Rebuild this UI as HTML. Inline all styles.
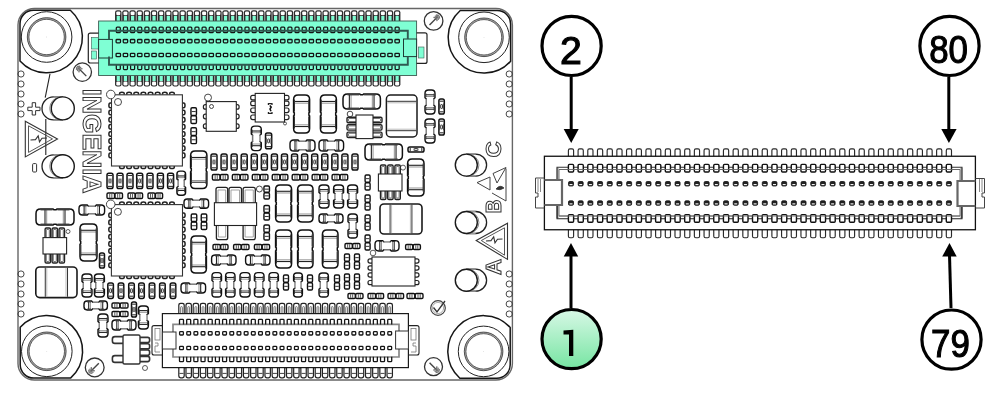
<!DOCTYPE html><html><head><meta charset="utf-8"><style>html,body{margin:0;padding:0;background:#fff;width:1000px;height:400px;overflow:hidden}svg{display:block}</style></head><body>
<svg width="1000" height="400" viewBox="0 0 1000 400" style="will-change:transform">
<defs><linearGradient id="gg" x1="0" y1="0" x2="0" y2="1"><stop offset="0" stop-color="#d8f8e6"/><stop offset="1" stop-color="#76e5a2"/></linearGradient></defs>
<rect width="1000" height="400" fill="#fff"/>
<rect x="18" y="8.5" width="494.4" height="371.5" rx="16.5" fill="none" stroke="#666" stroke-width="1.4" />
<path d="M70.34,10.2 A35.8,35.8 0 1 1 20,60.96 L20,23.7 A13.5,13.5 0 0 1 33.5,10.2 Z" fill="none" stroke="#161616" stroke-width="1.5" />
<circle cx="46.6" cy="37" r="25.3" fill="none" stroke="#222" stroke-width="1" />
<circle cx="46.6" cy="37" r="18.5" fill="none" stroke="#aaa" stroke-width="1.8" />
<circle cx="46.6" cy="37" r="19.3" fill="none" stroke="#333" stroke-width="0.8" />
<circle cx="46.6" cy="37" r="17.7" fill="none" stroke="#444" stroke-width="0.8" />
<circle cx="46.6" cy="37" r="0.4" fill="#bbb" stroke="none" stroke-width="1" />
<path d="M460.26,10.5 A35.8,35.8 0 1 0 510.6,61.26 L510.6,24 A13.5,13.5 0 0 0 497.1,10.5 Z" fill="none" stroke="#161616" stroke-width="1.5" />
<circle cx="484" cy="37.3" r="25.3" fill="none" stroke="#222" stroke-width="1" />
<circle cx="484" cy="37.3" r="18.5" fill="none" stroke="#aaa" stroke-width="1.8" />
<circle cx="484" cy="37.3" r="19.3" fill="none" stroke="#333" stroke-width="0.8" />
<circle cx="484" cy="37.3" r="17.7" fill="none" stroke="#444" stroke-width="0.8" />
<circle cx="484" cy="37.3" r="0.4" fill="#bbb" stroke="none" stroke-width="1" />
<path d="M70.54,378.1 A35.8,35.8 0 1 0 20.2,327.34 L20.2,364.6 A13.5,13.5 0 0 0 33.7,378.1 Z" fill="none" stroke="#161616" stroke-width="1.5" />
<circle cx="46.8" cy="351.3" r="25.3" fill="none" stroke="#222" stroke-width="1" />
<circle cx="46.8" cy="351.3" r="18.5" fill="none" stroke="#aaa" stroke-width="1.8" />
<circle cx="46.8" cy="351.3" r="19.3" fill="none" stroke="#333" stroke-width="0.8" />
<circle cx="46.8" cy="351.3" r="17.7" fill="none" stroke="#444" stroke-width="0.8" />
<circle cx="46.8" cy="351.3" r="0.4" fill="#bbb" stroke="none" stroke-width="1" />
<path d="M459.86,378.2 A35.8,35.8 0 1 1 510.2,327.44 L510.2,364.7 A13.5,13.5 0 0 1 496.7,378.2 Z" fill="none" stroke="#161616" stroke-width="1.5" />
<circle cx="483.6" cy="351.4" r="25.3" fill="none" stroke="#222" stroke-width="1" />
<circle cx="483.6" cy="351.4" r="18.5" fill="none" stroke="#aaa" stroke-width="1.8" />
<circle cx="483.6" cy="351.4" r="19.3" fill="none" stroke="#333" stroke-width="0.8" />
<circle cx="483.6" cy="351.4" r="17.7" fill="none" stroke="#444" stroke-width="0.8" />
<circle cx="483.6" cy="351.4" r="0.4" fill="#bbb" stroke="none" stroke-width="1" />
<circle cx="21" cy="74" r="3.1" fill="none" stroke="#333" stroke-width="0.9" />
<circle cx="21" cy="84" r="3.1" fill="none" stroke="#333" stroke-width="0.9" />
<circle cx="21" cy="94" r="3.1" fill="none" stroke="#333" stroke-width="0.9" />
<circle cx="21" cy="104" r="3.1" fill="none" stroke="#333" stroke-width="0.9" />
<circle cx="21" cy="114" r="3.1" fill="none" stroke="#333" stroke-width="0.9" />
<circle cx="21" cy="274" r="3.1" fill="none" stroke="#333" stroke-width="0.9" />
<circle cx="21" cy="284" r="3.1" fill="none" stroke="#333" stroke-width="0.9" />
<circle cx="21" cy="294" r="3.1" fill="none" stroke="#333" stroke-width="0.9" />
<circle cx="21" cy="304" r="3.1" fill="none" stroke="#333" stroke-width="0.9" />
<circle cx="21" cy="314" r="3.1" fill="none" stroke="#333" stroke-width="0.9" />
<circle cx="509.2" cy="74" r="3.1" fill="none" stroke="#333" stroke-width="0.9" />
<circle cx="509.2" cy="84" r="3.1" fill="none" stroke="#333" stroke-width="0.9" />
<circle cx="509.2" cy="94" r="3.1" fill="none" stroke="#333" stroke-width="0.9" />
<circle cx="509.2" cy="104" r="3.1" fill="none" stroke="#333" stroke-width="0.9" />
<circle cx="509.2" cy="114" r="3.1" fill="none" stroke="#333" stroke-width="0.9" />
<circle cx="509.2" cy="274" r="3.1" fill="none" stroke="#333" stroke-width="0.9" />
<circle cx="509.2" cy="284" r="3.1" fill="none" stroke="#333" stroke-width="0.9" />
<circle cx="509.2" cy="294" r="3.1" fill="none" stroke="#333" stroke-width="0.9" />
<circle cx="509.2" cy="304" r="3.1" fill="none" stroke="#333" stroke-width="0.9" />
<circle cx="509.2" cy="314" r="3.1" fill="none" stroke="#333" stroke-width="0.9" />
<rect x="115.05" y="10.3" width="6.5" height="12.7" rx="2.2" fill="#2b2b2b" stroke="none" stroke-width="1" />
<rect x="116.3" y="11.4" width="4" height="3.9" rx="1.2" fill="#fff" stroke="none" stroke-width="1" />
<rect x="116.7" y="16" width="3.2" height="6" rx="0" fill="#7fffd4" stroke="none" stroke-width="1" />
<rect x="115.05" y="73" width="6.5" height="13.5" rx="2.2" fill="#2b2b2b" stroke="none" stroke-width="1" />
<rect x="116.7" y="74" width="3.2" height="7" rx="0" fill="#7fffd4" stroke="none" stroke-width="1" />
<rect x="116.3" y="81.6" width="4" height="3.8" rx="1.2" fill="#fff" stroke="none" stroke-width="1" />
<rect x="122.2" y="10.3" width="6.5" height="12.7" rx="2.2" fill="#2b2b2b" stroke="none" stroke-width="1" />
<rect x="123.45" y="11.4" width="4" height="3.9" rx="1.2" fill="#fff" stroke="none" stroke-width="1" />
<rect x="123.85" y="16" width="3.2" height="6" rx="0" fill="#7fffd4" stroke="none" stroke-width="1" />
<rect x="122.2" y="73" width="6.5" height="13.5" rx="2.2" fill="#2b2b2b" stroke="none" stroke-width="1" />
<rect x="123.85" y="74" width="3.2" height="7" rx="0" fill="#7fffd4" stroke="none" stroke-width="1" />
<rect x="123.45" y="81.6" width="4" height="3.8" rx="1.2" fill="#fff" stroke="none" stroke-width="1" />
<rect x="129.35" y="10.3" width="6.5" height="12.7" rx="2.2" fill="#2b2b2b" stroke="none" stroke-width="1" />
<rect x="130.6" y="11.4" width="4" height="3.9" rx="1.2" fill="#fff" stroke="none" stroke-width="1" />
<rect x="131" y="16" width="3.2" height="6" rx="0" fill="#7fffd4" stroke="none" stroke-width="1" />
<rect x="129.35" y="73" width="6.5" height="13.5" rx="2.2" fill="#2b2b2b" stroke="none" stroke-width="1" />
<rect x="131" y="74" width="3.2" height="7" rx="0" fill="#7fffd4" stroke="none" stroke-width="1" />
<rect x="130.6" y="81.6" width="4" height="3.8" rx="1.2" fill="#fff" stroke="none" stroke-width="1" />
<rect x="136.5" y="10.3" width="6.5" height="12.7" rx="2.2" fill="#2b2b2b" stroke="none" stroke-width="1" />
<rect x="137.75" y="11.4" width="4" height="3.9" rx="1.2" fill="#fff" stroke="none" stroke-width="1" />
<rect x="138.15" y="16" width="3.2" height="6" rx="0" fill="#7fffd4" stroke="none" stroke-width="1" />
<rect x="136.5" y="73" width="6.5" height="13.5" rx="2.2" fill="#2b2b2b" stroke="none" stroke-width="1" />
<rect x="138.15" y="74" width="3.2" height="7" rx="0" fill="#7fffd4" stroke="none" stroke-width="1" />
<rect x="137.75" y="81.6" width="4" height="3.8" rx="1.2" fill="#fff" stroke="none" stroke-width="1" />
<rect x="143.65" y="10.3" width="6.5" height="12.7" rx="2.2" fill="#2b2b2b" stroke="none" stroke-width="1" />
<rect x="144.9" y="11.4" width="4" height="3.9" rx="1.2" fill="#fff" stroke="none" stroke-width="1" />
<rect x="145.3" y="16" width="3.2" height="6" rx="0" fill="#7fffd4" stroke="none" stroke-width="1" />
<rect x="143.65" y="73" width="6.5" height="13.5" rx="2.2" fill="#2b2b2b" stroke="none" stroke-width="1" />
<rect x="145.3" y="74" width="3.2" height="7" rx="0" fill="#7fffd4" stroke="none" stroke-width="1" />
<rect x="144.9" y="81.6" width="4" height="3.8" rx="1.2" fill="#fff" stroke="none" stroke-width="1" />
<rect x="150.8" y="10.3" width="6.5" height="12.7" rx="2.2" fill="#2b2b2b" stroke="none" stroke-width="1" />
<rect x="152.05" y="11.4" width="4" height="3.9" rx="1.2" fill="#fff" stroke="none" stroke-width="1" />
<rect x="152.45" y="16" width="3.2" height="6" rx="0" fill="#7fffd4" stroke="none" stroke-width="1" />
<rect x="150.8" y="73" width="6.5" height="13.5" rx="2.2" fill="#2b2b2b" stroke="none" stroke-width="1" />
<rect x="152.45" y="74" width="3.2" height="7" rx="0" fill="#7fffd4" stroke="none" stroke-width="1" />
<rect x="152.05" y="81.6" width="4" height="3.8" rx="1.2" fill="#fff" stroke="none" stroke-width="1" />
<rect x="157.95" y="10.3" width="6.5" height="12.7" rx="2.2" fill="#2b2b2b" stroke="none" stroke-width="1" />
<rect x="159.2" y="11.4" width="4" height="3.9" rx="1.2" fill="#fff" stroke="none" stroke-width="1" />
<rect x="159.6" y="16" width="3.2" height="6" rx="0" fill="#7fffd4" stroke="none" stroke-width="1" />
<rect x="157.95" y="73" width="6.5" height="13.5" rx="2.2" fill="#2b2b2b" stroke="none" stroke-width="1" />
<rect x="159.6" y="74" width="3.2" height="7" rx="0" fill="#7fffd4" stroke="none" stroke-width="1" />
<rect x="159.2" y="81.6" width="4" height="3.8" rx="1.2" fill="#fff" stroke="none" stroke-width="1" />
<rect x="165.1" y="10.3" width="6.5" height="12.7" rx="2.2" fill="#2b2b2b" stroke="none" stroke-width="1" />
<rect x="166.35" y="11.4" width="4" height="3.9" rx="1.2" fill="#fff" stroke="none" stroke-width="1" />
<rect x="166.75" y="16" width="3.2" height="6" rx="0" fill="#7fffd4" stroke="none" stroke-width="1" />
<rect x="165.1" y="73" width="6.5" height="13.5" rx="2.2" fill="#2b2b2b" stroke="none" stroke-width="1" />
<rect x="166.75" y="74" width="3.2" height="7" rx="0" fill="#7fffd4" stroke="none" stroke-width="1" />
<rect x="166.35" y="81.6" width="4" height="3.8" rx="1.2" fill="#fff" stroke="none" stroke-width="1" />
<rect x="172.25" y="10.3" width="6.5" height="12.7" rx="2.2" fill="#2b2b2b" stroke="none" stroke-width="1" />
<rect x="173.5" y="11.4" width="4" height="3.9" rx="1.2" fill="#fff" stroke="none" stroke-width="1" />
<rect x="173.9" y="16" width="3.2" height="6" rx="0" fill="#7fffd4" stroke="none" stroke-width="1" />
<rect x="172.25" y="73" width="6.5" height="13.5" rx="2.2" fill="#2b2b2b" stroke="none" stroke-width="1" />
<rect x="173.9" y="74" width="3.2" height="7" rx="0" fill="#7fffd4" stroke="none" stroke-width="1" />
<rect x="173.5" y="81.6" width="4" height="3.8" rx="1.2" fill="#fff" stroke="none" stroke-width="1" />
<rect x="179.4" y="10.3" width="6.5" height="12.7" rx="2.2" fill="#2b2b2b" stroke="none" stroke-width="1" />
<rect x="180.65" y="11.4" width="4" height="3.9" rx="1.2" fill="#fff" stroke="none" stroke-width="1" />
<rect x="181.05" y="16" width="3.2" height="6" rx="0" fill="#7fffd4" stroke="none" stroke-width="1" />
<rect x="179.4" y="73" width="6.5" height="13.5" rx="2.2" fill="#2b2b2b" stroke="none" stroke-width="1" />
<rect x="181.05" y="74" width="3.2" height="7" rx="0" fill="#7fffd4" stroke="none" stroke-width="1" />
<rect x="180.65" y="81.6" width="4" height="3.8" rx="1.2" fill="#fff" stroke="none" stroke-width="1" />
<rect x="186.55" y="10.3" width="6.5" height="12.7" rx="2.2" fill="#2b2b2b" stroke="none" stroke-width="1" />
<rect x="187.8" y="11.4" width="4" height="3.9" rx="1.2" fill="#fff" stroke="none" stroke-width="1" />
<rect x="188.2" y="16" width="3.2" height="6" rx="0" fill="#7fffd4" stroke="none" stroke-width="1" />
<rect x="186.55" y="73" width="6.5" height="13.5" rx="2.2" fill="#2b2b2b" stroke="none" stroke-width="1" />
<rect x="188.2" y="74" width="3.2" height="7" rx="0" fill="#7fffd4" stroke="none" stroke-width="1" />
<rect x="187.8" y="81.6" width="4" height="3.8" rx="1.2" fill="#fff" stroke="none" stroke-width="1" />
<rect x="193.7" y="10.3" width="6.5" height="12.7" rx="2.2" fill="#2b2b2b" stroke="none" stroke-width="1" />
<rect x="194.95" y="11.4" width="4" height="3.9" rx="1.2" fill="#fff" stroke="none" stroke-width="1" />
<rect x="195.35" y="16" width="3.2" height="6" rx="0" fill="#7fffd4" stroke="none" stroke-width="1" />
<rect x="193.7" y="73" width="6.5" height="13.5" rx="2.2" fill="#2b2b2b" stroke="none" stroke-width="1" />
<rect x="195.35" y="74" width="3.2" height="7" rx="0" fill="#7fffd4" stroke="none" stroke-width="1" />
<rect x="194.95" y="81.6" width="4" height="3.8" rx="1.2" fill="#fff" stroke="none" stroke-width="1" />
<rect x="200.85" y="10.3" width="6.5" height="12.7" rx="2.2" fill="#2b2b2b" stroke="none" stroke-width="1" />
<rect x="202.1" y="11.4" width="4" height="3.9" rx="1.2" fill="#fff" stroke="none" stroke-width="1" />
<rect x="202.5" y="16" width="3.2" height="6" rx="0" fill="#7fffd4" stroke="none" stroke-width="1" />
<rect x="200.85" y="73" width="6.5" height="13.5" rx="2.2" fill="#2b2b2b" stroke="none" stroke-width="1" />
<rect x="202.5" y="74" width="3.2" height="7" rx="0" fill="#7fffd4" stroke="none" stroke-width="1" />
<rect x="202.1" y="81.6" width="4" height="3.8" rx="1.2" fill="#fff" stroke="none" stroke-width="1" />
<rect x="208" y="10.3" width="6.5" height="12.7" rx="2.2" fill="#2b2b2b" stroke="none" stroke-width="1" />
<rect x="209.25" y="11.4" width="4" height="3.9" rx="1.2" fill="#fff" stroke="none" stroke-width="1" />
<rect x="209.65" y="16" width="3.2" height="6" rx="0" fill="#7fffd4" stroke="none" stroke-width="1" />
<rect x="208" y="73" width="6.5" height="13.5" rx="2.2" fill="#2b2b2b" stroke="none" stroke-width="1" />
<rect x="209.65" y="74" width="3.2" height="7" rx="0" fill="#7fffd4" stroke="none" stroke-width="1" />
<rect x="209.25" y="81.6" width="4" height="3.8" rx="1.2" fill="#fff" stroke="none" stroke-width="1" />
<rect x="215.15" y="10.3" width="6.5" height="12.7" rx="2.2" fill="#2b2b2b" stroke="none" stroke-width="1" />
<rect x="216.4" y="11.4" width="4" height="3.9" rx="1.2" fill="#fff" stroke="none" stroke-width="1" />
<rect x="216.8" y="16" width="3.2" height="6" rx="0" fill="#7fffd4" stroke="none" stroke-width="1" />
<rect x="215.15" y="73" width="6.5" height="13.5" rx="2.2" fill="#2b2b2b" stroke="none" stroke-width="1" />
<rect x="216.8" y="74" width="3.2" height="7" rx="0" fill="#7fffd4" stroke="none" stroke-width="1" />
<rect x="216.4" y="81.6" width="4" height="3.8" rx="1.2" fill="#fff" stroke="none" stroke-width="1" />
<rect x="222.3" y="10.3" width="6.5" height="12.7" rx="2.2" fill="#2b2b2b" stroke="none" stroke-width="1" />
<rect x="223.55" y="11.4" width="4" height="3.9" rx="1.2" fill="#fff" stroke="none" stroke-width="1" />
<rect x="223.95" y="16" width="3.2" height="6" rx="0" fill="#7fffd4" stroke="none" stroke-width="1" />
<rect x="222.3" y="73" width="6.5" height="13.5" rx="2.2" fill="#2b2b2b" stroke="none" stroke-width="1" />
<rect x="223.95" y="74" width="3.2" height="7" rx="0" fill="#7fffd4" stroke="none" stroke-width="1" />
<rect x="223.55" y="81.6" width="4" height="3.8" rx="1.2" fill="#fff" stroke="none" stroke-width="1" />
<rect x="229.45" y="10.3" width="6.5" height="12.7" rx="2.2" fill="#2b2b2b" stroke="none" stroke-width="1" />
<rect x="230.7" y="11.4" width="4" height="3.9" rx="1.2" fill="#fff" stroke="none" stroke-width="1" />
<rect x="231.1" y="16" width="3.2" height="6" rx="0" fill="#7fffd4" stroke="none" stroke-width="1" />
<rect x="229.45" y="73" width="6.5" height="13.5" rx="2.2" fill="#2b2b2b" stroke="none" stroke-width="1" />
<rect x="231.1" y="74" width="3.2" height="7" rx="0" fill="#7fffd4" stroke="none" stroke-width="1" />
<rect x="230.7" y="81.6" width="4" height="3.8" rx="1.2" fill="#fff" stroke="none" stroke-width="1" />
<rect x="236.6" y="10.3" width="6.5" height="12.7" rx="2.2" fill="#2b2b2b" stroke="none" stroke-width="1" />
<rect x="237.85" y="11.4" width="4" height="3.9" rx="1.2" fill="#fff" stroke="none" stroke-width="1" />
<rect x="238.25" y="16" width="3.2" height="6" rx="0" fill="#7fffd4" stroke="none" stroke-width="1" />
<rect x="236.6" y="73" width="6.5" height="13.5" rx="2.2" fill="#2b2b2b" stroke="none" stroke-width="1" />
<rect x="238.25" y="74" width="3.2" height="7" rx="0" fill="#7fffd4" stroke="none" stroke-width="1" />
<rect x="237.85" y="81.6" width="4" height="3.8" rx="1.2" fill="#fff" stroke="none" stroke-width="1" />
<rect x="243.75" y="10.3" width="6.5" height="12.7" rx="2.2" fill="#2b2b2b" stroke="none" stroke-width="1" />
<rect x="245" y="11.4" width="4" height="3.9" rx="1.2" fill="#fff" stroke="none" stroke-width="1" />
<rect x="245.4" y="16" width="3.2" height="6" rx="0" fill="#7fffd4" stroke="none" stroke-width="1" />
<rect x="243.75" y="73" width="6.5" height="13.5" rx="2.2" fill="#2b2b2b" stroke="none" stroke-width="1" />
<rect x="245.4" y="74" width="3.2" height="7" rx="0" fill="#7fffd4" stroke="none" stroke-width="1" />
<rect x="245" y="81.6" width="4" height="3.8" rx="1.2" fill="#fff" stroke="none" stroke-width="1" />
<rect x="250.9" y="10.3" width="6.5" height="12.7" rx="2.2" fill="#2b2b2b" stroke="none" stroke-width="1" />
<rect x="252.15" y="11.4" width="4" height="3.9" rx="1.2" fill="#fff" stroke="none" stroke-width="1" />
<rect x="252.55" y="16" width="3.2" height="6" rx="0" fill="#7fffd4" stroke="none" stroke-width="1" />
<rect x="250.9" y="73" width="6.5" height="13.5" rx="2.2" fill="#2b2b2b" stroke="none" stroke-width="1" />
<rect x="252.55" y="74" width="3.2" height="7" rx="0" fill="#7fffd4" stroke="none" stroke-width="1" />
<rect x="252.15" y="81.6" width="4" height="3.8" rx="1.2" fill="#fff" stroke="none" stroke-width="1" />
<rect x="258.05" y="10.3" width="6.5" height="12.7" rx="2.2" fill="#2b2b2b" stroke="none" stroke-width="1" />
<rect x="259.3" y="11.4" width="4" height="3.9" rx="1.2" fill="#fff" stroke="none" stroke-width="1" />
<rect x="259.7" y="16" width="3.2" height="6" rx="0" fill="#7fffd4" stroke="none" stroke-width="1" />
<rect x="258.05" y="73" width="6.5" height="13.5" rx="2.2" fill="#2b2b2b" stroke="none" stroke-width="1" />
<rect x="259.7" y="74" width="3.2" height="7" rx="0" fill="#7fffd4" stroke="none" stroke-width="1" />
<rect x="259.3" y="81.6" width="4" height="3.8" rx="1.2" fill="#fff" stroke="none" stroke-width="1" />
<rect x="265.2" y="10.3" width="6.5" height="12.7" rx="2.2" fill="#2b2b2b" stroke="none" stroke-width="1" />
<rect x="266.45" y="11.4" width="4" height="3.9" rx="1.2" fill="#fff" stroke="none" stroke-width="1" />
<rect x="266.85" y="16" width="3.2" height="6" rx="0" fill="#7fffd4" stroke="none" stroke-width="1" />
<rect x="265.2" y="73" width="6.5" height="13.5" rx="2.2" fill="#2b2b2b" stroke="none" stroke-width="1" />
<rect x="266.85" y="74" width="3.2" height="7" rx="0" fill="#7fffd4" stroke="none" stroke-width="1" />
<rect x="266.45" y="81.6" width="4" height="3.8" rx="1.2" fill="#fff" stroke="none" stroke-width="1" />
<rect x="272.35" y="10.3" width="6.5" height="12.7" rx="2.2" fill="#2b2b2b" stroke="none" stroke-width="1" />
<rect x="273.6" y="11.4" width="4" height="3.9" rx="1.2" fill="#fff" stroke="none" stroke-width="1" />
<rect x="274" y="16" width="3.2" height="6" rx="0" fill="#7fffd4" stroke="none" stroke-width="1" />
<rect x="272.35" y="73" width="6.5" height="13.5" rx="2.2" fill="#2b2b2b" stroke="none" stroke-width="1" />
<rect x="274" y="74" width="3.2" height="7" rx="0" fill="#7fffd4" stroke="none" stroke-width="1" />
<rect x="273.6" y="81.6" width="4" height="3.8" rx="1.2" fill="#fff" stroke="none" stroke-width="1" />
<rect x="279.5" y="10.3" width="6.5" height="12.7" rx="2.2" fill="#2b2b2b" stroke="none" stroke-width="1" />
<rect x="280.75" y="11.4" width="4" height="3.9" rx="1.2" fill="#fff" stroke="none" stroke-width="1" />
<rect x="281.15" y="16" width="3.2" height="6" rx="0" fill="#7fffd4" stroke="none" stroke-width="1" />
<rect x="279.5" y="73" width="6.5" height="13.5" rx="2.2" fill="#2b2b2b" stroke="none" stroke-width="1" />
<rect x="281.15" y="74" width="3.2" height="7" rx="0" fill="#7fffd4" stroke="none" stroke-width="1" />
<rect x="280.75" y="81.6" width="4" height="3.8" rx="1.2" fill="#fff" stroke="none" stroke-width="1" />
<rect x="286.65" y="10.3" width="6.5" height="12.7" rx="2.2" fill="#2b2b2b" stroke="none" stroke-width="1" />
<rect x="287.9" y="11.4" width="4" height="3.9" rx="1.2" fill="#fff" stroke="none" stroke-width="1" />
<rect x="288.3" y="16" width="3.2" height="6" rx="0" fill="#7fffd4" stroke="none" stroke-width="1" />
<rect x="286.65" y="73" width="6.5" height="13.5" rx="2.2" fill="#2b2b2b" stroke="none" stroke-width="1" />
<rect x="288.3" y="74" width="3.2" height="7" rx="0" fill="#7fffd4" stroke="none" stroke-width="1" />
<rect x="287.9" y="81.6" width="4" height="3.8" rx="1.2" fill="#fff" stroke="none" stroke-width="1" />
<rect x="293.8" y="10.3" width="6.5" height="12.7" rx="2.2" fill="#2b2b2b" stroke="none" stroke-width="1" />
<rect x="295.05" y="11.4" width="4" height="3.9" rx="1.2" fill="#fff" stroke="none" stroke-width="1" />
<rect x="295.45" y="16" width="3.2" height="6" rx="0" fill="#7fffd4" stroke="none" stroke-width="1" />
<rect x="293.8" y="73" width="6.5" height="13.5" rx="2.2" fill="#2b2b2b" stroke="none" stroke-width="1" />
<rect x="295.45" y="74" width="3.2" height="7" rx="0" fill="#7fffd4" stroke="none" stroke-width="1" />
<rect x="295.05" y="81.6" width="4" height="3.8" rx="1.2" fill="#fff" stroke="none" stroke-width="1" />
<rect x="300.95" y="10.3" width="6.5" height="12.7" rx="2.2" fill="#2b2b2b" stroke="none" stroke-width="1" />
<rect x="302.2" y="11.4" width="4" height="3.9" rx="1.2" fill="#fff" stroke="none" stroke-width="1" />
<rect x="302.6" y="16" width="3.2" height="6" rx="0" fill="#7fffd4" stroke="none" stroke-width="1" />
<rect x="300.95" y="73" width="6.5" height="13.5" rx="2.2" fill="#2b2b2b" stroke="none" stroke-width="1" />
<rect x="302.6" y="74" width="3.2" height="7" rx="0" fill="#7fffd4" stroke="none" stroke-width="1" />
<rect x="302.2" y="81.6" width="4" height="3.8" rx="1.2" fill="#fff" stroke="none" stroke-width="1" />
<rect x="308.1" y="10.3" width="6.5" height="12.7" rx="2.2" fill="#2b2b2b" stroke="none" stroke-width="1" />
<rect x="309.35" y="11.4" width="4" height="3.9" rx="1.2" fill="#fff" stroke="none" stroke-width="1" />
<rect x="309.75" y="16" width="3.2" height="6" rx="0" fill="#7fffd4" stroke="none" stroke-width="1" />
<rect x="308.1" y="73" width="6.5" height="13.5" rx="2.2" fill="#2b2b2b" stroke="none" stroke-width="1" />
<rect x="309.75" y="74" width="3.2" height="7" rx="0" fill="#7fffd4" stroke="none" stroke-width="1" />
<rect x="309.35" y="81.6" width="4" height="3.8" rx="1.2" fill="#fff" stroke="none" stroke-width="1" />
<rect x="315.25" y="10.3" width="6.5" height="12.7" rx="2.2" fill="#2b2b2b" stroke="none" stroke-width="1" />
<rect x="316.5" y="11.4" width="4" height="3.9" rx="1.2" fill="#fff" stroke="none" stroke-width="1" />
<rect x="316.9" y="16" width="3.2" height="6" rx="0" fill="#7fffd4" stroke="none" stroke-width="1" />
<rect x="315.25" y="73" width="6.5" height="13.5" rx="2.2" fill="#2b2b2b" stroke="none" stroke-width="1" />
<rect x="316.9" y="74" width="3.2" height="7" rx="0" fill="#7fffd4" stroke="none" stroke-width="1" />
<rect x="316.5" y="81.6" width="4" height="3.8" rx="1.2" fill="#fff" stroke="none" stroke-width="1" />
<rect x="322.4" y="10.3" width="6.5" height="12.7" rx="2.2" fill="#2b2b2b" stroke="none" stroke-width="1" />
<rect x="323.65" y="11.4" width="4" height="3.9" rx="1.2" fill="#fff" stroke="none" stroke-width="1" />
<rect x="324.05" y="16" width="3.2" height="6" rx="0" fill="#7fffd4" stroke="none" stroke-width="1" />
<rect x="322.4" y="73" width="6.5" height="13.5" rx="2.2" fill="#2b2b2b" stroke="none" stroke-width="1" />
<rect x="324.05" y="74" width="3.2" height="7" rx="0" fill="#7fffd4" stroke="none" stroke-width="1" />
<rect x="323.65" y="81.6" width="4" height="3.8" rx="1.2" fill="#fff" stroke="none" stroke-width="1" />
<rect x="329.55" y="10.3" width="6.5" height="12.7" rx="2.2" fill="#2b2b2b" stroke="none" stroke-width="1" />
<rect x="330.8" y="11.4" width="4" height="3.9" rx="1.2" fill="#fff" stroke="none" stroke-width="1" />
<rect x="331.2" y="16" width="3.2" height="6" rx="0" fill="#7fffd4" stroke="none" stroke-width="1" />
<rect x="329.55" y="73" width="6.5" height="13.5" rx="2.2" fill="#2b2b2b" stroke="none" stroke-width="1" />
<rect x="331.2" y="74" width="3.2" height="7" rx="0" fill="#7fffd4" stroke="none" stroke-width="1" />
<rect x="330.8" y="81.6" width="4" height="3.8" rx="1.2" fill="#fff" stroke="none" stroke-width="1" />
<rect x="336.7" y="10.3" width="6.5" height="12.7" rx="2.2" fill="#2b2b2b" stroke="none" stroke-width="1" />
<rect x="337.95" y="11.4" width="4" height="3.9" rx="1.2" fill="#fff" stroke="none" stroke-width="1" />
<rect x="338.35" y="16" width="3.2" height="6" rx="0" fill="#7fffd4" stroke="none" stroke-width="1" />
<rect x="336.7" y="73" width="6.5" height="13.5" rx="2.2" fill="#2b2b2b" stroke="none" stroke-width="1" />
<rect x="338.35" y="74" width="3.2" height="7" rx="0" fill="#7fffd4" stroke="none" stroke-width="1" />
<rect x="337.95" y="81.6" width="4" height="3.8" rx="1.2" fill="#fff" stroke="none" stroke-width="1" />
<rect x="343.85" y="10.3" width="6.5" height="12.7" rx="2.2" fill="#2b2b2b" stroke="none" stroke-width="1" />
<rect x="345.1" y="11.4" width="4" height="3.9" rx="1.2" fill="#fff" stroke="none" stroke-width="1" />
<rect x="345.5" y="16" width="3.2" height="6" rx="0" fill="#7fffd4" stroke="none" stroke-width="1" />
<rect x="343.85" y="73" width="6.5" height="13.5" rx="2.2" fill="#2b2b2b" stroke="none" stroke-width="1" />
<rect x="345.5" y="74" width="3.2" height="7" rx="0" fill="#7fffd4" stroke="none" stroke-width="1" />
<rect x="345.1" y="81.6" width="4" height="3.8" rx="1.2" fill="#fff" stroke="none" stroke-width="1" />
<rect x="351" y="10.3" width="6.5" height="12.7" rx="2.2" fill="#2b2b2b" stroke="none" stroke-width="1" />
<rect x="352.25" y="11.4" width="4" height="3.9" rx="1.2" fill="#fff" stroke="none" stroke-width="1" />
<rect x="352.65" y="16" width="3.2" height="6" rx="0" fill="#7fffd4" stroke="none" stroke-width="1" />
<rect x="351" y="73" width="6.5" height="13.5" rx="2.2" fill="#2b2b2b" stroke="none" stroke-width="1" />
<rect x="352.65" y="74" width="3.2" height="7" rx="0" fill="#7fffd4" stroke="none" stroke-width="1" />
<rect x="352.25" y="81.6" width="4" height="3.8" rx="1.2" fill="#fff" stroke="none" stroke-width="1" />
<rect x="358.15" y="10.3" width="6.5" height="12.7" rx="2.2" fill="#2b2b2b" stroke="none" stroke-width="1" />
<rect x="359.4" y="11.4" width="4" height="3.9" rx="1.2" fill="#fff" stroke="none" stroke-width="1" />
<rect x="359.8" y="16" width="3.2" height="6" rx="0" fill="#7fffd4" stroke="none" stroke-width="1" />
<rect x="358.15" y="73" width="6.5" height="13.5" rx="2.2" fill="#2b2b2b" stroke="none" stroke-width="1" />
<rect x="359.8" y="74" width="3.2" height="7" rx="0" fill="#7fffd4" stroke="none" stroke-width="1" />
<rect x="359.4" y="81.6" width="4" height="3.8" rx="1.2" fill="#fff" stroke="none" stroke-width="1" />
<rect x="365.3" y="10.3" width="6.5" height="12.7" rx="2.2" fill="#2b2b2b" stroke="none" stroke-width="1" />
<rect x="366.55" y="11.4" width="4" height="3.9" rx="1.2" fill="#fff" stroke="none" stroke-width="1" />
<rect x="366.95" y="16" width="3.2" height="6" rx="0" fill="#7fffd4" stroke="none" stroke-width="1" />
<rect x="365.3" y="73" width="6.5" height="13.5" rx="2.2" fill="#2b2b2b" stroke="none" stroke-width="1" />
<rect x="366.95" y="74" width="3.2" height="7" rx="0" fill="#7fffd4" stroke="none" stroke-width="1" />
<rect x="366.55" y="81.6" width="4" height="3.8" rx="1.2" fill="#fff" stroke="none" stroke-width="1" />
<rect x="372.45" y="10.3" width="6.5" height="12.7" rx="2.2" fill="#2b2b2b" stroke="none" stroke-width="1" />
<rect x="373.7" y="11.4" width="4" height="3.9" rx="1.2" fill="#fff" stroke="none" stroke-width="1" />
<rect x="374.1" y="16" width="3.2" height="6" rx="0" fill="#7fffd4" stroke="none" stroke-width="1" />
<rect x="372.45" y="73" width="6.5" height="13.5" rx="2.2" fill="#2b2b2b" stroke="none" stroke-width="1" />
<rect x="374.1" y="74" width="3.2" height="7" rx="0" fill="#7fffd4" stroke="none" stroke-width="1" />
<rect x="373.7" y="81.6" width="4" height="3.8" rx="1.2" fill="#fff" stroke="none" stroke-width="1" />
<rect x="379.6" y="10.3" width="6.5" height="12.7" rx="2.2" fill="#2b2b2b" stroke="none" stroke-width="1" />
<rect x="380.85" y="11.4" width="4" height="3.9" rx="1.2" fill="#fff" stroke="none" stroke-width="1" />
<rect x="381.25" y="16" width="3.2" height="6" rx="0" fill="#7fffd4" stroke="none" stroke-width="1" />
<rect x="379.6" y="73" width="6.5" height="13.5" rx="2.2" fill="#2b2b2b" stroke="none" stroke-width="1" />
<rect x="381.25" y="74" width="3.2" height="7" rx="0" fill="#7fffd4" stroke="none" stroke-width="1" />
<rect x="380.85" y="81.6" width="4" height="3.8" rx="1.2" fill="#fff" stroke="none" stroke-width="1" />
<rect x="386.75" y="10.3" width="6.5" height="12.7" rx="2.2" fill="#2b2b2b" stroke="none" stroke-width="1" />
<rect x="388" y="11.4" width="4" height="3.9" rx="1.2" fill="#fff" stroke="none" stroke-width="1" />
<rect x="388.4" y="16" width="3.2" height="6" rx="0" fill="#7fffd4" stroke="none" stroke-width="1" />
<rect x="386.75" y="73" width="6.5" height="13.5" rx="2.2" fill="#2b2b2b" stroke="none" stroke-width="1" />
<rect x="388.4" y="74" width="3.2" height="7" rx="0" fill="#7fffd4" stroke="none" stroke-width="1" />
<rect x="388" y="81.6" width="4" height="3.8" rx="1.2" fill="#fff" stroke="none" stroke-width="1" />
<rect x="393.9" y="10.3" width="6.5" height="12.7" rx="2.2" fill="#2b2b2b" stroke="none" stroke-width="1" />
<rect x="395.15" y="11.4" width="4" height="3.9" rx="1.2" fill="#fff" stroke="none" stroke-width="1" />
<rect x="395.55" y="16" width="3.2" height="6" rx="0" fill="#7fffd4" stroke="none" stroke-width="1" />
<rect x="393.9" y="73" width="6.5" height="13.5" rx="2.2" fill="#2b2b2b" stroke="none" stroke-width="1" />
<rect x="395.55" y="74" width="3.2" height="7" rx="0" fill="#7fffd4" stroke="none" stroke-width="1" />
<rect x="395.15" y="81.6" width="4" height="3.8" rx="1.2" fill="#fff" stroke="none" stroke-width="1" />
<rect x="98.6" y="21" width="318" height="54.5" rx="0" fill="#7fffd4" stroke="#3d5c52" stroke-width="0.9" />
<path d="M98.6,33.2 L90.3,33.2 Q88.3,33.2 88.3,35.2 L88.3,61 Q88.3,63 90.3,63 L98.6,63" fill="none" stroke="#222" stroke-width="1.2" />
<rect x="91.5" y="37.4" width="7.1" height="11.6" rx="0" fill="#7fffd4" stroke="#3d5c52" stroke-width="0.6" />
<rect x="91.5" y="51" width="5" height="8" rx="0" fill="#7fffd4" stroke="#3d5c52" stroke-width="0.6" />
<path d="M416.6,32.8 L425,32.8 Q427,32.8 427,34.8 L427,61.4 Q427,63.4 425,63.4 L416.6,63.4" fill="none" stroke="#222" stroke-width="1.2" />
<rect x="418.5" y="47" width="5.5" height="11" rx="0" fill="#7fffd4" stroke="#3d5c52" stroke-width="0.6" />
<rect x="98.6" y="39.4" width="13.8" height="18.6" rx="0" fill="#7fffd4" stroke="#1e3a33" stroke-width="1" />
<rect x="403.5" y="39" width="13.1" height="17.6" rx="0" fill="#7fffd4" stroke="#1e3a33" stroke-width="1" />
<rect x="116.3" y="27.2" width="4" height="5.4" rx="0.9" fill="#7fffd4" stroke="#151515" stroke-width="1.25" />
<path d="M116.3,64.2 L116.3,68.8 Q116.3,69.6 117.1,69.6 L119.5,69.6 Q120.3,69.6 120.3,68.8 L120.3,64.2" fill="none" stroke="#151515" stroke-width="1.25" />
<rect x="116.1" y="39.5" width="4.4" height="3.4" rx="0.8" fill="#7fffd4" stroke="#151515" stroke-width="1.3" />
<rect x="116.1" y="53.3" width="4.4" height="3.4" rx="0.8" fill="#7fffd4" stroke="#151515" stroke-width="1.3" />
<rect x="123.45" y="27.2" width="4" height="5.4" rx="0.9" fill="#7fffd4" stroke="#151515" stroke-width="1.25" />
<path d="M123.45,64.2 L123.45,68.8 Q123.45,69.6 124.25,69.6 L126.65,69.6 Q127.45,69.6 127.45,68.8 L127.45,64.2" fill="none" stroke="#151515" stroke-width="1.25" />
<rect x="123.25" y="39.5" width="4.4" height="3.4" rx="0.8" fill="#7fffd4" stroke="#151515" stroke-width="1.3" />
<rect x="123.25" y="53.3" width="4.4" height="3.4" rx="0.8" fill="#7fffd4" stroke="#151515" stroke-width="1.3" />
<rect x="130.6" y="27.2" width="4" height="5.4" rx="0.9" fill="#7fffd4" stroke="#151515" stroke-width="1.25" />
<path d="M130.6,64.2 L130.6,68.8 Q130.6,69.6 131.4,69.6 L133.8,69.6 Q134.6,69.6 134.6,68.8 L134.6,64.2" fill="none" stroke="#151515" stroke-width="1.25" />
<rect x="130.4" y="39.5" width="4.4" height="3.4" rx="0.8" fill="#7fffd4" stroke="#151515" stroke-width="1.3" />
<rect x="130.4" y="53.3" width="4.4" height="3.4" rx="0.8" fill="#7fffd4" stroke="#151515" stroke-width="1.3" />
<rect x="137.75" y="27.2" width="4" height="5.4" rx="0.9" fill="#7fffd4" stroke="#151515" stroke-width="1.25" />
<path d="M137.75,64.2 L137.75,68.8 Q137.75,69.6 138.55,69.6 L140.95,69.6 Q141.75,69.6 141.75,68.8 L141.75,64.2" fill="none" stroke="#151515" stroke-width="1.25" />
<rect x="137.55" y="39.5" width="4.4" height="3.4" rx="0.8" fill="#7fffd4" stroke="#151515" stroke-width="1.3" />
<rect x="137.55" y="53.3" width="4.4" height="3.4" rx="0.8" fill="#7fffd4" stroke="#151515" stroke-width="1.3" />
<rect x="144.9" y="27.2" width="4" height="5.4" rx="0.9" fill="#7fffd4" stroke="#151515" stroke-width="1.25" />
<path d="M144.9,64.2 L144.9,68.8 Q144.9,69.6 145.7,69.6 L148.1,69.6 Q148.9,69.6 148.9,68.8 L148.9,64.2" fill="none" stroke="#151515" stroke-width="1.25" />
<rect x="144.7" y="39.5" width="4.4" height="3.4" rx="0.8" fill="#7fffd4" stroke="#151515" stroke-width="1.3" />
<rect x="144.7" y="53.3" width="4.4" height="3.4" rx="0.8" fill="#7fffd4" stroke="#151515" stroke-width="1.3" />
<rect x="152.05" y="27.2" width="4" height="5.4" rx="0.9" fill="#7fffd4" stroke="#151515" stroke-width="1.25" />
<path d="M152.05,64.2 L152.05,68.8 Q152.05,69.6 152.85,69.6 L155.25,69.6 Q156.05,69.6 156.05,68.8 L156.05,64.2" fill="none" stroke="#151515" stroke-width="1.25" />
<rect x="151.85" y="39.5" width="4.4" height="3.4" rx="0.8" fill="#7fffd4" stroke="#151515" stroke-width="1.3" />
<rect x="151.85" y="53.3" width="4.4" height="3.4" rx="0.8" fill="#7fffd4" stroke="#151515" stroke-width="1.3" />
<rect x="159.2" y="27.2" width="4" height="5.4" rx="0.9" fill="#7fffd4" stroke="#151515" stroke-width="1.25" />
<path d="M159.2,64.2 L159.2,68.8 Q159.2,69.6 160,69.6 L162.4,69.6 Q163.2,69.6 163.2,68.8 L163.2,64.2" fill="none" stroke="#151515" stroke-width="1.25" />
<rect x="159" y="39.5" width="4.4" height="3.4" rx="0.8" fill="#7fffd4" stroke="#151515" stroke-width="1.3" />
<rect x="159" y="53.3" width="4.4" height="3.4" rx="0.8" fill="#7fffd4" stroke="#151515" stroke-width="1.3" />
<rect x="166.35" y="27.2" width="4" height="5.4" rx="0.9" fill="#7fffd4" stroke="#151515" stroke-width="1.25" />
<path d="M166.35,64.2 L166.35,68.8 Q166.35,69.6 167.15,69.6 L169.55,69.6 Q170.35,69.6 170.35,68.8 L170.35,64.2" fill="none" stroke="#151515" stroke-width="1.25" />
<rect x="166.15" y="39.5" width="4.4" height="3.4" rx="0.8" fill="#7fffd4" stroke="#151515" stroke-width="1.3" />
<rect x="166.15" y="53.3" width="4.4" height="3.4" rx="0.8" fill="#7fffd4" stroke="#151515" stroke-width="1.3" />
<rect x="173.5" y="27.2" width="4" height="5.4" rx="0.9" fill="#7fffd4" stroke="#151515" stroke-width="1.25" />
<path d="M173.5,64.2 L173.5,68.8 Q173.5,69.6 174.3,69.6 L176.7,69.6 Q177.5,69.6 177.5,68.8 L177.5,64.2" fill="none" stroke="#151515" stroke-width="1.25" />
<rect x="173.3" y="39.5" width="4.4" height="3.4" rx="0.8" fill="#7fffd4" stroke="#151515" stroke-width="1.3" />
<rect x="173.3" y="53.3" width="4.4" height="3.4" rx="0.8" fill="#7fffd4" stroke="#151515" stroke-width="1.3" />
<rect x="180.65" y="27.2" width="4" height="5.4" rx="0.9" fill="#7fffd4" stroke="#151515" stroke-width="1.25" />
<path d="M180.65,64.2 L180.65,68.8 Q180.65,69.6 181.45,69.6 L183.85,69.6 Q184.65,69.6 184.65,68.8 L184.65,64.2" fill="none" stroke="#151515" stroke-width="1.25" />
<rect x="180.45" y="39.5" width="4.4" height="3.4" rx="0.8" fill="#7fffd4" stroke="#151515" stroke-width="1.3" />
<rect x="180.45" y="53.3" width="4.4" height="3.4" rx="0.8" fill="#7fffd4" stroke="#151515" stroke-width="1.3" />
<rect x="187.8" y="27.2" width="4" height="5.4" rx="0.9" fill="#7fffd4" stroke="#151515" stroke-width="1.25" />
<path d="M187.8,64.2 L187.8,68.8 Q187.8,69.6 188.6,69.6 L191,69.6 Q191.8,69.6 191.8,68.8 L191.8,64.2" fill="none" stroke="#151515" stroke-width="1.25" />
<rect x="187.6" y="39.5" width="4.4" height="3.4" rx="0.8" fill="#7fffd4" stroke="#151515" stroke-width="1.3" />
<rect x="187.6" y="53.3" width="4.4" height="3.4" rx="0.8" fill="#7fffd4" stroke="#151515" stroke-width="1.3" />
<rect x="194.95" y="27.2" width="4" height="5.4" rx="0.9" fill="#7fffd4" stroke="#151515" stroke-width="1.25" />
<path d="M194.95,64.2 L194.95,68.8 Q194.95,69.6 195.75,69.6 L198.15,69.6 Q198.95,69.6 198.95,68.8 L198.95,64.2" fill="none" stroke="#151515" stroke-width="1.25" />
<rect x="194.75" y="39.5" width="4.4" height="3.4" rx="0.8" fill="#7fffd4" stroke="#151515" stroke-width="1.3" />
<rect x="194.75" y="53.3" width="4.4" height="3.4" rx="0.8" fill="#7fffd4" stroke="#151515" stroke-width="1.3" />
<rect x="202.1" y="27.2" width="4" height="5.4" rx="0.9" fill="#7fffd4" stroke="#151515" stroke-width="1.25" />
<path d="M202.1,64.2 L202.1,68.8 Q202.1,69.6 202.9,69.6 L205.3,69.6 Q206.1,69.6 206.1,68.8 L206.1,64.2" fill="none" stroke="#151515" stroke-width="1.25" />
<rect x="201.9" y="39.5" width="4.4" height="3.4" rx="0.8" fill="#7fffd4" stroke="#151515" stroke-width="1.3" />
<rect x="201.9" y="53.3" width="4.4" height="3.4" rx="0.8" fill="#7fffd4" stroke="#151515" stroke-width="1.3" />
<rect x="209.25" y="27.2" width="4" height="5.4" rx="0.9" fill="#7fffd4" stroke="#151515" stroke-width="1.25" />
<path d="M209.25,64.2 L209.25,68.8 Q209.25,69.6 210.05,69.6 L212.45,69.6 Q213.25,69.6 213.25,68.8 L213.25,64.2" fill="none" stroke="#151515" stroke-width="1.25" />
<rect x="209.05" y="39.5" width="4.4" height="3.4" rx="0.8" fill="#7fffd4" stroke="#151515" stroke-width="1.3" />
<rect x="209.05" y="53.3" width="4.4" height="3.4" rx="0.8" fill="#7fffd4" stroke="#151515" stroke-width="1.3" />
<rect x="216.4" y="27.2" width="4" height="5.4" rx="0.9" fill="#7fffd4" stroke="#151515" stroke-width="1.25" />
<path d="M216.4,64.2 L216.4,68.8 Q216.4,69.6 217.2,69.6 L219.6,69.6 Q220.4,69.6 220.4,68.8 L220.4,64.2" fill="none" stroke="#151515" stroke-width="1.25" />
<rect x="216.2" y="39.5" width="4.4" height="3.4" rx="0.8" fill="#7fffd4" stroke="#151515" stroke-width="1.3" />
<rect x="216.2" y="53.3" width="4.4" height="3.4" rx="0.8" fill="#7fffd4" stroke="#151515" stroke-width="1.3" />
<rect x="223.55" y="27.2" width="4" height="5.4" rx="0.9" fill="#7fffd4" stroke="#151515" stroke-width="1.25" />
<path d="M223.55,64.2 L223.55,68.8 Q223.55,69.6 224.35,69.6 L226.75,69.6 Q227.55,69.6 227.55,68.8 L227.55,64.2" fill="none" stroke="#151515" stroke-width="1.25" />
<rect x="223.35" y="39.5" width="4.4" height="3.4" rx="0.8" fill="#7fffd4" stroke="#151515" stroke-width="1.3" />
<rect x="223.35" y="53.3" width="4.4" height="3.4" rx="0.8" fill="#7fffd4" stroke="#151515" stroke-width="1.3" />
<rect x="230.7" y="27.2" width="4" height="5.4" rx="0.9" fill="#7fffd4" stroke="#151515" stroke-width="1.25" />
<path d="M230.7,64.2 L230.7,68.8 Q230.7,69.6 231.5,69.6 L233.9,69.6 Q234.7,69.6 234.7,68.8 L234.7,64.2" fill="none" stroke="#151515" stroke-width="1.25" />
<rect x="230.5" y="39.5" width="4.4" height="3.4" rx="0.8" fill="#7fffd4" stroke="#151515" stroke-width="1.3" />
<rect x="230.5" y="53.3" width="4.4" height="3.4" rx="0.8" fill="#7fffd4" stroke="#151515" stroke-width="1.3" />
<rect x="237.85" y="27.2" width="4" height="5.4" rx="0.9" fill="#7fffd4" stroke="#151515" stroke-width="1.25" />
<path d="M237.85,64.2 L237.85,68.8 Q237.85,69.6 238.65,69.6 L241.05,69.6 Q241.85,69.6 241.85,68.8 L241.85,64.2" fill="none" stroke="#151515" stroke-width="1.25" />
<rect x="237.65" y="39.5" width="4.4" height="3.4" rx="0.8" fill="#7fffd4" stroke="#151515" stroke-width="1.3" />
<rect x="237.65" y="53.3" width="4.4" height="3.4" rx="0.8" fill="#7fffd4" stroke="#151515" stroke-width="1.3" />
<rect x="245" y="27.2" width="4" height="5.4" rx="0.9" fill="#7fffd4" stroke="#151515" stroke-width="1.25" />
<path d="M245,64.2 L245,68.8 Q245,69.6 245.8,69.6 L248.2,69.6 Q249,69.6 249,68.8 L249,64.2" fill="none" stroke="#151515" stroke-width="1.25" />
<rect x="244.8" y="39.5" width="4.4" height="3.4" rx="0.8" fill="#7fffd4" stroke="#151515" stroke-width="1.3" />
<rect x="244.8" y="53.3" width="4.4" height="3.4" rx="0.8" fill="#7fffd4" stroke="#151515" stroke-width="1.3" />
<rect x="252.15" y="27.2" width="4" height="5.4" rx="0.9" fill="#7fffd4" stroke="#151515" stroke-width="1.25" />
<path d="M252.15,64.2 L252.15,68.8 Q252.15,69.6 252.95,69.6 L255.35,69.6 Q256.15,69.6 256.15,68.8 L256.15,64.2" fill="none" stroke="#151515" stroke-width="1.25" />
<rect x="251.95" y="39.5" width="4.4" height="3.4" rx="0.8" fill="#7fffd4" stroke="#151515" stroke-width="1.3" />
<rect x="251.95" y="53.3" width="4.4" height="3.4" rx="0.8" fill="#7fffd4" stroke="#151515" stroke-width="1.3" />
<rect x="259.3" y="27.2" width="4" height="5.4" rx="0.9" fill="#7fffd4" stroke="#151515" stroke-width="1.25" />
<path d="M259.3,64.2 L259.3,68.8 Q259.3,69.6 260.1,69.6 L262.5,69.6 Q263.3,69.6 263.3,68.8 L263.3,64.2" fill="none" stroke="#151515" stroke-width="1.25" />
<rect x="259.1" y="39.5" width="4.4" height="3.4" rx="0.8" fill="#7fffd4" stroke="#151515" stroke-width="1.3" />
<rect x="259.1" y="53.3" width="4.4" height="3.4" rx="0.8" fill="#7fffd4" stroke="#151515" stroke-width="1.3" />
<rect x="266.45" y="27.2" width="4" height="5.4" rx="0.9" fill="#7fffd4" stroke="#151515" stroke-width="1.25" />
<path d="M266.45,64.2 L266.45,68.8 Q266.45,69.6 267.25,69.6 L269.65,69.6 Q270.45,69.6 270.45,68.8 L270.45,64.2" fill="none" stroke="#151515" stroke-width="1.25" />
<rect x="266.25" y="39.5" width="4.4" height="3.4" rx="0.8" fill="#7fffd4" stroke="#151515" stroke-width="1.3" />
<rect x="266.25" y="53.3" width="4.4" height="3.4" rx="0.8" fill="#7fffd4" stroke="#151515" stroke-width="1.3" />
<rect x="273.6" y="27.2" width="4" height="5.4" rx="0.9" fill="#7fffd4" stroke="#151515" stroke-width="1.25" />
<path d="M273.6,64.2 L273.6,68.8 Q273.6,69.6 274.4,69.6 L276.8,69.6 Q277.6,69.6 277.6,68.8 L277.6,64.2" fill="none" stroke="#151515" stroke-width="1.25" />
<rect x="273.4" y="39.5" width="4.4" height="3.4" rx="0.8" fill="#7fffd4" stroke="#151515" stroke-width="1.3" />
<rect x="273.4" y="53.3" width="4.4" height="3.4" rx="0.8" fill="#7fffd4" stroke="#151515" stroke-width="1.3" />
<rect x="280.75" y="27.2" width="4" height="5.4" rx="0.9" fill="#7fffd4" stroke="#151515" stroke-width="1.25" />
<path d="M280.75,64.2 L280.75,68.8 Q280.75,69.6 281.55,69.6 L283.95,69.6 Q284.75,69.6 284.75,68.8 L284.75,64.2" fill="none" stroke="#151515" stroke-width="1.25" />
<rect x="280.55" y="39.5" width="4.4" height="3.4" rx="0.8" fill="#7fffd4" stroke="#151515" stroke-width="1.3" />
<rect x="280.55" y="53.3" width="4.4" height="3.4" rx="0.8" fill="#7fffd4" stroke="#151515" stroke-width="1.3" />
<rect x="287.9" y="27.2" width="4" height="5.4" rx="0.9" fill="#7fffd4" stroke="#151515" stroke-width="1.25" />
<path d="M287.9,64.2 L287.9,68.8 Q287.9,69.6 288.7,69.6 L291.1,69.6 Q291.9,69.6 291.9,68.8 L291.9,64.2" fill="none" stroke="#151515" stroke-width="1.25" />
<rect x="287.7" y="39.5" width="4.4" height="3.4" rx="0.8" fill="#7fffd4" stroke="#151515" stroke-width="1.3" />
<rect x="287.7" y="53.3" width="4.4" height="3.4" rx="0.8" fill="#7fffd4" stroke="#151515" stroke-width="1.3" />
<rect x="295.05" y="27.2" width="4" height="5.4" rx="0.9" fill="#7fffd4" stroke="#151515" stroke-width="1.25" />
<path d="M295.05,64.2 L295.05,68.8 Q295.05,69.6 295.85,69.6 L298.25,69.6 Q299.05,69.6 299.05,68.8 L299.05,64.2" fill="none" stroke="#151515" stroke-width="1.25" />
<rect x="294.85" y="39.5" width="4.4" height="3.4" rx="0.8" fill="#7fffd4" stroke="#151515" stroke-width="1.3" />
<rect x="294.85" y="53.3" width="4.4" height="3.4" rx="0.8" fill="#7fffd4" stroke="#151515" stroke-width="1.3" />
<rect x="302.2" y="27.2" width="4" height="5.4" rx="0.9" fill="#7fffd4" stroke="#151515" stroke-width="1.25" />
<path d="M302.2,64.2 L302.2,68.8 Q302.2,69.6 303,69.6 L305.4,69.6 Q306.2,69.6 306.2,68.8 L306.2,64.2" fill="none" stroke="#151515" stroke-width="1.25" />
<rect x="302" y="39.5" width="4.4" height="3.4" rx="0.8" fill="#7fffd4" stroke="#151515" stroke-width="1.3" />
<rect x="302" y="53.3" width="4.4" height="3.4" rx="0.8" fill="#7fffd4" stroke="#151515" stroke-width="1.3" />
<rect x="309.35" y="27.2" width="4" height="5.4" rx="0.9" fill="#7fffd4" stroke="#151515" stroke-width="1.25" />
<path d="M309.35,64.2 L309.35,68.8 Q309.35,69.6 310.15,69.6 L312.55,69.6 Q313.35,69.6 313.35,68.8 L313.35,64.2" fill="none" stroke="#151515" stroke-width="1.25" />
<rect x="309.15" y="39.5" width="4.4" height="3.4" rx="0.8" fill="#7fffd4" stroke="#151515" stroke-width="1.3" />
<rect x="309.15" y="53.3" width="4.4" height="3.4" rx="0.8" fill="#7fffd4" stroke="#151515" stroke-width="1.3" />
<rect x="316.5" y="27.2" width="4" height="5.4" rx="0.9" fill="#7fffd4" stroke="#151515" stroke-width="1.25" />
<path d="M316.5,64.2 L316.5,68.8 Q316.5,69.6 317.3,69.6 L319.7,69.6 Q320.5,69.6 320.5,68.8 L320.5,64.2" fill="none" stroke="#151515" stroke-width="1.25" />
<rect x="316.3" y="39.5" width="4.4" height="3.4" rx="0.8" fill="#7fffd4" stroke="#151515" stroke-width="1.3" />
<rect x="316.3" y="53.3" width="4.4" height="3.4" rx="0.8" fill="#7fffd4" stroke="#151515" stroke-width="1.3" />
<rect x="323.65" y="27.2" width="4" height="5.4" rx="0.9" fill="#7fffd4" stroke="#151515" stroke-width="1.25" />
<path d="M323.65,64.2 L323.65,68.8 Q323.65,69.6 324.45,69.6 L326.85,69.6 Q327.65,69.6 327.65,68.8 L327.65,64.2" fill="none" stroke="#151515" stroke-width="1.25" />
<rect x="323.45" y="39.5" width="4.4" height="3.4" rx="0.8" fill="#7fffd4" stroke="#151515" stroke-width="1.3" />
<rect x="323.45" y="53.3" width="4.4" height="3.4" rx="0.8" fill="#7fffd4" stroke="#151515" stroke-width="1.3" />
<rect x="330.8" y="27.2" width="4" height="5.4" rx="0.9" fill="#7fffd4" stroke="#151515" stroke-width="1.25" />
<path d="M330.8,64.2 L330.8,68.8 Q330.8,69.6 331.6,69.6 L334,69.6 Q334.8,69.6 334.8,68.8 L334.8,64.2" fill="none" stroke="#151515" stroke-width="1.25" />
<rect x="330.6" y="39.5" width="4.4" height="3.4" rx="0.8" fill="#7fffd4" stroke="#151515" stroke-width="1.3" />
<rect x="330.6" y="53.3" width="4.4" height="3.4" rx="0.8" fill="#7fffd4" stroke="#151515" stroke-width="1.3" />
<rect x="337.95" y="27.2" width="4" height="5.4" rx="0.9" fill="#7fffd4" stroke="#151515" stroke-width="1.25" />
<path d="M337.95,64.2 L337.95,68.8 Q337.95,69.6 338.75,69.6 L341.15,69.6 Q341.95,69.6 341.95,68.8 L341.95,64.2" fill="none" stroke="#151515" stroke-width="1.25" />
<rect x="337.75" y="39.5" width="4.4" height="3.4" rx="0.8" fill="#7fffd4" stroke="#151515" stroke-width="1.3" />
<rect x="337.75" y="53.3" width="4.4" height="3.4" rx="0.8" fill="#7fffd4" stroke="#151515" stroke-width="1.3" />
<rect x="345.1" y="27.2" width="4" height="5.4" rx="0.9" fill="#7fffd4" stroke="#151515" stroke-width="1.25" />
<path d="M345.1,64.2 L345.1,68.8 Q345.1,69.6 345.9,69.6 L348.3,69.6 Q349.1,69.6 349.1,68.8 L349.1,64.2" fill="none" stroke="#151515" stroke-width="1.25" />
<rect x="344.9" y="39.5" width="4.4" height="3.4" rx="0.8" fill="#7fffd4" stroke="#151515" stroke-width="1.3" />
<rect x="344.9" y="53.3" width="4.4" height="3.4" rx="0.8" fill="#7fffd4" stroke="#151515" stroke-width="1.3" />
<rect x="352.25" y="27.2" width="4" height="5.4" rx="0.9" fill="#7fffd4" stroke="#151515" stroke-width="1.25" />
<path d="M352.25,64.2 L352.25,68.8 Q352.25,69.6 353.05,69.6 L355.45,69.6 Q356.25,69.6 356.25,68.8 L356.25,64.2" fill="none" stroke="#151515" stroke-width="1.25" />
<rect x="352.05" y="39.5" width="4.4" height="3.4" rx="0.8" fill="#7fffd4" stroke="#151515" stroke-width="1.3" />
<rect x="352.05" y="53.3" width="4.4" height="3.4" rx="0.8" fill="#7fffd4" stroke="#151515" stroke-width="1.3" />
<rect x="359.4" y="27.2" width="4" height="5.4" rx="0.9" fill="#7fffd4" stroke="#151515" stroke-width="1.25" />
<path d="M359.4,64.2 L359.4,68.8 Q359.4,69.6 360.2,69.6 L362.6,69.6 Q363.4,69.6 363.4,68.8 L363.4,64.2" fill="none" stroke="#151515" stroke-width="1.25" />
<rect x="359.2" y="39.5" width="4.4" height="3.4" rx="0.8" fill="#7fffd4" stroke="#151515" stroke-width="1.3" />
<rect x="359.2" y="53.3" width="4.4" height="3.4" rx="0.8" fill="#7fffd4" stroke="#151515" stroke-width="1.3" />
<rect x="366.55" y="27.2" width="4" height="5.4" rx="0.9" fill="#7fffd4" stroke="#151515" stroke-width="1.25" />
<path d="M366.55,64.2 L366.55,68.8 Q366.55,69.6 367.35,69.6 L369.75,69.6 Q370.55,69.6 370.55,68.8 L370.55,64.2" fill="none" stroke="#151515" stroke-width="1.25" />
<rect x="366.35" y="39.5" width="4.4" height="3.4" rx="0.8" fill="#7fffd4" stroke="#151515" stroke-width="1.3" />
<rect x="366.35" y="53.3" width="4.4" height="3.4" rx="0.8" fill="#7fffd4" stroke="#151515" stroke-width="1.3" />
<rect x="373.7" y="27.2" width="4" height="5.4" rx="0.9" fill="#7fffd4" stroke="#151515" stroke-width="1.25" />
<path d="M373.7,64.2 L373.7,68.8 Q373.7,69.6 374.5,69.6 L376.9,69.6 Q377.7,69.6 377.7,68.8 L377.7,64.2" fill="none" stroke="#151515" stroke-width="1.25" />
<rect x="373.5" y="39.5" width="4.4" height="3.4" rx="0.8" fill="#7fffd4" stroke="#151515" stroke-width="1.3" />
<rect x="373.5" y="53.3" width="4.4" height="3.4" rx="0.8" fill="#7fffd4" stroke="#151515" stroke-width="1.3" />
<rect x="380.85" y="27.2" width="4" height="5.4" rx="0.9" fill="#7fffd4" stroke="#151515" stroke-width="1.25" />
<path d="M380.85,64.2 L380.85,68.8 Q380.85,69.6 381.65,69.6 L384.05,69.6 Q384.85,69.6 384.85,68.8 L384.85,64.2" fill="none" stroke="#151515" stroke-width="1.25" />
<rect x="380.65" y="39.5" width="4.4" height="3.4" rx="0.8" fill="#7fffd4" stroke="#151515" stroke-width="1.3" />
<rect x="380.65" y="53.3" width="4.4" height="3.4" rx="0.8" fill="#7fffd4" stroke="#151515" stroke-width="1.3" />
<rect x="388" y="27.2" width="4" height="5.4" rx="0.9" fill="#7fffd4" stroke="#151515" stroke-width="1.25" />
<path d="M388,64.2 L388,68.8 Q388,69.6 388.8,69.6 L391.2,69.6 Q392,69.6 392,68.8 L392,64.2" fill="none" stroke="#151515" stroke-width="1.25" />
<rect x="387.8" y="39.5" width="4.4" height="3.4" rx="0.8" fill="#7fffd4" stroke="#151515" stroke-width="1.3" />
<rect x="387.8" y="53.3" width="4.4" height="3.4" rx="0.8" fill="#7fffd4" stroke="#151515" stroke-width="1.3" />
<rect x="395.15" y="27.2" width="4" height="5.4" rx="0.9" fill="#7fffd4" stroke="#151515" stroke-width="1.25" />
<path d="M395.15,64.2 L395.15,68.8 Q395.15,69.6 395.95,69.6 L398.35,69.6 Q399.15,69.6 399.15,68.8 L399.15,64.2" fill="none" stroke="#151515" stroke-width="1.25" />
<rect x="394.95" y="39.5" width="4.4" height="3.4" rx="0.8" fill="#7fffd4" stroke="#151515" stroke-width="1.3" />
<rect x="394.95" y="53.3" width="4.4" height="3.4" rx="0.8" fill="#7fffd4" stroke="#151515" stroke-width="1.3" />
<path d="M109,39 L109,30.8 L407.8,30.8 L407.8,39" fill="none" stroke="#2f5a50" stroke-width="1.9" />
<path d="M109,56.6 L109,64.8 L407.8,64.8 L407.8,56.6" fill="none" stroke="#2f5a50" stroke-width="1.9" />
<rect x="178.2" y="302.8" width="6.6" height="12.2" rx="2.3" fill="#222" stroke="none" stroke-width="1" />
<rect x="179.4" y="304" width="4.2" height="11" rx="1.4" fill="#fff" stroke="none" stroke-width="1" />
<path d="M180.6,313.6 L180.6,307.5 Q180.6,306.6 181.5,306.6 Q182.4,306.6 182.4,307.5 L182.4,313.6" fill="none" stroke="#555" stroke-width="0.8" />
<rect x="178.2" y="366" width="6.6" height="12.4" rx="2.3" fill="#222" stroke="none" stroke-width="1" />
<rect x="179.4" y="366" width="4.2" height="11.2" rx="1.4" fill="#fff" stroke="none" stroke-width="1" />
<line x1="179.4" y1="373.4" x2="183.6" y2="373.4" stroke="#444" stroke-width="1" />
<rect x="185.38" y="302.8" width="6.6" height="12.2" rx="2.3" fill="#222" stroke="none" stroke-width="1" />
<rect x="186.58" y="304" width="4.2" height="11" rx="1.4" fill="#fff" stroke="none" stroke-width="1" />
<path d="M187.78,313.6 L187.78,307.5 Q187.78,306.6 188.68,306.6 Q189.58,306.6 189.58,307.5 L189.58,313.6" fill="none" stroke="#555" stroke-width="0.8" />
<rect x="185.38" y="366" width="6.6" height="12.4" rx="2.3" fill="#222" stroke="none" stroke-width="1" />
<rect x="186.58" y="366" width="4.2" height="11.2" rx="1.4" fill="#fff" stroke="none" stroke-width="1" />
<line x1="186.58" y1="373.4" x2="190.78" y2="373.4" stroke="#444" stroke-width="1" />
<rect x="192.56" y="302.8" width="6.6" height="12.2" rx="2.3" fill="#222" stroke="none" stroke-width="1" />
<rect x="193.76" y="304" width="4.2" height="11" rx="1.4" fill="#fff" stroke="none" stroke-width="1" />
<path d="M194.96,313.6 L194.96,307.5 Q194.96,306.6 195.86,306.6 Q196.76,306.6 196.76,307.5 L196.76,313.6" fill="none" stroke="#555" stroke-width="0.8" />
<rect x="192.56" y="366" width="6.6" height="12.4" rx="2.3" fill="#222" stroke="none" stroke-width="1" />
<rect x="193.76" y="366" width="4.2" height="11.2" rx="1.4" fill="#fff" stroke="none" stroke-width="1" />
<line x1="193.76" y1="373.4" x2="197.96" y2="373.4" stroke="#444" stroke-width="1" />
<rect x="199.74" y="302.8" width="6.6" height="12.2" rx="2.3" fill="#222" stroke="none" stroke-width="1" />
<rect x="200.94" y="304" width="4.2" height="11" rx="1.4" fill="#fff" stroke="none" stroke-width="1" />
<path d="M202.14,313.6 L202.14,307.5 Q202.14,306.6 203.04,306.6 Q203.94,306.6 203.94,307.5 L203.94,313.6" fill="none" stroke="#555" stroke-width="0.8" />
<rect x="199.74" y="366" width="6.6" height="12.4" rx="2.3" fill="#222" stroke="none" stroke-width="1" />
<rect x="200.94" y="366" width="4.2" height="11.2" rx="1.4" fill="#fff" stroke="none" stroke-width="1" />
<line x1="200.94" y1="373.4" x2="205.14" y2="373.4" stroke="#444" stroke-width="1" />
<rect x="206.92" y="302.8" width="6.6" height="12.2" rx="2.3" fill="#222" stroke="none" stroke-width="1" />
<rect x="208.12" y="304" width="4.2" height="11" rx="1.4" fill="#fff" stroke="none" stroke-width="1" />
<path d="M209.32,313.6 L209.32,307.5 Q209.32,306.6 210.22,306.6 Q211.12,306.6 211.12,307.5 L211.12,313.6" fill="none" stroke="#555" stroke-width="0.8" />
<rect x="206.92" y="366" width="6.6" height="12.4" rx="2.3" fill="#222" stroke="none" stroke-width="1" />
<rect x="208.12" y="366" width="4.2" height="11.2" rx="1.4" fill="#fff" stroke="none" stroke-width="1" />
<line x1="208.12" y1="373.4" x2="212.32" y2="373.4" stroke="#444" stroke-width="1" />
<rect x="214.1" y="302.8" width="6.6" height="12.2" rx="2.3" fill="#222" stroke="none" stroke-width="1" />
<rect x="215.3" y="304" width="4.2" height="11" rx="1.4" fill="#fff" stroke="none" stroke-width="1" />
<path d="M216.5,313.6 L216.5,307.5 Q216.5,306.6 217.4,306.6 Q218.3,306.6 218.3,307.5 L218.3,313.6" fill="none" stroke="#555" stroke-width="0.8" />
<rect x="214.1" y="366" width="6.6" height="12.4" rx="2.3" fill="#222" stroke="none" stroke-width="1" />
<rect x="215.3" y="366" width="4.2" height="11.2" rx="1.4" fill="#fff" stroke="none" stroke-width="1" />
<line x1="215.3" y1="373.4" x2="219.5" y2="373.4" stroke="#444" stroke-width="1" />
<rect x="221.28" y="302.8" width="6.6" height="12.2" rx="2.3" fill="#222" stroke="none" stroke-width="1" />
<rect x="222.48" y="304" width="4.2" height="11" rx="1.4" fill="#fff" stroke="none" stroke-width="1" />
<path d="M223.68,313.6 L223.68,307.5 Q223.68,306.6 224.58,306.6 Q225.48,306.6 225.48,307.5 L225.48,313.6" fill="none" stroke="#555" stroke-width="0.8" />
<rect x="221.28" y="366" width="6.6" height="12.4" rx="2.3" fill="#222" stroke="none" stroke-width="1" />
<rect x="222.48" y="366" width="4.2" height="11.2" rx="1.4" fill="#fff" stroke="none" stroke-width="1" />
<line x1="222.48" y1="373.4" x2="226.68" y2="373.4" stroke="#444" stroke-width="1" />
<rect x="228.46" y="302.8" width="6.6" height="12.2" rx="2.3" fill="#222" stroke="none" stroke-width="1" />
<rect x="229.66" y="304" width="4.2" height="11" rx="1.4" fill="#fff" stroke="none" stroke-width="1" />
<path d="M230.86,313.6 L230.86,307.5 Q230.86,306.6 231.76,306.6 Q232.66,306.6 232.66,307.5 L232.66,313.6" fill="none" stroke="#555" stroke-width="0.8" />
<rect x="228.46" y="366" width="6.6" height="12.4" rx="2.3" fill="#222" stroke="none" stroke-width="1" />
<rect x="229.66" y="366" width="4.2" height="11.2" rx="1.4" fill="#fff" stroke="none" stroke-width="1" />
<line x1="229.66" y1="373.4" x2="233.86" y2="373.4" stroke="#444" stroke-width="1" />
<rect x="235.64" y="302.8" width="6.6" height="12.2" rx="2.3" fill="#222" stroke="none" stroke-width="1" />
<rect x="236.84" y="304" width="4.2" height="11" rx="1.4" fill="#fff" stroke="none" stroke-width="1" />
<path d="M238.04,313.6 L238.04,307.5 Q238.04,306.6 238.94,306.6 Q239.84,306.6 239.84,307.5 L239.84,313.6" fill="none" stroke="#555" stroke-width="0.8" />
<rect x="235.64" y="366" width="6.6" height="12.4" rx="2.3" fill="#222" stroke="none" stroke-width="1" />
<rect x="236.84" y="366" width="4.2" height="11.2" rx="1.4" fill="#fff" stroke="none" stroke-width="1" />
<line x1="236.84" y1="373.4" x2="241.04" y2="373.4" stroke="#444" stroke-width="1" />
<rect x="242.82" y="302.8" width="6.6" height="12.2" rx="2.3" fill="#222" stroke="none" stroke-width="1" />
<rect x="244.02" y="304" width="4.2" height="11" rx="1.4" fill="#fff" stroke="none" stroke-width="1" />
<path d="M245.22,313.6 L245.22,307.5 Q245.22,306.6 246.12,306.6 Q247.02,306.6 247.02,307.5 L247.02,313.6" fill="none" stroke="#555" stroke-width="0.8" />
<rect x="242.82" y="366" width="6.6" height="12.4" rx="2.3" fill="#222" stroke="none" stroke-width="1" />
<rect x="244.02" y="366" width="4.2" height="11.2" rx="1.4" fill="#fff" stroke="none" stroke-width="1" />
<line x1="244.02" y1="373.4" x2="248.22" y2="373.4" stroke="#444" stroke-width="1" />
<rect x="250" y="302.8" width="6.6" height="12.2" rx="2.3" fill="#222" stroke="none" stroke-width="1" />
<rect x="251.2" y="304" width="4.2" height="11" rx="1.4" fill="#fff" stroke="none" stroke-width="1" />
<path d="M252.4,313.6 L252.4,307.5 Q252.4,306.6 253.3,306.6 Q254.2,306.6 254.2,307.5 L254.2,313.6" fill="none" stroke="#555" stroke-width="0.8" />
<rect x="250" y="366" width="6.6" height="12.4" rx="2.3" fill="#222" stroke="none" stroke-width="1" />
<rect x="251.2" y="366" width="4.2" height="11.2" rx="1.4" fill="#fff" stroke="none" stroke-width="1" />
<line x1="251.2" y1="373.4" x2="255.4" y2="373.4" stroke="#444" stroke-width="1" />
<rect x="257.18" y="302.8" width="6.6" height="12.2" rx="2.3" fill="#222" stroke="none" stroke-width="1" />
<rect x="258.38" y="304" width="4.2" height="11" rx="1.4" fill="#fff" stroke="none" stroke-width="1" />
<path d="M259.58,313.6 L259.58,307.5 Q259.58,306.6 260.48,306.6 Q261.38,306.6 261.38,307.5 L261.38,313.6" fill="none" stroke="#555" stroke-width="0.8" />
<rect x="257.18" y="366" width="6.6" height="12.4" rx="2.3" fill="#222" stroke="none" stroke-width="1" />
<rect x="258.38" y="366" width="4.2" height="11.2" rx="1.4" fill="#fff" stroke="none" stroke-width="1" />
<line x1="258.38" y1="373.4" x2="262.58" y2="373.4" stroke="#444" stroke-width="1" />
<rect x="264.36" y="302.8" width="6.6" height="12.2" rx="2.3" fill="#222" stroke="none" stroke-width="1" />
<rect x="265.56" y="304" width="4.2" height="11" rx="1.4" fill="#fff" stroke="none" stroke-width="1" />
<path d="M266.76,313.6 L266.76,307.5 Q266.76,306.6 267.66,306.6 Q268.56,306.6 268.56,307.5 L268.56,313.6" fill="none" stroke="#555" stroke-width="0.8" />
<rect x="264.36" y="366" width="6.6" height="12.4" rx="2.3" fill="#222" stroke="none" stroke-width="1" />
<rect x="265.56" y="366" width="4.2" height="11.2" rx="1.4" fill="#fff" stroke="none" stroke-width="1" />
<line x1="265.56" y1="373.4" x2="269.76" y2="373.4" stroke="#444" stroke-width="1" />
<rect x="271.54" y="302.8" width="6.6" height="12.2" rx="2.3" fill="#222" stroke="none" stroke-width="1" />
<rect x="272.74" y="304" width="4.2" height="11" rx="1.4" fill="#fff" stroke="none" stroke-width="1" />
<path d="M273.94,313.6 L273.94,307.5 Q273.94,306.6 274.84,306.6 Q275.74,306.6 275.74,307.5 L275.74,313.6" fill="none" stroke="#555" stroke-width="0.8" />
<rect x="271.54" y="366" width="6.6" height="12.4" rx="2.3" fill="#222" stroke="none" stroke-width="1" />
<rect x="272.74" y="366" width="4.2" height="11.2" rx="1.4" fill="#fff" stroke="none" stroke-width="1" />
<line x1="272.74" y1="373.4" x2="276.94" y2="373.4" stroke="#444" stroke-width="1" />
<rect x="278.72" y="302.8" width="6.6" height="12.2" rx="2.3" fill="#222" stroke="none" stroke-width="1" />
<rect x="279.92" y="304" width="4.2" height="11" rx="1.4" fill="#fff" stroke="none" stroke-width="1" />
<path d="M281.12,313.6 L281.12,307.5 Q281.12,306.6 282.02,306.6 Q282.92,306.6 282.92,307.5 L282.92,313.6" fill="none" stroke="#555" stroke-width="0.8" />
<rect x="278.72" y="366" width="6.6" height="12.4" rx="2.3" fill="#222" stroke="none" stroke-width="1" />
<rect x="279.92" y="366" width="4.2" height="11.2" rx="1.4" fill="#fff" stroke="none" stroke-width="1" />
<line x1="279.92" y1="373.4" x2="284.12" y2="373.4" stroke="#444" stroke-width="1" />
<rect x="285.9" y="302.8" width="6.6" height="12.2" rx="2.3" fill="#222" stroke="none" stroke-width="1" />
<rect x="287.1" y="304" width="4.2" height="11" rx="1.4" fill="#fff" stroke="none" stroke-width="1" />
<path d="M288.3,313.6 L288.3,307.5 Q288.3,306.6 289.2,306.6 Q290.1,306.6 290.1,307.5 L290.1,313.6" fill="none" stroke="#555" stroke-width="0.8" />
<rect x="285.9" y="366" width="6.6" height="12.4" rx="2.3" fill="#222" stroke="none" stroke-width="1" />
<rect x="287.1" y="366" width="4.2" height="11.2" rx="1.4" fill="#fff" stroke="none" stroke-width="1" />
<line x1="287.1" y1="373.4" x2="291.3" y2="373.4" stroke="#444" stroke-width="1" />
<rect x="293.08" y="302.8" width="6.6" height="12.2" rx="2.3" fill="#222" stroke="none" stroke-width="1" />
<rect x="294.28" y="304" width="4.2" height="11" rx="1.4" fill="#fff" stroke="none" stroke-width="1" />
<path d="M295.48,313.6 L295.48,307.5 Q295.48,306.6 296.38,306.6 Q297.28,306.6 297.28,307.5 L297.28,313.6" fill="none" stroke="#555" stroke-width="0.8" />
<rect x="293.08" y="366" width="6.6" height="12.4" rx="2.3" fill="#222" stroke="none" stroke-width="1" />
<rect x="294.28" y="366" width="4.2" height="11.2" rx="1.4" fill="#fff" stroke="none" stroke-width="1" />
<line x1="294.28" y1="373.4" x2="298.48" y2="373.4" stroke="#444" stroke-width="1" />
<rect x="300.26" y="302.8" width="6.6" height="12.2" rx="2.3" fill="#222" stroke="none" stroke-width="1" />
<rect x="301.46" y="304" width="4.2" height="11" rx="1.4" fill="#fff" stroke="none" stroke-width="1" />
<path d="M302.66,313.6 L302.66,307.5 Q302.66,306.6 303.56,306.6 Q304.46,306.6 304.46,307.5 L304.46,313.6" fill="none" stroke="#555" stroke-width="0.8" />
<rect x="300.26" y="366" width="6.6" height="12.4" rx="2.3" fill="#222" stroke="none" stroke-width="1" />
<rect x="301.46" y="366" width="4.2" height="11.2" rx="1.4" fill="#fff" stroke="none" stroke-width="1" />
<line x1="301.46" y1="373.4" x2="305.66" y2="373.4" stroke="#444" stroke-width="1" />
<rect x="307.44" y="302.8" width="6.6" height="12.2" rx="2.3" fill="#222" stroke="none" stroke-width="1" />
<rect x="308.64" y="304" width="4.2" height="11" rx="1.4" fill="#fff" stroke="none" stroke-width="1" />
<path d="M309.84,313.6 L309.84,307.5 Q309.84,306.6 310.74,306.6 Q311.64,306.6 311.64,307.5 L311.64,313.6" fill="none" stroke="#555" stroke-width="0.8" />
<rect x="307.44" y="366" width="6.6" height="12.4" rx="2.3" fill="#222" stroke="none" stroke-width="1" />
<rect x="308.64" y="366" width="4.2" height="11.2" rx="1.4" fill="#fff" stroke="none" stroke-width="1" />
<line x1="308.64" y1="373.4" x2="312.84" y2="373.4" stroke="#444" stroke-width="1" />
<rect x="314.62" y="302.8" width="6.6" height="12.2" rx="2.3" fill="#222" stroke="none" stroke-width="1" />
<rect x="315.82" y="304" width="4.2" height="11" rx="1.4" fill="#fff" stroke="none" stroke-width="1" />
<path d="M317.02,313.6 L317.02,307.5 Q317.02,306.6 317.92,306.6 Q318.82,306.6 318.82,307.5 L318.82,313.6" fill="none" stroke="#555" stroke-width="0.8" />
<rect x="314.62" y="366" width="6.6" height="12.4" rx="2.3" fill="#222" stroke="none" stroke-width="1" />
<rect x="315.82" y="366" width="4.2" height="11.2" rx="1.4" fill="#fff" stroke="none" stroke-width="1" />
<line x1="315.82" y1="373.4" x2="320.02" y2="373.4" stroke="#444" stroke-width="1" />
<rect x="321.8" y="302.8" width="6.6" height="12.2" rx="2.3" fill="#222" stroke="none" stroke-width="1" />
<rect x="323" y="304" width="4.2" height="11" rx="1.4" fill="#fff" stroke="none" stroke-width="1" />
<path d="M324.2,313.6 L324.2,307.5 Q324.2,306.6 325.1,306.6 Q326,306.6 326,307.5 L326,313.6" fill="none" stroke="#555" stroke-width="0.8" />
<rect x="321.8" y="366" width="6.6" height="12.4" rx="2.3" fill="#222" stroke="none" stroke-width="1" />
<rect x="323" y="366" width="4.2" height="11.2" rx="1.4" fill="#fff" stroke="none" stroke-width="1" />
<line x1="323" y1="373.4" x2="327.2" y2="373.4" stroke="#444" stroke-width="1" />
<rect x="328.98" y="302.8" width="6.6" height="12.2" rx="2.3" fill="#222" stroke="none" stroke-width="1" />
<rect x="330.18" y="304" width="4.2" height="11" rx="1.4" fill="#fff" stroke="none" stroke-width="1" />
<path d="M331.38,313.6 L331.38,307.5 Q331.38,306.6 332.28,306.6 Q333.18,306.6 333.18,307.5 L333.18,313.6" fill="none" stroke="#555" stroke-width="0.8" />
<rect x="328.98" y="366" width="6.6" height="12.4" rx="2.3" fill="#222" stroke="none" stroke-width="1" />
<rect x="330.18" y="366" width="4.2" height="11.2" rx="1.4" fill="#fff" stroke="none" stroke-width="1" />
<line x1="330.18" y1="373.4" x2="334.38" y2="373.4" stroke="#444" stroke-width="1" />
<rect x="336.16" y="302.8" width="6.6" height="12.2" rx="2.3" fill="#222" stroke="none" stroke-width="1" />
<rect x="337.36" y="304" width="4.2" height="11" rx="1.4" fill="#fff" stroke="none" stroke-width="1" />
<path d="M338.56,313.6 L338.56,307.5 Q338.56,306.6 339.46,306.6 Q340.36,306.6 340.36,307.5 L340.36,313.6" fill="none" stroke="#555" stroke-width="0.8" />
<rect x="336.16" y="366" width="6.6" height="12.4" rx="2.3" fill="#222" stroke="none" stroke-width="1" />
<rect x="337.36" y="366" width="4.2" height="11.2" rx="1.4" fill="#fff" stroke="none" stroke-width="1" />
<line x1="337.36" y1="373.4" x2="341.56" y2="373.4" stroke="#444" stroke-width="1" />
<rect x="343.34" y="302.8" width="6.6" height="12.2" rx="2.3" fill="#222" stroke="none" stroke-width="1" />
<rect x="344.54" y="304" width="4.2" height="11" rx="1.4" fill="#fff" stroke="none" stroke-width="1" />
<path d="M345.74,313.6 L345.74,307.5 Q345.74,306.6 346.64,306.6 Q347.54,306.6 347.54,307.5 L347.54,313.6" fill="none" stroke="#555" stroke-width="0.8" />
<rect x="343.34" y="366" width="6.6" height="12.4" rx="2.3" fill="#222" stroke="none" stroke-width="1" />
<rect x="344.54" y="366" width="4.2" height="11.2" rx="1.4" fill="#fff" stroke="none" stroke-width="1" />
<line x1="344.54" y1="373.4" x2="348.74" y2="373.4" stroke="#444" stroke-width="1" />
<rect x="350.52" y="302.8" width="6.6" height="12.2" rx="2.3" fill="#222" stroke="none" stroke-width="1" />
<rect x="351.72" y="304" width="4.2" height="11" rx="1.4" fill="#fff" stroke="none" stroke-width="1" />
<path d="M352.92,313.6 L352.92,307.5 Q352.92,306.6 353.82,306.6 Q354.72,306.6 354.72,307.5 L354.72,313.6" fill="none" stroke="#555" stroke-width="0.8" />
<rect x="350.52" y="366" width="6.6" height="12.4" rx="2.3" fill="#222" stroke="none" stroke-width="1" />
<rect x="351.72" y="366" width="4.2" height="11.2" rx="1.4" fill="#fff" stroke="none" stroke-width="1" />
<line x1="351.72" y1="373.4" x2="355.92" y2="373.4" stroke="#444" stroke-width="1" />
<rect x="357.7" y="302.8" width="6.6" height="12.2" rx="2.3" fill="#222" stroke="none" stroke-width="1" />
<rect x="358.9" y="304" width="4.2" height="11" rx="1.4" fill="#fff" stroke="none" stroke-width="1" />
<path d="M360.1,313.6 L360.1,307.5 Q360.1,306.6 361,306.6 Q361.9,306.6 361.9,307.5 L361.9,313.6" fill="none" stroke="#555" stroke-width="0.8" />
<rect x="357.7" y="366" width="6.6" height="12.4" rx="2.3" fill="#222" stroke="none" stroke-width="1" />
<rect x="358.9" y="366" width="4.2" height="11.2" rx="1.4" fill="#fff" stroke="none" stroke-width="1" />
<line x1="358.9" y1="373.4" x2="363.1" y2="373.4" stroke="#444" stroke-width="1" />
<rect x="364.88" y="302.8" width="6.6" height="12.2" rx="2.3" fill="#222" stroke="none" stroke-width="1" />
<rect x="366.08" y="304" width="4.2" height="11" rx="1.4" fill="#fff" stroke="none" stroke-width="1" />
<path d="M367.28,313.6 L367.28,307.5 Q367.28,306.6 368.18,306.6 Q369.08,306.6 369.08,307.5 L369.08,313.6" fill="none" stroke="#555" stroke-width="0.8" />
<rect x="364.88" y="366" width="6.6" height="12.4" rx="2.3" fill="#222" stroke="none" stroke-width="1" />
<rect x="366.08" y="366" width="4.2" height="11.2" rx="1.4" fill="#fff" stroke="none" stroke-width="1" />
<line x1="366.08" y1="373.4" x2="370.28" y2="373.4" stroke="#444" stroke-width="1" />
<rect x="372.06" y="302.8" width="6.6" height="12.2" rx="2.3" fill="#222" stroke="none" stroke-width="1" />
<rect x="373.26" y="304" width="4.2" height="11" rx="1.4" fill="#fff" stroke="none" stroke-width="1" />
<path d="M374.46,313.6 L374.46,307.5 Q374.46,306.6 375.36,306.6 Q376.26,306.6 376.26,307.5 L376.26,313.6" fill="none" stroke="#555" stroke-width="0.8" />
<rect x="372.06" y="366" width="6.6" height="12.4" rx="2.3" fill="#222" stroke="none" stroke-width="1" />
<rect x="373.26" y="366" width="4.2" height="11.2" rx="1.4" fill="#fff" stroke="none" stroke-width="1" />
<line x1="373.26" y1="373.4" x2="377.46" y2="373.4" stroke="#444" stroke-width="1" />
<rect x="379.24" y="302.8" width="6.6" height="12.2" rx="2.3" fill="#222" stroke="none" stroke-width="1" />
<rect x="380.44" y="304" width="4.2" height="11" rx="1.4" fill="#fff" stroke="none" stroke-width="1" />
<path d="M381.64,313.6 L381.64,307.5 Q381.64,306.6 382.54,306.6 Q383.44,306.6 383.44,307.5 L383.44,313.6" fill="none" stroke="#555" stroke-width="0.8" />
<rect x="379.24" y="366" width="6.6" height="12.4" rx="2.3" fill="#222" stroke="none" stroke-width="1" />
<rect x="380.44" y="366" width="4.2" height="11.2" rx="1.4" fill="#fff" stroke="none" stroke-width="1" />
<line x1="380.44" y1="373.4" x2="384.64" y2="373.4" stroke="#444" stroke-width="1" />
<rect x="386.42" y="302.8" width="6.6" height="12.2" rx="2.3" fill="#222" stroke="none" stroke-width="1" />
<rect x="387.62" y="304" width="4.2" height="11" rx="1.4" fill="#fff" stroke="none" stroke-width="1" />
<path d="M388.82,313.6 L388.82,307.5 Q388.82,306.6 389.72,306.6 Q390.62,306.6 390.62,307.5 L390.62,313.6" fill="none" stroke="#555" stroke-width="0.8" />
<rect x="386.42" y="366" width="6.6" height="12.4" rx="2.3" fill="#222" stroke="none" stroke-width="1" />
<rect x="387.62" y="366" width="4.2" height="11.2" rx="1.4" fill="#fff" stroke="none" stroke-width="1" />
<line x1="387.62" y1="373.4" x2="391.82" y2="373.4" stroke="#444" stroke-width="1" />
<rect x="162.4" y="313.6" width="246" height="54" rx="0" fill="#fff" stroke="#1a1a1a" stroke-width="1.2" />
<path d="M162.4,325.6 L154,325.6 Q152,325.6 152,327.6 L152,353 Q152,355 154,355 L162.4,355" fill="none" stroke="#222" stroke-width="1.1" />
<rect x="155" y="328.5" width="5" height="11.5" rx="0" fill="none" stroke="#777" stroke-width="0.8" />
<path d="M155,343 L158,343 L158,346 L155,346 L155,352 L160,352" fill="none" stroke="#777" stroke-width="0.8" />
<path d="M408.4,325.6 L417,325.6 Q419,325.6 419,327.6 L419,353 Q419,355 417,355 L408.4,355" fill="none" stroke="#222" stroke-width="1.1" />
<rect x="411" y="328.5" width="5" height="11.5" rx="0" fill="none" stroke="#777" stroke-width="0.8" />
<path d="M416,343 L413,343 L413,346 L416,346 L416,352 L411,352" fill="none" stroke="#777" stroke-width="0.8" />
<path d="M173,332 L173,324.4 L399,324.4 L399,331" fill="none" stroke="#888" stroke-width="1.7" />
<path d="M173,349 L173,357.0 L399,357.0 L399,349" fill="none" stroke="#888" stroke-width="1.7" />
<rect x="162.4" y="332" width="13.6" height="17" rx="0" fill="#fff" stroke="#333" stroke-width="1" />
<rect x="395.6" y="331" width="12.8" height="18" rx="0" fill="#fff" stroke="#333" stroke-width="1" />
<path d="M179.5,324.6 L179.5,320.2 Q179.5,319.4 180.3,319.4 L182.7,319.4 Q183.5,319.4 183.5,320.2 L183.5,324.6" fill="none" stroke="#151515" stroke-width="1.3" />
<path d="M179.5,356.8 L179.5,360.9 Q179.5,361.7 180.3,361.7 L182.7,361.7 Q183.5,361.7 183.5,360.9 L183.5,356.8" fill="none" stroke="#151515" stroke-width="1.3" />
<rect x="179.6" y="331.6" width="3.8" height="3.4" rx="0.8" fill="none" stroke="#151515" stroke-width="1.3" />
<rect x="179.6" y="346.3" width="3.8" height="3.4" rx="0.8" fill="none" stroke="#151515" stroke-width="1.3" />
<path d="M186.68,324.6 L186.68,320.2 Q186.68,319.4 187.48,319.4 L189.88,319.4 Q190.68,319.4 190.68,320.2 L190.68,324.6" fill="none" stroke="#151515" stroke-width="1.3" />
<path d="M186.68,356.8 L186.68,360.9 Q186.68,361.7 187.48,361.7 L189.88,361.7 Q190.68,361.7 190.68,360.9 L190.68,356.8" fill="none" stroke="#151515" stroke-width="1.3" />
<rect x="186.78" y="331.6" width="3.8" height="3.4" rx="0.8" fill="none" stroke="#151515" stroke-width="1.3" />
<rect x="186.78" y="346.3" width="3.8" height="3.4" rx="0.8" fill="none" stroke="#151515" stroke-width="1.3" />
<path d="M193.86,324.6 L193.86,320.2 Q193.86,319.4 194.66,319.4 L197.06,319.4 Q197.86,319.4 197.86,320.2 L197.86,324.6" fill="none" stroke="#151515" stroke-width="1.3" />
<path d="M193.86,356.8 L193.86,360.9 Q193.86,361.7 194.66,361.7 L197.06,361.7 Q197.86,361.7 197.86,360.9 L197.86,356.8" fill="none" stroke="#151515" stroke-width="1.3" />
<rect x="193.96" y="331.6" width="3.8" height="3.4" rx="0.8" fill="none" stroke="#151515" stroke-width="1.3" />
<rect x="193.96" y="346.3" width="3.8" height="3.4" rx="0.8" fill="none" stroke="#151515" stroke-width="1.3" />
<path d="M201.04,324.6 L201.04,320.2 Q201.04,319.4 201.84,319.4 L204.24,319.4 Q205.04,319.4 205.04,320.2 L205.04,324.6" fill="none" stroke="#151515" stroke-width="1.3" />
<path d="M201.04,356.8 L201.04,360.9 Q201.04,361.7 201.84,361.7 L204.24,361.7 Q205.04,361.7 205.04,360.9 L205.04,356.8" fill="none" stroke="#151515" stroke-width="1.3" />
<rect x="201.14" y="331.6" width="3.8" height="3.4" rx="0.8" fill="none" stroke="#151515" stroke-width="1.3" />
<rect x="201.14" y="346.3" width="3.8" height="3.4" rx="0.8" fill="none" stroke="#151515" stroke-width="1.3" />
<path d="M208.22,324.6 L208.22,320.2 Q208.22,319.4 209.02,319.4 L211.42,319.4 Q212.22,319.4 212.22,320.2 L212.22,324.6" fill="none" stroke="#151515" stroke-width="1.3" />
<path d="M208.22,356.8 L208.22,360.9 Q208.22,361.7 209.02,361.7 L211.42,361.7 Q212.22,361.7 212.22,360.9 L212.22,356.8" fill="none" stroke="#151515" stroke-width="1.3" />
<rect x="208.32" y="331.6" width="3.8" height="3.4" rx="0.8" fill="none" stroke="#151515" stroke-width="1.3" />
<rect x="208.32" y="346.3" width="3.8" height="3.4" rx="0.8" fill="none" stroke="#151515" stroke-width="1.3" />
<path d="M215.4,324.6 L215.4,320.2 Q215.4,319.4 216.2,319.4 L218.6,319.4 Q219.4,319.4 219.4,320.2 L219.4,324.6" fill="none" stroke="#151515" stroke-width="1.3" />
<path d="M215.4,356.8 L215.4,360.9 Q215.4,361.7 216.2,361.7 L218.6,361.7 Q219.4,361.7 219.4,360.9 L219.4,356.8" fill="none" stroke="#151515" stroke-width="1.3" />
<rect x="215.5" y="331.6" width="3.8" height="3.4" rx="0.8" fill="none" stroke="#151515" stroke-width="1.3" />
<rect x="215.5" y="346.3" width="3.8" height="3.4" rx="0.8" fill="none" stroke="#151515" stroke-width="1.3" />
<path d="M222.58,324.6 L222.58,320.2 Q222.58,319.4 223.38,319.4 L225.78,319.4 Q226.58,319.4 226.58,320.2 L226.58,324.6" fill="none" stroke="#151515" stroke-width="1.3" />
<path d="M222.58,356.8 L222.58,360.9 Q222.58,361.7 223.38,361.7 L225.78,361.7 Q226.58,361.7 226.58,360.9 L226.58,356.8" fill="none" stroke="#151515" stroke-width="1.3" />
<rect x="222.68" y="331.6" width="3.8" height="3.4" rx="0.8" fill="none" stroke="#151515" stroke-width="1.3" />
<rect x="222.68" y="346.3" width="3.8" height="3.4" rx="0.8" fill="none" stroke="#151515" stroke-width="1.3" />
<path d="M229.76,324.6 L229.76,320.2 Q229.76,319.4 230.56,319.4 L232.96,319.4 Q233.76,319.4 233.76,320.2 L233.76,324.6" fill="none" stroke="#151515" stroke-width="1.3" />
<path d="M229.76,356.8 L229.76,360.9 Q229.76,361.7 230.56,361.7 L232.96,361.7 Q233.76,361.7 233.76,360.9 L233.76,356.8" fill="none" stroke="#151515" stroke-width="1.3" />
<rect x="229.86" y="331.6" width="3.8" height="3.4" rx="0.8" fill="none" stroke="#151515" stroke-width="1.3" />
<rect x="229.86" y="346.3" width="3.8" height="3.4" rx="0.8" fill="none" stroke="#151515" stroke-width="1.3" />
<path d="M236.94,324.6 L236.94,320.2 Q236.94,319.4 237.74,319.4 L240.14,319.4 Q240.94,319.4 240.94,320.2 L240.94,324.6" fill="none" stroke="#151515" stroke-width="1.3" />
<path d="M236.94,356.8 L236.94,360.9 Q236.94,361.7 237.74,361.7 L240.14,361.7 Q240.94,361.7 240.94,360.9 L240.94,356.8" fill="none" stroke="#151515" stroke-width="1.3" />
<rect x="237.04" y="331.6" width="3.8" height="3.4" rx="0.8" fill="none" stroke="#151515" stroke-width="1.3" />
<rect x="237.04" y="346.3" width="3.8" height="3.4" rx="0.8" fill="none" stroke="#151515" stroke-width="1.3" />
<path d="M244.12,324.6 L244.12,320.2 Q244.12,319.4 244.92,319.4 L247.32,319.4 Q248.12,319.4 248.12,320.2 L248.12,324.6" fill="none" stroke="#151515" stroke-width="1.3" />
<path d="M244.12,356.8 L244.12,360.9 Q244.12,361.7 244.92,361.7 L247.32,361.7 Q248.12,361.7 248.12,360.9 L248.12,356.8" fill="none" stroke="#151515" stroke-width="1.3" />
<rect x="244.22" y="331.6" width="3.8" height="3.4" rx="0.8" fill="none" stroke="#151515" stroke-width="1.3" />
<rect x="244.22" y="346.3" width="3.8" height="3.4" rx="0.8" fill="none" stroke="#151515" stroke-width="1.3" />
<path d="M251.3,324.6 L251.3,320.2 Q251.3,319.4 252.1,319.4 L254.5,319.4 Q255.3,319.4 255.3,320.2 L255.3,324.6" fill="none" stroke="#151515" stroke-width="1.3" />
<path d="M251.3,356.8 L251.3,360.9 Q251.3,361.7 252.1,361.7 L254.5,361.7 Q255.3,361.7 255.3,360.9 L255.3,356.8" fill="none" stroke="#151515" stroke-width="1.3" />
<rect x="251.4" y="331.6" width="3.8" height="3.4" rx="0.8" fill="none" stroke="#151515" stroke-width="1.3" />
<rect x="251.4" y="346.3" width="3.8" height="3.4" rx="0.8" fill="none" stroke="#151515" stroke-width="1.3" />
<path d="M258.48,324.6 L258.48,320.2 Q258.48,319.4 259.28,319.4 L261.68,319.4 Q262.48,319.4 262.48,320.2 L262.48,324.6" fill="none" stroke="#151515" stroke-width="1.3" />
<path d="M258.48,356.8 L258.48,360.9 Q258.48,361.7 259.28,361.7 L261.68,361.7 Q262.48,361.7 262.48,360.9 L262.48,356.8" fill="none" stroke="#151515" stroke-width="1.3" />
<rect x="258.58" y="331.6" width="3.8" height="3.4" rx="0.8" fill="none" stroke="#151515" stroke-width="1.3" />
<rect x="258.58" y="346.3" width="3.8" height="3.4" rx="0.8" fill="none" stroke="#151515" stroke-width="1.3" />
<path d="M265.66,324.6 L265.66,320.2 Q265.66,319.4 266.46,319.4 L268.86,319.4 Q269.66,319.4 269.66,320.2 L269.66,324.6" fill="none" stroke="#151515" stroke-width="1.3" />
<path d="M265.66,356.8 L265.66,360.9 Q265.66,361.7 266.46,361.7 L268.86,361.7 Q269.66,361.7 269.66,360.9 L269.66,356.8" fill="none" stroke="#151515" stroke-width="1.3" />
<rect x="265.76" y="331.6" width="3.8" height="3.4" rx="0.8" fill="none" stroke="#151515" stroke-width="1.3" />
<rect x="265.76" y="346.3" width="3.8" height="3.4" rx="0.8" fill="none" stroke="#151515" stroke-width="1.3" />
<path d="M272.84,324.6 L272.84,320.2 Q272.84,319.4 273.64,319.4 L276.04,319.4 Q276.84,319.4 276.84,320.2 L276.84,324.6" fill="none" stroke="#151515" stroke-width="1.3" />
<path d="M272.84,356.8 L272.84,360.9 Q272.84,361.7 273.64,361.7 L276.04,361.7 Q276.84,361.7 276.84,360.9 L276.84,356.8" fill="none" stroke="#151515" stroke-width="1.3" />
<rect x="272.94" y="331.6" width="3.8" height="3.4" rx="0.8" fill="none" stroke="#151515" stroke-width="1.3" />
<rect x="272.94" y="346.3" width="3.8" height="3.4" rx="0.8" fill="none" stroke="#151515" stroke-width="1.3" />
<path d="M280.02,324.6 L280.02,320.2 Q280.02,319.4 280.82,319.4 L283.22,319.4 Q284.02,319.4 284.02,320.2 L284.02,324.6" fill="none" stroke="#151515" stroke-width="1.3" />
<path d="M280.02,356.8 L280.02,360.9 Q280.02,361.7 280.82,361.7 L283.22,361.7 Q284.02,361.7 284.02,360.9 L284.02,356.8" fill="none" stroke="#151515" stroke-width="1.3" />
<rect x="280.12" y="331.6" width="3.8" height="3.4" rx="0.8" fill="none" stroke="#151515" stroke-width="1.3" />
<rect x="280.12" y="346.3" width="3.8" height="3.4" rx="0.8" fill="none" stroke="#151515" stroke-width="1.3" />
<path d="M287.2,324.6 L287.2,320.2 Q287.2,319.4 288,319.4 L290.4,319.4 Q291.2,319.4 291.2,320.2 L291.2,324.6" fill="none" stroke="#151515" stroke-width="1.3" />
<path d="M287.2,356.8 L287.2,360.9 Q287.2,361.7 288,361.7 L290.4,361.7 Q291.2,361.7 291.2,360.9 L291.2,356.8" fill="none" stroke="#151515" stroke-width="1.3" />
<rect x="287.3" y="331.6" width="3.8" height="3.4" rx="0.8" fill="none" stroke="#151515" stroke-width="1.3" />
<rect x="287.3" y="346.3" width="3.8" height="3.4" rx="0.8" fill="none" stroke="#151515" stroke-width="1.3" />
<path d="M294.38,324.6 L294.38,320.2 Q294.38,319.4 295.18,319.4 L297.58,319.4 Q298.38,319.4 298.38,320.2 L298.38,324.6" fill="none" stroke="#151515" stroke-width="1.3" />
<path d="M294.38,356.8 L294.38,360.9 Q294.38,361.7 295.18,361.7 L297.58,361.7 Q298.38,361.7 298.38,360.9 L298.38,356.8" fill="none" stroke="#151515" stroke-width="1.3" />
<rect x="294.48" y="331.6" width="3.8" height="3.4" rx="0.8" fill="none" stroke="#151515" stroke-width="1.3" />
<rect x="294.48" y="346.3" width="3.8" height="3.4" rx="0.8" fill="none" stroke="#151515" stroke-width="1.3" />
<path d="M301.56,324.6 L301.56,320.2 Q301.56,319.4 302.36,319.4 L304.76,319.4 Q305.56,319.4 305.56,320.2 L305.56,324.6" fill="none" stroke="#151515" stroke-width="1.3" />
<path d="M301.56,356.8 L301.56,360.9 Q301.56,361.7 302.36,361.7 L304.76,361.7 Q305.56,361.7 305.56,360.9 L305.56,356.8" fill="none" stroke="#151515" stroke-width="1.3" />
<rect x="301.66" y="331.6" width="3.8" height="3.4" rx="0.8" fill="none" stroke="#151515" stroke-width="1.3" />
<rect x="301.66" y="346.3" width="3.8" height="3.4" rx="0.8" fill="none" stroke="#151515" stroke-width="1.3" />
<path d="M308.74,324.6 L308.74,320.2 Q308.74,319.4 309.54,319.4 L311.94,319.4 Q312.74,319.4 312.74,320.2 L312.74,324.6" fill="none" stroke="#151515" stroke-width="1.3" />
<path d="M308.74,356.8 L308.74,360.9 Q308.74,361.7 309.54,361.7 L311.94,361.7 Q312.74,361.7 312.74,360.9 L312.74,356.8" fill="none" stroke="#151515" stroke-width="1.3" />
<rect x="308.84" y="331.6" width="3.8" height="3.4" rx="0.8" fill="none" stroke="#151515" stroke-width="1.3" />
<rect x="308.84" y="346.3" width="3.8" height="3.4" rx="0.8" fill="none" stroke="#151515" stroke-width="1.3" />
<path d="M315.92,324.6 L315.92,320.2 Q315.92,319.4 316.72,319.4 L319.12,319.4 Q319.92,319.4 319.92,320.2 L319.92,324.6" fill="none" stroke="#151515" stroke-width="1.3" />
<path d="M315.92,356.8 L315.92,360.9 Q315.92,361.7 316.72,361.7 L319.12,361.7 Q319.92,361.7 319.92,360.9 L319.92,356.8" fill="none" stroke="#151515" stroke-width="1.3" />
<rect x="316.02" y="331.6" width="3.8" height="3.4" rx="0.8" fill="none" stroke="#151515" stroke-width="1.3" />
<rect x="316.02" y="346.3" width="3.8" height="3.4" rx="0.8" fill="none" stroke="#151515" stroke-width="1.3" />
<path d="M323.1,324.6 L323.1,320.2 Q323.1,319.4 323.9,319.4 L326.3,319.4 Q327.1,319.4 327.1,320.2 L327.1,324.6" fill="none" stroke="#151515" stroke-width="1.3" />
<path d="M323.1,356.8 L323.1,360.9 Q323.1,361.7 323.9,361.7 L326.3,361.7 Q327.1,361.7 327.1,360.9 L327.1,356.8" fill="none" stroke="#151515" stroke-width="1.3" />
<rect x="323.2" y="331.6" width="3.8" height="3.4" rx="0.8" fill="none" stroke="#151515" stroke-width="1.3" />
<rect x="323.2" y="346.3" width="3.8" height="3.4" rx="0.8" fill="none" stroke="#151515" stroke-width="1.3" />
<path d="M330.28,324.6 L330.28,320.2 Q330.28,319.4 331.08,319.4 L333.48,319.4 Q334.28,319.4 334.28,320.2 L334.28,324.6" fill="none" stroke="#151515" stroke-width="1.3" />
<path d="M330.28,356.8 L330.28,360.9 Q330.28,361.7 331.08,361.7 L333.48,361.7 Q334.28,361.7 334.28,360.9 L334.28,356.8" fill="none" stroke="#151515" stroke-width="1.3" />
<rect x="330.38" y="331.6" width="3.8" height="3.4" rx="0.8" fill="none" stroke="#151515" stroke-width="1.3" />
<rect x="330.38" y="346.3" width="3.8" height="3.4" rx="0.8" fill="none" stroke="#151515" stroke-width="1.3" />
<path d="M337.46,324.6 L337.46,320.2 Q337.46,319.4 338.26,319.4 L340.66,319.4 Q341.46,319.4 341.46,320.2 L341.46,324.6" fill="none" stroke="#151515" stroke-width="1.3" />
<path d="M337.46,356.8 L337.46,360.9 Q337.46,361.7 338.26,361.7 L340.66,361.7 Q341.46,361.7 341.46,360.9 L341.46,356.8" fill="none" stroke="#151515" stroke-width="1.3" />
<rect x="337.56" y="331.6" width="3.8" height="3.4" rx="0.8" fill="none" stroke="#151515" stroke-width="1.3" />
<rect x="337.56" y="346.3" width="3.8" height="3.4" rx="0.8" fill="none" stroke="#151515" stroke-width="1.3" />
<path d="M344.64,324.6 L344.64,320.2 Q344.64,319.4 345.44,319.4 L347.84,319.4 Q348.64,319.4 348.64,320.2 L348.64,324.6" fill="none" stroke="#151515" stroke-width="1.3" />
<path d="M344.64,356.8 L344.64,360.9 Q344.64,361.7 345.44,361.7 L347.84,361.7 Q348.64,361.7 348.64,360.9 L348.64,356.8" fill="none" stroke="#151515" stroke-width="1.3" />
<rect x="344.74" y="331.6" width="3.8" height="3.4" rx="0.8" fill="none" stroke="#151515" stroke-width="1.3" />
<rect x="344.74" y="346.3" width="3.8" height="3.4" rx="0.8" fill="none" stroke="#151515" stroke-width="1.3" />
<path d="M351.82,324.6 L351.82,320.2 Q351.82,319.4 352.62,319.4 L355.02,319.4 Q355.82,319.4 355.82,320.2 L355.82,324.6" fill="none" stroke="#151515" stroke-width="1.3" />
<path d="M351.82,356.8 L351.82,360.9 Q351.82,361.7 352.62,361.7 L355.02,361.7 Q355.82,361.7 355.82,360.9 L355.82,356.8" fill="none" stroke="#151515" stroke-width="1.3" />
<rect x="351.92" y="331.6" width="3.8" height="3.4" rx="0.8" fill="none" stroke="#151515" stroke-width="1.3" />
<rect x="351.92" y="346.3" width="3.8" height="3.4" rx="0.8" fill="none" stroke="#151515" stroke-width="1.3" />
<path d="M359,324.6 L359,320.2 Q359,319.4 359.8,319.4 L362.2,319.4 Q363,319.4 363,320.2 L363,324.6" fill="none" stroke="#151515" stroke-width="1.3" />
<path d="M359,356.8 L359,360.9 Q359,361.7 359.8,361.7 L362.2,361.7 Q363,361.7 363,360.9 L363,356.8" fill="none" stroke="#151515" stroke-width="1.3" />
<rect x="359.1" y="331.6" width="3.8" height="3.4" rx="0.8" fill="none" stroke="#151515" stroke-width="1.3" />
<rect x="359.1" y="346.3" width="3.8" height="3.4" rx="0.8" fill="none" stroke="#151515" stroke-width="1.3" />
<path d="M366.18,324.6 L366.18,320.2 Q366.18,319.4 366.98,319.4 L369.38,319.4 Q370.18,319.4 370.18,320.2 L370.18,324.6" fill="none" stroke="#151515" stroke-width="1.3" />
<path d="M366.18,356.8 L366.18,360.9 Q366.18,361.7 366.98,361.7 L369.38,361.7 Q370.18,361.7 370.18,360.9 L370.18,356.8" fill="none" stroke="#151515" stroke-width="1.3" />
<rect x="366.28" y="331.6" width="3.8" height="3.4" rx="0.8" fill="none" stroke="#151515" stroke-width="1.3" />
<rect x="366.28" y="346.3" width="3.8" height="3.4" rx="0.8" fill="none" stroke="#151515" stroke-width="1.3" />
<path d="M373.36,324.6 L373.36,320.2 Q373.36,319.4 374.16,319.4 L376.56,319.4 Q377.36,319.4 377.36,320.2 L377.36,324.6" fill="none" stroke="#151515" stroke-width="1.3" />
<path d="M373.36,356.8 L373.36,360.9 Q373.36,361.7 374.16,361.7 L376.56,361.7 Q377.36,361.7 377.36,360.9 L377.36,356.8" fill="none" stroke="#151515" stroke-width="1.3" />
<rect x="373.46" y="331.6" width="3.8" height="3.4" rx="0.8" fill="none" stroke="#151515" stroke-width="1.3" />
<rect x="373.46" y="346.3" width="3.8" height="3.4" rx="0.8" fill="none" stroke="#151515" stroke-width="1.3" />
<path d="M380.54,324.6 L380.54,320.2 Q380.54,319.4 381.34,319.4 L383.74,319.4 Q384.54,319.4 384.54,320.2 L384.54,324.6" fill="none" stroke="#151515" stroke-width="1.3" />
<path d="M380.54,356.8 L380.54,360.9 Q380.54,361.7 381.34,361.7 L383.74,361.7 Q384.54,361.7 384.54,360.9 L384.54,356.8" fill="none" stroke="#151515" stroke-width="1.3" />
<rect x="380.64" y="331.6" width="3.8" height="3.4" rx="0.8" fill="none" stroke="#151515" stroke-width="1.3" />
<rect x="380.64" y="346.3" width="3.8" height="3.4" rx="0.8" fill="none" stroke="#151515" stroke-width="1.3" />
<path d="M387.72,324.6 L387.72,320.2 Q387.72,319.4 388.52,319.4 L390.92,319.4 Q391.72,319.4 391.72,320.2 L391.72,324.6" fill="none" stroke="#151515" stroke-width="1.3" />
<path d="M387.72,356.8 L387.72,360.9 Q387.72,361.7 388.52,361.7 L390.92,361.7 Q391.72,361.7 391.72,360.9 L391.72,356.8" fill="none" stroke="#151515" stroke-width="1.3" />
<rect x="387.82" y="331.6" width="3.8" height="3.4" rx="0.8" fill="none" stroke="#151515" stroke-width="1.3" />
<rect x="387.82" y="346.3" width="3.8" height="3.4" rx="0.8" fill="none" stroke="#151515" stroke-width="1.3" />
<path d="M119.62,94.8 L119.62,93.58 Q119.62,92.2 121.92,92.2 Q124.22,92.2 124.22,93.58 L124.22,94.8" fill="none" stroke="#222" stroke-width="1.5" />
<path d="M119.62,166 L119.62,167.22 Q119.62,168.6 121.92,168.6 Q124.22,168.6 124.22,167.22 L124.22,166" fill="none" stroke="#222" stroke-width="1.5" />
<path d="M111.5,103.08 L110.28,103.08 Q108.9,103.08 108.9,105.38 Q108.9,107.67 110.28,107.67 L111.5,107.67" fill="none" stroke="#222" stroke-width="1.5" />
<path d="M182.4,103.08 L183.62,103.08 Q185,103.08 185,105.38 Q185,107.67 183.62,107.67 L182.4,107.67" fill="none" stroke="#222" stroke-width="1.5" />
<path d="M126.77,94.8 L126.77,93.58 Q126.77,92.2 129.07,92.2 Q131.38,92.2 131.38,93.58 L131.38,94.8" fill="none" stroke="#222" stroke-width="1.5" />
<path d="M126.77,166 L126.77,167.22 Q126.77,168.6 129.07,168.6 Q131.38,168.6 131.38,167.22 L131.38,166" fill="none" stroke="#222" stroke-width="1.5" />
<path d="M111.5,110.23 L110.28,110.23 Q108.9,110.23 108.9,112.53 Q108.9,114.83 110.28,114.83 L111.5,114.83" fill="none" stroke="#222" stroke-width="1.5" />
<path d="M182.4,110.23 L183.62,110.23 Q185,110.23 185,112.53 Q185,114.83 183.62,114.83 L182.4,114.83" fill="none" stroke="#222" stroke-width="1.5" />
<path d="M133.92,94.8 L133.92,93.58 Q133.92,92.2 136.22,92.2 Q138.53,92.2 138.53,93.58 L138.53,94.8" fill="none" stroke="#222" stroke-width="1.5" />
<path d="M133.92,166 L133.92,167.22 Q133.92,168.6 136.22,168.6 Q138.53,168.6 138.53,167.22 L138.53,166" fill="none" stroke="#222" stroke-width="1.5" />
<path d="M111.5,117.38 L110.28,117.38 Q108.9,117.38 108.9,119.68 Q108.9,121.98 110.28,121.98 L111.5,121.98" fill="none" stroke="#222" stroke-width="1.5" />
<path d="M182.4,117.38 L183.62,117.38 Q185,117.38 185,119.68 Q185,121.98 183.62,121.98 L182.4,121.98" fill="none" stroke="#222" stroke-width="1.5" />
<path d="M141.07,94.8 L141.07,93.58 Q141.07,92.2 143.38,92.2 Q145.68,92.2 145.68,93.58 L145.68,94.8" fill="none" stroke="#222" stroke-width="1.5" />
<path d="M141.07,166 L141.07,167.22 Q141.07,168.6 143.38,168.6 Q145.68,168.6 145.68,167.22 L145.68,166" fill="none" stroke="#222" stroke-width="1.5" />
<path d="M111.5,124.53 L110.28,124.53 Q108.9,124.53 108.9,126.83 Q108.9,129.12 110.28,129.12 L111.5,129.12" fill="none" stroke="#222" stroke-width="1.5" />
<path d="M182.4,124.53 L183.62,124.53 Q185,124.53 185,126.83 Q185,129.12 183.62,129.12 L182.4,129.12" fill="none" stroke="#222" stroke-width="1.5" />
<path d="M148.22,94.8 L148.22,93.58 Q148.22,92.2 150.52,92.2 Q152.82,92.2 152.82,93.58 L152.82,94.8" fill="none" stroke="#222" stroke-width="1.5" />
<path d="M148.22,166 L148.22,167.22 Q148.22,168.6 150.52,168.6 Q152.82,168.6 152.82,167.22 L152.82,166" fill="none" stroke="#222" stroke-width="1.5" />
<path d="M111.5,131.67 L110.28,131.67 Q108.9,131.67 108.9,133.97 Q108.9,136.28 110.28,136.28 L111.5,136.28" fill="none" stroke="#222" stroke-width="1.5" />
<path d="M182.4,131.67 L183.62,131.67 Q185,131.67 185,133.97 Q185,136.28 183.62,136.28 L182.4,136.28" fill="none" stroke="#222" stroke-width="1.5" />
<path d="M155.37,94.8 L155.37,93.58 Q155.37,92.2 157.67,92.2 Q159.97,92.2 159.97,93.58 L159.97,94.8" fill="none" stroke="#222" stroke-width="1.5" />
<path d="M155.37,166 L155.37,167.22 Q155.37,168.6 157.67,168.6 Q159.97,168.6 159.97,167.22 L159.97,166" fill="none" stroke="#222" stroke-width="1.5" />
<path d="M111.5,138.82 L110.28,138.82 Q108.9,138.82 108.9,141.12 Q108.9,143.43 110.28,143.43 L111.5,143.43" fill="none" stroke="#222" stroke-width="1.5" />
<path d="M182.4,138.82 L183.62,138.82 Q185,138.82 185,141.12 Q185,143.43 183.62,143.43 L182.4,143.43" fill="none" stroke="#222" stroke-width="1.5" />
<path d="M162.52,94.8 L162.52,93.58 Q162.52,92.2 164.82,92.2 Q167.12,92.2 167.12,93.58 L167.12,94.8" fill="none" stroke="#222" stroke-width="1.5" />
<path d="M162.52,166 L162.52,167.22 Q162.52,168.6 164.82,168.6 Q167.12,168.6 167.12,167.22 L167.12,166" fill="none" stroke="#222" stroke-width="1.5" />
<path d="M111.5,145.97 L110.28,145.97 Q108.9,145.97 108.9,148.28 Q108.9,150.58 110.28,150.58 L111.5,150.58" fill="none" stroke="#222" stroke-width="1.5" />
<path d="M182.4,145.97 L183.62,145.97 Q185,145.97 185,148.28 Q185,150.58 183.62,150.58 L182.4,150.58" fill="none" stroke="#222" stroke-width="1.5" />
<path d="M169.67,94.8 L169.67,93.58 Q169.67,92.2 171.97,92.2 Q174.28,92.2 174.28,93.58 L174.28,94.8" fill="none" stroke="#222" stroke-width="1.5" />
<path d="M169.67,166 L169.67,167.22 Q169.67,168.6 171.97,168.6 Q174.28,168.6 174.28,167.22 L174.28,166" fill="none" stroke="#222" stroke-width="1.5" />
<path d="M111.5,153.12 L110.28,153.12 Q108.9,153.12 108.9,155.43 Q108.9,157.73 110.28,157.73 L111.5,157.73" fill="none" stroke="#222" stroke-width="1.5" />
<path d="M182.4,153.12 L183.62,153.12 Q185,153.12 185,155.43 Q185,157.73 183.62,157.73 L182.4,157.73" fill="none" stroke="#222" stroke-width="1.5" />
<rect x="111.5" y="94.8" width="70.9" height="71.2" rx="0" fill="#fff" stroke="#333" stroke-width="1.1" />
<circle cx="110.8" cy="94.5" r="4.3" fill="#fff" stroke="#333" stroke-width="0.9" />
<circle cx="118" cy="102" r="3.5" fill="none" stroke="#333" stroke-width="0.9" />
<path d="M119.62,204.6 L119.62,203.38 Q119.62,202 121.92,202 Q124.22,202 124.22,203.38 L124.22,204.6" fill="none" stroke="#222" stroke-width="1.5" />
<path d="M119.62,276 L119.62,277.22 Q119.62,278.6 121.92,278.6 Q124.22,278.6 124.22,277.22 L124.22,276" fill="none" stroke="#222" stroke-width="1.5" />
<path d="M111.4,212.97 L110.18,212.97 Q108.8,212.97 108.8,215.28 Q108.8,217.58 110.18,217.58 L111.4,217.58" fill="none" stroke="#222" stroke-width="1.5" />
<path d="M182.5,212.97 L183.72,212.97 Q185.1,212.97 185.1,215.28 Q185.1,217.58 183.72,217.58 L182.5,217.58" fill="none" stroke="#222" stroke-width="1.5" />
<path d="M126.77,204.6 L126.77,203.38 Q126.77,202 129.07,202 Q131.38,202 131.38,203.38 L131.38,204.6" fill="none" stroke="#222" stroke-width="1.5" />
<path d="M126.77,276 L126.77,277.22 Q126.77,278.6 129.07,278.6 Q131.38,278.6 131.38,277.22 L131.38,276" fill="none" stroke="#222" stroke-width="1.5" />
<path d="M111.4,220.12 L110.18,220.12 Q108.8,220.12 108.8,222.43 Q108.8,224.73 110.18,224.73 L111.4,224.73" fill="none" stroke="#222" stroke-width="1.5" />
<path d="M182.5,220.12 L183.72,220.12 Q185.1,220.12 185.1,222.43 Q185.1,224.73 183.72,224.73 L182.5,224.73" fill="none" stroke="#222" stroke-width="1.5" />
<path d="M133.92,204.6 L133.92,203.38 Q133.92,202 136.22,202 Q138.53,202 138.53,203.38 L138.53,204.6" fill="none" stroke="#222" stroke-width="1.5" />
<path d="M133.92,276 L133.92,277.22 Q133.92,278.6 136.22,278.6 Q138.53,278.6 138.53,277.22 L138.53,276" fill="none" stroke="#222" stroke-width="1.5" />
<path d="M111.4,227.28 L110.18,227.28 Q108.8,227.28 108.8,229.58 Q108.8,231.88 110.18,231.88 L111.4,231.88" fill="none" stroke="#222" stroke-width="1.5" />
<path d="M182.5,227.28 L183.72,227.28 Q185.1,227.28 185.1,229.58 Q185.1,231.88 183.72,231.88 L182.5,231.88" fill="none" stroke="#222" stroke-width="1.5" />
<path d="M141.07,204.6 L141.07,203.38 Q141.07,202 143.38,202 Q145.68,202 145.68,203.38 L145.68,204.6" fill="none" stroke="#222" stroke-width="1.5" />
<path d="M141.07,276 L141.07,277.22 Q141.07,278.6 143.38,278.6 Q145.68,278.6 145.68,277.22 L145.68,276" fill="none" stroke="#222" stroke-width="1.5" />
<path d="M111.4,234.43 L110.18,234.43 Q108.8,234.43 108.8,236.73 Q108.8,239.03 110.18,239.03 L111.4,239.03" fill="none" stroke="#222" stroke-width="1.5" />
<path d="M182.5,234.43 L183.72,234.43 Q185.1,234.43 185.1,236.73 Q185.1,239.03 183.72,239.03 L182.5,239.03" fill="none" stroke="#222" stroke-width="1.5" />
<path d="M148.22,204.6 L148.22,203.38 Q148.22,202 150.52,202 Q152.82,202 152.82,203.38 L152.82,204.6" fill="none" stroke="#222" stroke-width="1.5" />
<path d="M148.22,276 L148.22,277.22 Q148.22,278.6 150.52,278.6 Q152.82,278.6 152.82,277.22 L152.82,276" fill="none" stroke="#222" stroke-width="1.5" />
<path d="M111.4,241.57 L110.18,241.57 Q108.8,241.57 108.8,243.88 Q108.8,246.18 110.18,246.18 L111.4,246.18" fill="none" stroke="#222" stroke-width="1.5" />
<path d="M182.5,241.57 L183.72,241.57 Q185.1,241.57 185.1,243.88 Q185.1,246.18 183.72,246.18 L182.5,246.18" fill="none" stroke="#222" stroke-width="1.5" />
<path d="M155.37,204.6 L155.37,203.38 Q155.37,202 157.67,202 Q159.97,202 159.97,203.38 L159.97,204.6" fill="none" stroke="#222" stroke-width="1.5" />
<path d="M155.37,276 L155.37,277.22 Q155.37,278.6 157.67,278.6 Q159.97,278.6 159.97,277.22 L159.97,276" fill="none" stroke="#222" stroke-width="1.5" />
<path d="M111.4,248.72 L110.18,248.72 Q108.8,248.72 108.8,251.03 Q108.8,253.33 110.18,253.33 L111.4,253.33" fill="none" stroke="#222" stroke-width="1.5" />
<path d="M182.5,248.72 L183.72,248.72 Q185.1,248.72 185.1,251.03 Q185.1,253.33 183.72,253.33 L182.5,253.33" fill="none" stroke="#222" stroke-width="1.5" />
<path d="M162.52,204.6 L162.52,203.38 Q162.52,202 164.82,202 Q167.12,202 167.12,203.38 L167.12,204.6" fill="none" stroke="#222" stroke-width="1.5" />
<path d="M162.52,276 L162.52,277.22 Q162.52,278.6 164.82,278.6 Q167.12,278.6 167.12,277.22 L167.12,276" fill="none" stroke="#222" stroke-width="1.5" />
<path d="M111.4,255.88 L110.18,255.88 Q108.8,255.88 108.8,258.18 Q108.8,260.48 110.18,260.48 L111.4,260.48" fill="none" stroke="#222" stroke-width="1.5" />
<path d="M182.5,255.88 L183.72,255.88 Q185.1,255.88 185.1,258.18 Q185.1,260.48 183.72,260.48 L182.5,260.48" fill="none" stroke="#222" stroke-width="1.5" />
<path d="M169.67,204.6 L169.67,203.38 Q169.67,202 171.97,202 Q174.28,202 174.28,203.38 L174.28,204.6" fill="none" stroke="#222" stroke-width="1.5" />
<path d="M169.67,276 L169.67,277.22 Q169.67,278.6 171.97,278.6 Q174.28,278.6 174.28,277.22 L174.28,276" fill="none" stroke="#222" stroke-width="1.5" />
<path d="M111.4,263.02 L110.18,263.02 Q108.8,263.02 108.8,265.32 Q108.8,267.62 110.18,267.62 L111.4,267.62" fill="none" stroke="#222" stroke-width="1.5" />
<path d="M182.5,263.02 L183.72,263.02 Q185.1,263.02 185.1,265.32 Q185.1,267.62 183.72,267.62 L182.5,267.62" fill="none" stroke="#222" stroke-width="1.5" />
<rect x="111.4" y="204.6" width="71.1" height="71.4" rx="0" fill="#fff" stroke="#333" stroke-width="1.1" />
<circle cx="110.7" cy="204.3" r="4.3" fill="#fff" stroke="#333" stroke-width="0.9" />
<circle cx="117.9" cy="211.8" r="3.5" fill="none" stroke="#333" stroke-width="0.9" />
<rect x="190.95" y="107.7" width="5.5" height="7.7" rx="1.2" fill="none" stroke="#111" stroke-width="1.4" />
<line x1="191.65" y1="111.55" x2="195.75" y2="111.55" stroke="#333" stroke-width="1" />
<rect x="190.95" y="115.8" width="5.5" height="7.7" rx="1.2" fill="none" stroke="#111" stroke-width="1.4" />
<line x1="191.65" y1="119.65" x2="195.75" y2="119.65" stroke="#333" stroke-width="1" />
<rect x="190.95" y="127.8" width="5.5" height="7.7" rx="1.2" fill="none" stroke="#111" stroke-width="1.4" />
<line x1="191.65" y1="131.65" x2="195.75" y2="131.65" stroke="#333" stroke-width="1" />
<rect x="190.95" y="135.9" width="5.5" height="7.7" rx="1.2" fill="none" stroke="#111" stroke-width="1.4" />
<line x1="191.65" y1="139.75" x2="195.75" y2="139.75" stroke="#333" stroke-width="1" />
<rect x="203.4" y="104.6" width="4.3" height="4.6" rx="2" fill="#fff" stroke="#222" stroke-width="1.2" />
<rect x="234.8" y="104.6" width="4.3" height="4.6" rx="2" fill="#fff" stroke="#222" stroke-width="1.2" />
<rect x="203.4" y="114.2" width="4.3" height="4.6" rx="2" fill="#fff" stroke="#222" stroke-width="1.2" />
<rect x="234.8" y="114.2" width="4.3" height="4.6" rx="2" fill="#fff" stroke="#222" stroke-width="1.2" />
<rect x="203.4" y="123.8" width="4.3" height="4.6" rx="2" fill="#fff" stroke="#222" stroke-width="1.2" />
<rect x="234.8" y="123.8" width="4.3" height="4.6" rx="2" fill="#fff" stroke="#222" stroke-width="1.2" />
<rect x="206.2" y="101.6" width="30.1" height="29.7" rx="0" fill="#fff" stroke="#222" stroke-width="1.1" />
<circle cx="208" cy="97.6" r="3.5" fill="#fff" stroke="#333" stroke-width="0.9" />
<circle cx="211.5" cy="106.5" r="2" fill="none" stroke="#333" stroke-width="0.9" />
<rect x="250.7" y="95.3" width="6" height="4.6" rx="2" fill="#fff" stroke="#222" stroke-width="1.2" />
<rect x="283" y="95.3" width="6" height="4.6" rx="2" fill="#fff" stroke="#222" stroke-width="1.2" />
<rect x="250.7" y="101.1" width="6" height="4.6" rx="2" fill="#fff" stroke="#222" stroke-width="1.2" />
<rect x="283" y="101.1" width="6" height="4.6" rx="2" fill="#fff" stroke="#222" stroke-width="1.2" />
<rect x="250.7" y="108" width="6" height="4.6" rx="2" fill="#fff" stroke="#222" stroke-width="1.2" />
<rect x="283" y="108" width="6" height="4.6" rx="2" fill="#fff" stroke="#222" stroke-width="1.2" />
<rect x="250.7" y="115" width="6" height="4.6" rx="2" fill="#fff" stroke="#222" stroke-width="1.2" />
<rect x="283" y="115" width="6" height="4.6" rx="2" fill="#fff" stroke="#222" stroke-width="1.2" />
<rect x="255.2" y="93.4" width="29.3" height="28.6" rx="0" fill="#fff" stroke="#222" stroke-width="1.1" />
<circle cx="285" cy="123.5" r="1.5" fill="none" stroke="#333" stroke-width="0.8" />
<path d="M268.4,105 L268.4,103.6 L272,103.6 L272,105 M268.4,112 L268.4,113.4 L272,113.4 L272,112" fill="none" stroke="#222" stroke-width="1.2" />
<path d="M269.8,105.5 L271.2,107 L270,109 L271,111.3" fill="none" stroke="#111" stroke-width="1.5" />
<path d="M254.8,126.1 L257.8,126.1 Q261.3,126.1 261.3,129.6 L261.3,133.94 L260,135.24 L260,141.46 L261.3,142.76 L261.3,147.1 Q261.3,150.6 257.8,150.6 L254.8,150.6 Q251.3,150.6 251.3,147.1 L251.3,142.76 L252.6,141.46 L252.6,135.24 L251.3,133.94 L251.3,129.6 Q251.3,126.1 254.8,126.1 Z" fill="none" stroke="#111" stroke-width="1.4" />
<line x1="252" y1="131" x2="260.6" y2="131" stroke="#222" stroke-width="1.1" />
<line x1="252" y1="145.7" x2="260.6" y2="145.7" stroke="#222" stroke-width="1.1" />
<line x1="252.2" y1="132.7" x2="260.4" y2="132.7" stroke="#888" stroke-width="0.9" />
<line x1="252.2" y1="144" x2="260.4" y2="144" stroke="#888" stroke-width="0.9" />
<line x1="252.6" y1="135.54" x2="252.6" y2="141.16" stroke="#fff" stroke-width="1.7" />
<line x1="252.6" y1="134.74" x2="252.6" y2="141.96" stroke="#666" stroke-width="1" />
<line x1="260" y1="135.54" x2="260" y2="141.16" stroke="#fff" stroke-width="1.7" />
<line x1="260" y1="134.74" x2="260" y2="141.96" stroke="#666" stroke-width="1" />
<path d="M252.2,129.6 L252.2,133.44 M260.4,129.6 L260.4,133.44 M252.2,147.1 L252.2,143.26 M260.4,147.1 L260.4,143.26" fill="none" stroke="#333" stroke-width="1" />
<rect x="265.5" y="133" width="6.2" height="15.8" rx="1.8" fill="none" stroke="#111" stroke-width="1.5" />
<line x1="266.1" y1="135.2" x2="271.1" y2="135.2" stroke="#333" stroke-width="1.1" />
<line x1="266.1" y1="146.6" x2="271.1" y2="146.6" stroke="#333" stroke-width="1.1" />
<line x1="266.2" y1="137.74" x2="266.2" y2="144.06" stroke="#444" stroke-width="1" />
<line x1="271" y1="137.74" x2="271" y2="144.06" stroke="#444" stroke-width="1" />
<rect x="267.7" y="139" width="1.8" height="3.8" rx="0.5" fill="none" stroke="#222" stroke-width="0.9" />
<path d="M298.1,95 L305.1,95 Q309.6,95 309.6,99.5 L309.6,112.1 L308.9,112.8 L308.9,115.2 L309.6,115.9 L309.6,128.5 Q309.6,133 305.1,133 L298.1,133 Q293.6,133 293.6,128.5 L293.6,115.9 L294.3,115.2 L294.3,112.8 L293.6,112.1 L293.6,99.5 Q293.6,95 298.1,95 Z" fill="none" stroke="#111" stroke-width="1.5" />
<line x1="294.3" y1="101.46" x2="308.9" y2="101.46" stroke="#222" stroke-width="1.1" />
<line x1="294.3" y1="126.54" x2="308.9" y2="126.54" stroke="#222" stroke-width="1.1" />
<line x1="294.5" y1="103.16" x2="308.7" y2="103.16" stroke="#888" stroke-width="0.9" />
<line x1="294.5" y1="124.84" x2="308.7" y2="124.84" stroke="#888" stroke-width="0.9" />
<path d="M294.5,99.5 L294.5,111.6 M308.7,99.5 L308.7,111.6 M294.5,128.5 L294.5,116.4 M308.7,128.5 L308.7,116.4" fill="none" stroke="#333" stroke-width="1" />
<path d="M324.9,95 L331.9,95 Q336.4,95 336.4,99.5 L336.4,112.1 L335.7,112.8 L335.7,115.2 L336.4,115.9 L336.4,128.5 Q336.4,133 331.9,133 L324.9,133 Q320.4,133 320.4,128.5 L320.4,115.9 L321.1,115.2 L321.1,112.8 L320.4,112.1 L320.4,99.5 Q320.4,95 324.9,95 Z" fill="none" stroke="#111" stroke-width="1.5" />
<line x1="321.1" y1="101.46" x2="335.7" y2="101.46" stroke="#222" stroke-width="1.1" />
<line x1="321.1" y1="126.54" x2="335.7" y2="126.54" stroke="#222" stroke-width="1.1" />
<line x1="321.3" y1="103.16" x2="335.5" y2="103.16" stroke="#888" stroke-width="0.9" />
<line x1="321.3" y1="124.84" x2="335.5" y2="124.84" stroke="#888" stroke-width="0.9" />
<path d="M321.3,99.5 L321.3,111.6 M335.5,99.5 L335.5,111.6 M321.3,128.5 L321.3,116.4 M335.5,128.5 L335.5,116.4" fill="none" stroke="#333" stroke-width="1" />
<path d="M343,98.5 L343,104.5 Q343,109 347.5,109 L359.83,109 L360.53,108.3 L362.87,108.3 L363.57,109 L375.9,109 Q380.4,109 380.4,104.5 L380.4,98.5 Q380.4,94 375.9,94 L363.57,94 L362.87,94.7 L360.53,94.7 L359.83,94 L347.5,94 Q343,94 343,98.5 Z" fill="none" stroke="#111" stroke-width="1.5" />
<line x1="349.36" y1="94.7" x2="349.36" y2="108.3" stroke="#222" stroke-width="1.1" />
<line x1="374.04" y1="94.7" x2="374.04" y2="108.3" stroke="#222" stroke-width="1.1" />
<line x1="351.06" y1="94.9" x2="351.06" y2="108.1" stroke="#888" stroke-width="0.9" />
<line x1="372.34" y1="94.9" x2="372.34" y2="108.1" stroke="#888" stroke-width="0.9" />
<path d="M347.5,94.9 L359.33,94.9 M347.5,108.1 L359.33,108.1 M375.9,94.9 L364.07,94.9 M375.9,108.1 L364.07,108.1" fill="none" stroke="#333" stroke-width="1" />
<rect x="386.4" y="95" width="30.6" height="42" rx="4" fill="none" stroke="#1a1a1a" stroke-width="1.5" />
<line x1="387.2" y1="101.3" x2="416.2" y2="101.3" stroke="#333" stroke-width="1" />
<line x1="387.2" y1="102.8" x2="416.2" y2="102.8" stroke="#aaa" stroke-width="0.8" />
<line x1="387.2" y1="130.7" x2="416.2" y2="130.7" stroke="#333" stroke-width="1" />
<line x1="387.2" y1="129.2" x2="416.2" y2="129.2" stroke="#aaa" stroke-width="0.8" />
<rect x="347" y="117.3" width="12" height="5.4" rx="1.3" fill="#fff" stroke="#222" stroke-width="1.4" />
<rect x="348.5" y="118.5" width="8.5" height="3" rx="0.6" fill="#fff" stroke="#666" stroke-width="0.9" />
<rect x="370" y="117.3" width="12" height="5.4" rx="1.3" fill="#fff" stroke="#222" stroke-width="1.4" />
<rect x="372" y="118.5" width="8.5" height="3" rx="0.6" fill="#fff" stroke="#666" stroke-width="0.9" />
<rect x="347" y="124.7" width="12" height="5.4" rx="1.3" fill="#fff" stroke="#222" stroke-width="1.4" />
<rect x="348.5" y="125.9" width="8.5" height="3" rx="0.6" fill="#fff" stroke="#666" stroke-width="0.9" />
<rect x="370" y="124.7" width="12" height="5.4" rx="1.3" fill="#fff" stroke="#222" stroke-width="1.4" />
<rect x="372" y="125.9" width="8.5" height="3" rx="0.6" fill="#fff" stroke="#666" stroke-width="0.9" />
<rect x="347" y="132.1" width="12" height="5.4" rx="1.3" fill="#fff" stroke="#222" stroke-width="1.4" />
<rect x="348.5" y="133.3" width="8.5" height="3" rx="0.6" fill="#fff" stroke="#666" stroke-width="0.9" />
<rect x="370" y="132.1" width="12" height="5.4" rx="1.3" fill="#fff" stroke="#222" stroke-width="1.4" />
<rect x="372" y="133.3" width="8.5" height="3" rx="0.6" fill="#fff" stroke="#666" stroke-width="0.9" />
<rect x="356" y="115" width="17" height="23.6" rx="0" fill="#fff" stroke="#222" stroke-width="1.1" />
<circle cx="350" cy="114" r="2.8" fill="none" stroke="#333" stroke-width="0.9" />
<path d="M428.5,90 L431.5,90 Q435,90 435,93.5 L435,97.68 L433.7,98.98 L433.7,105.02 L435,106.32 L435,110.5 Q435,114 431.5,114 L428.5,114 Q425,114 425,110.5 L425,106.32 L426.3,105.02 L426.3,98.98 L425,97.68 L425,93.5 Q425,90 428.5,90 Z" fill="none" stroke="#111" stroke-width="1.4" />
<line x1="425.7" y1="94.8" x2="434.3" y2="94.8" stroke="#222" stroke-width="1.1" />
<line x1="425.7" y1="109.2" x2="434.3" y2="109.2" stroke="#222" stroke-width="1.1" />
<line x1="425.9" y1="96.5" x2="434.1" y2="96.5" stroke="#888" stroke-width="0.9" />
<line x1="425.9" y1="107.5" x2="434.1" y2="107.5" stroke="#888" stroke-width="0.9" />
<line x1="426.3" y1="99.28" x2="426.3" y2="104.72" stroke="#fff" stroke-width="1.7" />
<line x1="426.3" y1="98.48" x2="426.3" y2="105.52" stroke="#666" stroke-width="1" />
<line x1="433.7" y1="99.28" x2="433.7" y2="104.72" stroke="#fff" stroke-width="1.7" />
<line x1="433.7" y1="98.48" x2="433.7" y2="105.52" stroke="#666" stroke-width="1" />
<path d="M425.9,93.5 L425.9,97.18 M434.1,93.5 L434.1,97.18 M425.9,110.5 L425.9,106.82 M434.1,110.5 L434.1,106.82" fill="none" stroke="#333" stroke-width="1" />
<path d="M428.5,119 L431.5,119 Q435,119 435,122.5 L435,126.68 L433.7,127.98 L433.7,134.02 L435,135.32 L435,139.5 Q435,143 431.5,143 L428.5,143 Q425,143 425,139.5 L425,135.32 L426.3,134.02 L426.3,127.98 L425,126.68 L425,122.5 Q425,119 428.5,119 Z" fill="none" stroke="#111" stroke-width="1.4" />
<line x1="425.7" y1="123.8" x2="434.3" y2="123.8" stroke="#222" stroke-width="1.1" />
<line x1="425.7" y1="138.2" x2="434.3" y2="138.2" stroke="#222" stroke-width="1.1" />
<line x1="425.9" y1="125.5" x2="434.1" y2="125.5" stroke="#888" stroke-width="0.9" />
<line x1="425.9" y1="136.5" x2="434.1" y2="136.5" stroke="#888" stroke-width="0.9" />
<line x1="426.3" y1="128.28" x2="426.3" y2="133.72" stroke="#fff" stroke-width="1.7" />
<line x1="426.3" y1="127.48" x2="426.3" y2="134.52" stroke="#666" stroke-width="1" />
<line x1="433.7" y1="128.28" x2="433.7" y2="133.72" stroke="#fff" stroke-width="1.7" />
<line x1="433.7" y1="127.48" x2="433.7" y2="134.52" stroke="#666" stroke-width="1" />
<path d="M425.9,122.5 L425.9,126.18 M434.1,122.5 L434.1,126.18 M425.9,139.5 L425.9,135.82 M434.1,139.5 L434.1,135.82" fill="none" stroke="#333" stroke-width="1" />
<rect x="438.9" y="99" width="5.4" height="15" rx="1.8" fill="none" stroke="#111" stroke-width="1.5" />
<line x1="439.5" y1="101.2" x2="443.7" y2="101.2" stroke="#333" stroke-width="1.1" />
<line x1="439.5" y1="111.8" x2="443.7" y2="111.8" stroke="#333" stroke-width="1.1" />
<line x1="439.6" y1="103.5" x2="439.6" y2="109.5" stroke="#444" stroke-width="1" />
<line x1="443.6" y1="103.5" x2="443.6" y2="109.5" stroke="#444" stroke-width="1" />
<rect x="440.7" y="104.6" width="1.8" height="3.8" rx="0.5" fill="none" stroke="#222" stroke-width="0.9" />
<rect x="438.9" y="119" width="5.4" height="16" rx="1.8" fill="none" stroke="#111" stroke-width="1.5" />
<line x1="439.5" y1="121.2" x2="443.7" y2="121.2" stroke="#333" stroke-width="1.1" />
<line x1="439.5" y1="132.8" x2="443.7" y2="132.8" stroke="#333" stroke-width="1.1" />
<line x1="439.6" y1="123.8" x2="439.6" y2="130.2" stroke="#444" stroke-width="1" />
<line x1="443.6" y1="123.8" x2="443.6" y2="130.2" stroke="#444" stroke-width="1" />
<rect x="440.7" y="125.1" width="1.8" height="3.8" rx="0.5" fill="none" stroke="#222" stroke-width="0.9" />
<path d="M290,143.85 L290,147.15 Q290,151 293.85,151 L298,151 L299.3,149.7 L305.7,149.7 L307,151 L311.15,151 Q315,151 315,147.15 L315,143.85 Q315,140 311.15,140 L307,140 L305.7,141.3 L299.3,141.3 L298,140 L293.85,140 Q290,140 290,143.85 Z" fill="none" stroke="#111" stroke-width="1.4" />
<line x1="295" y1="140.7" x2="295" y2="150.3" stroke="#222" stroke-width="1.1" />
<line x1="310" y1="140.7" x2="310" y2="150.3" stroke="#222" stroke-width="1.1" />
<line x1="296.7" y1="140.9" x2="296.7" y2="150.1" stroke="#888" stroke-width="0.9" />
<line x1="308.3" y1="140.9" x2="308.3" y2="150.1" stroke="#888" stroke-width="0.9" />
<line x1="299.6" y1="141.3" x2="305.4" y2="141.3" stroke="#fff" stroke-width="1.7" />
<line x1="298.8" y1="141.3" x2="306.2" y2="141.3" stroke="#666" stroke-width="1" />
<line x1="299.6" y1="149.7" x2="305.4" y2="149.7" stroke="#fff" stroke-width="1.7" />
<line x1="298.8" y1="149.7" x2="306.2" y2="149.7" stroke="#666" stroke-width="1" />
<path d="M293.85,140.9 L297.5,140.9 M293.85,150.1 L297.5,150.1 M311.15,140.9 L307.5,140.9 M311.15,150.1 L307.5,150.1" fill="none" stroke="#333" stroke-width="1" />
<path d="M319,143.85 L319,147.15 Q319,151 322.85,151 L326.87,151 L328.17,149.7 L334.43,149.7 L335.73,151 L339.75,151 Q343.6,151 343.6,147.15 L343.6,143.85 Q343.6,140 339.75,140 L335.73,140 L334.43,141.3 L328.17,141.3 L326.87,140 L322.85,140 Q319,140 319,143.85 Z" fill="none" stroke="#111" stroke-width="1.4" />
<line x1="323.92" y1="140.7" x2="323.92" y2="150.3" stroke="#222" stroke-width="1.1" />
<line x1="338.68" y1="140.7" x2="338.68" y2="150.3" stroke="#222" stroke-width="1.1" />
<line x1="325.62" y1="140.9" x2="325.62" y2="150.1" stroke="#888" stroke-width="0.9" />
<line x1="336.98" y1="140.9" x2="336.98" y2="150.1" stroke="#888" stroke-width="0.9" />
<line x1="328.47" y1="141.3" x2="334.13" y2="141.3" stroke="#fff" stroke-width="1.7" />
<line x1="327.67" y1="141.3" x2="334.93" y2="141.3" stroke="#666" stroke-width="1" />
<line x1="328.47" y1="149.7" x2="334.13" y2="149.7" stroke="#fff" stroke-width="1.7" />
<line x1="327.67" y1="149.7" x2="334.93" y2="149.7" stroke="#666" stroke-width="1" />
<path d="M322.85,140.9 L326.37,140.9 M322.85,150.1 L326.37,150.1 M339.75,140.9 L336.23,140.9 M339.75,150.1 L336.23,150.1" fill="none" stroke="#333" stroke-width="1" />
<path d="M365,148.5 L365,155.5 Q365,160 369.5,160 L381.83,160 L382.53,159.3 L384.87,159.3 L385.57,160 L397.9,160 Q402.4,160 402.4,155.5 L402.4,148.5 Q402.4,144 397.9,144 L385.57,144 L384.87,144.7 L382.53,144.7 L381.83,144 L369.5,144 Q365,144 365,148.5 Z" fill="none" stroke="#111" stroke-width="1.5" />
<line x1="371.36" y1="144.7" x2="371.36" y2="159.3" stroke="#222" stroke-width="1.1" />
<line x1="396.04" y1="144.7" x2="396.04" y2="159.3" stroke="#222" stroke-width="1.1" />
<line x1="373.06" y1="144.9" x2="373.06" y2="159.1" stroke="#888" stroke-width="0.9" />
<line x1="394.34" y1="144.9" x2="394.34" y2="159.1" stroke="#888" stroke-width="0.9" />
<path d="M369.5,144.9 L381.33,144.9 M369.5,159.1 L381.33,159.1 M397.9,144.9 L386.07,144.9 M397.9,159.1 L386.07,159.1" fill="none" stroke="#333" stroke-width="1" />
<rect x="408" y="147" width="16" height="5" rx="1.8" fill="none" stroke="#111" stroke-width="1.5" />
<line x1="410.2" y1="147.6" x2="410.2" y2="151.4" stroke="#333" stroke-width="1.1" />
<line x1="421.8" y1="147.6" x2="421.8" y2="151.4" stroke="#333" stroke-width="1.1" />
<line x1="412.8" y1="147.7" x2="419.2" y2="147.7" stroke="#444" stroke-width="1" />
<line x1="412.8" y1="151.3" x2="419.2" y2="151.3" stroke="#444" stroke-width="1" />
<rect x="414.1" y="148.6" width="3.8" height="1.8" rx="0.5" fill="none" stroke="#222" stroke-width="0.9" />
<rect x="107" y="173.3" width="6" height="15.3" rx="1.8" fill="none" stroke="#111" stroke-width="1.5" />
<line x1="107.6" y1="175.5" x2="112.4" y2="175.5" stroke="#333" stroke-width="1.1" />
<line x1="107.6" y1="186.4" x2="112.4" y2="186.4" stroke="#333" stroke-width="1.1" />
<line x1="107.7" y1="177.89" x2="107.7" y2="184.01" stroke="#444" stroke-width="1" />
<line x1="112.3" y1="177.89" x2="112.3" y2="184.01" stroke="#444" stroke-width="1" />
<rect x="109.1" y="179.05" width="1.8" height="3.8" rx="0.5" fill="none" stroke="#222" stroke-width="0.9" />
<rect x="117" y="173.3" width="6" height="15.3" rx="1.8" fill="none" stroke="#111" stroke-width="1.5" />
<line x1="117.6" y1="175.5" x2="122.4" y2="175.5" stroke="#333" stroke-width="1.1" />
<line x1="117.6" y1="186.4" x2="122.4" y2="186.4" stroke="#333" stroke-width="1.1" />
<line x1="117.7" y1="177.89" x2="117.7" y2="184.01" stroke="#444" stroke-width="1" />
<line x1="122.3" y1="177.89" x2="122.3" y2="184.01" stroke="#444" stroke-width="1" />
<rect x="119.1" y="179.05" width="1.8" height="3.8" rx="0.5" fill="none" stroke="#222" stroke-width="0.9" />
<rect x="127" y="173.3" width="6" height="15.3" rx="1.8" fill="none" stroke="#111" stroke-width="1.5" />
<line x1="127.6" y1="175.5" x2="132.4" y2="175.5" stroke="#333" stroke-width="1.1" />
<line x1="127.6" y1="186.4" x2="132.4" y2="186.4" stroke="#333" stroke-width="1.1" />
<line x1="127.7" y1="177.89" x2="127.7" y2="184.01" stroke="#444" stroke-width="1" />
<line x1="132.3" y1="177.89" x2="132.3" y2="184.01" stroke="#444" stroke-width="1" />
<rect x="129.1" y="179.05" width="1.8" height="3.8" rx="0.5" fill="none" stroke="#222" stroke-width="0.9" />
<rect x="136.7" y="173.3" width="6" height="15.3" rx="1.8" fill="none" stroke="#111" stroke-width="1.5" />
<line x1="137.3" y1="175.5" x2="142.1" y2="175.5" stroke="#333" stroke-width="1.1" />
<line x1="137.3" y1="186.4" x2="142.1" y2="186.4" stroke="#333" stroke-width="1.1" />
<line x1="137.4" y1="177.89" x2="137.4" y2="184.01" stroke="#444" stroke-width="1" />
<line x1="142" y1="177.89" x2="142" y2="184.01" stroke="#444" stroke-width="1" />
<rect x="138.8" y="179.05" width="1.8" height="3.8" rx="0.5" fill="none" stroke="#222" stroke-width="0.9" />
<rect x="147" y="173.3" width="6" height="15.3" rx="1.8" fill="none" stroke="#111" stroke-width="1.5" />
<line x1="147.6" y1="175.5" x2="152.4" y2="175.5" stroke="#333" stroke-width="1.1" />
<line x1="147.6" y1="186.4" x2="152.4" y2="186.4" stroke="#333" stroke-width="1.1" />
<line x1="147.7" y1="177.89" x2="147.7" y2="184.01" stroke="#444" stroke-width="1" />
<line x1="152.3" y1="177.89" x2="152.3" y2="184.01" stroke="#444" stroke-width="1" />
<rect x="149.1" y="179.05" width="1.8" height="3.8" rx="0.5" fill="none" stroke="#222" stroke-width="0.9" />
<rect x="157.4" y="173.3" width="6" height="15.3" rx="1.8" fill="none" stroke="#111" stroke-width="1.5" />
<line x1="158" y1="175.5" x2="162.8" y2="175.5" stroke="#333" stroke-width="1.1" />
<line x1="158" y1="186.4" x2="162.8" y2="186.4" stroke="#333" stroke-width="1.1" />
<line x1="158.1" y1="177.89" x2="158.1" y2="184.01" stroke="#444" stroke-width="1" />
<line x1="162.7" y1="177.89" x2="162.7" y2="184.01" stroke="#444" stroke-width="1" />
<rect x="159.5" y="179.05" width="1.8" height="3.8" rx="0.5" fill="none" stroke="#222" stroke-width="0.9" />
<rect x="167.6" y="173.3" width="6" height="15.3" rx="1.8" fill="none" stroke="#111" stroke-width="1.5" />
<line x1="168.2" y1="175.5" x2="173" y2="175.5" stroke="#333" stroke-width="1.1" />
<line x1="168.2" y1="186.4" x2="173" y2="186.4" stroke="#333" stroke-width="1.1" />
<line x1="168.3" y1="177.89" x2="168.3" y2="184.01" stroke="#444" stroke-width="1" />
<line x1="172.9" y1="177.89" x2="172.9" y2="184.01" stroke="#444" stroke-width="1" />
<rect x="169.7" y="179.05" width="1.8" height="3.8" rx="0.5" fill="none" stroke="#222" stroke-width="0.9" />
<rect x="107" y="193.05" width="7.55" height="5.5" rx="1.2" fill="none" stroke="#111" stroke-width="1.4" />
<line x1="109.72" y1="193.75" x2="109.72" y2="197.85" stroke="#444" stroke-width="0.9" />
<line x1="111.83" y1="193.75" x2="111.83" y2="197.85" stroke="#444" stroke-width="0.9" />
<rect x="114.95" y="193.05" width="7.55" height="5.5" rx="1.2" fill="none" stroke="#111" stroke-width="1.4" />
<line x1="117.67" y1="193.75" x2="117.67" y2="197.85" stroke="#444" stroke-width="0.9" />
<line x1="119.78" y1="193.75" x2="119.78" y2="197.85" stroke="#444" stroke-width="0.9" />
<rect x="128" y="193.05" width="7.1" height="5.5" rx="1.2" fill="none" stroke="#111" stroke-width="1.4" />
<line x1="130.56" y1="193.75" x2="130.56" y2="197.85" stroke="#444" stroke-width="0.9" />
<line x1="132.54" y1="193.75" x2="132.54" y2="197.85" stroke="#444" stroke-width="0.9" />
<rect x="135.5" y="193.05" width="7.1" height="5.5" rx="1.2" fill="none" stroke="#111" stroke-width="1.4" />
<line x1="138.06" y1="193.75" x2="138.06" y2="197.85" stroke="#444" stroke-width="0.9" />
<line x1="140.04" y1="193.75" x2="140.04" y2="197.85" stroke="#444" stroke-width="0.9" />
<rect x="148" y="193.05" width="7.1" height="5.5" rx="1.2" fill="none" stroke="#111" stroke-width="1.4" />
<line x1="150.56" y1="193.75" x2="150.56" y2="197.85" stroke="#444" stroke-width="0.9" />
<line x1="152.54" y1="193.75" x2="152.54" y2="197.85" stroke="#444" stroke-width="0.9" />
<rect x="155.5" y="193.05" width="7.1" height="5.5" rx="1.2" fill="none" stroke="#111" stroke-width="1.4" />
<line x1="158.06" y1="193.75" x2="158.06" y2="197.85" stroke="#444" stroke-width="0.9" />
<line x1="160.04" y1="193.75" x2="160.04" y2="197.85" stroke="#444" stroke-width="0.9" />
<path d="M179.94,171.1 L182.56,171.1 Q185.6,171.1 185.6,174.14 L185.6,178.84 L184.3,180.14 L184.3,186.26 L185.6,187.56 L185.6,192.26 Q185.6,195.3 182.56,195.3 L179.94,195.3 Q176.9,195.3 176.9,192.26 L176.9,187.56 L178.2,186.26 L178.2,180.14 L176.9,178.84 L176.9,174.14 Q176.9,171.1 179.94,171.1 Z" fill="none" stroke="#111" stroke-width="1.4" />
<line x1="177.6" y1="175.94" x2="184.9" y2="175.94" stroke="#222" stroke-width="1.1" />
<line x1="177.6" y1="190.46" x2="184.9" y2="190.46" stroke="#222" stroke-width="1.1" />
<line x1="177.8" y1="177.64" x2="184.7" y2="177.64" stroke="#888" stroke-width="0.9" />
<line x1="177.8" y1="188.76" x2="184.7" y2="188.76" stroke="#888" stroke-width="0.9" />
<line x1="178.2" y1="180.44" x2="178.2" y2="185.96" stroke="#fff" stroke-width="1.7" />
<line x1="178.2" y1="179.64" x2="178.2" y2="186.76" stroke="#666" stroke-width="1" />
<line x1="184.3" y1="180.44" x2="184.3" y2="185.96" stroke="#fff" stroke-width="1.7" />
<line x1="184.3" y1="179.64" x2="184.3" y2="186.76" stroke="#666" stroke-width="1" />
<path d="M177.8,174.14 L177.8,178.34 M184.7,174.14 L184.7,178.34 M177.8,192.26 L177.8,188.06 M184.7,192.26 L184.7,188.06" fill="none" stroke="#333" stroke-width="1" />
<path d="M195.1,151.1 L202.4,151.1 Q206.9,151.1 206.9,155.6 L206.9,167.97 L206.2,168.67 L206.2,171.03 L206.9,171.72 L206.9,184.1 Q206.9,188.6 202.4,188.6 L195.1,188.6 Q190.6,188.6 190.6,184.1 L190.6,171.72 L191.3,171.03 L191.3,168.67 L190.6,167.97 L190.6,155.6 Q190.6,151.1 195.1,151.1 Z" fill="none" stroke="#111" stroke-width="1.5" />
<line x1="191.3" y1="157.47" x2="206.2" y2="157.47" stroke="#222" stroke-width="1.1" />
<line x1="191.3" y1="182.22" x2="206.2" y2="182.22" stroke="#222" stroke-width="1.1" />
<line x1="191.5" y1="159.17" x2="206" y2="159.17" stroke="#888" stroke-width="0.9" />
<line x1="191.5" y1="180.53" x2="206" y2="180.53" stroke="#888" stroke-width="0.9" />
<path d="M191.5,155.6 L191.5,167.47 M206,155.6 L206,167.47 M191.5,184.1 L191.5,172.22 M206,184.1 L206,172.22" fill="none" stroke="#333" stroke-width="1" />
<rect x="211" y="154" width="6" height="16" rx="1.8" fill="none" stroke="#111" stroke-width="1.5" />
<line x1="211.6" y1="156.2" x2="216.4" y2="156.2" stroke="#333" stroke-width="1.1" />
<line x1="211.6" y1="167.8" x2="216.4" y2="167.8" stroke="#333" stroke-width="1.1" />
<line x1="211.7" y1="158.8" x2="211.7" y2="165.2" stroke="#444" stroke-width="1" />
<line x1="216.3" y1="158.8" x2="216.3" y2="165.2" stroke="#444" stroke-width="1" />
<rect x="213.1" y="160.1" width="1.8" height="3.8" rx="0.5" fill="none" stroke="#222" stroke-width="0.9" />
<rect x="221.07" y="154" width="6" height="16" rx="1.8" fill="none" stroke="#111" stroke-width="1.5" />
<line x1="221.67" y1="156.2" x2="226.47" y2="156.2" stroke="#333" stroke-width="1.1" />
<line x1="221.67" y1="167.8" x2="226.47" y2="167.8" stroke="#333" stroke-width="1.1" />
<line x1="221.77" y1="158.8" x2="221.77" y2="165.2" stroke="#444" stroke-width="1" />
<line x1="226.37" y1="158.8" x2="226.37" y2="165.2" stroke="#444" stroke-width="1" />
<rect x="223.17" y="160.1" width="1.8" height="3.8" rx="0.5" fill="none" stroke="#222" stroke-width="0.9" />
<rect x="231.14" y="154" width="6" height="16" rx="1.8" fill="none" stroke="#111" stroke-width="1.5" />
<line x1="231.74" y1="156.2" x2="236.54" y2="156.2" stroke="#333" stroke-width="1.1" />
<line x1="231.74" y1="167.8" x2="236.54" y2="167.8" stroke="#333" stroke-width="1.1" />
<line x1="231.84" y1="158.8" x2="231.84" y2="165.2" stroke="#444" stroke-width="1" />
<line x1="236.44" y1="158.8" x2="236.44" y2="165.2" stroke="#444" stroke-width="1" />
<rect x="233.24" y="160.1" width="1.8" height="3.8" rx="0.5" fill="none" stroke="#222" stroke-width="0.9" />
<rect x="241.21" y="154" width="6" height="16" rx="1.8" fill="none" stroke="#111" stroke-width="1.5" />
<line x1="241.81" y1="156.2" x2="246.61" y2="156.2" stroke="#333" stroke-width="1.1" />
<line x1="241.81" y1="167.8" x2="246.61" y2="167.8" stroke="#333" stroke-width="1.1" />
<line x1="241.91" y1="158.8" x2="241.91" y2="165.2" stroke="#444" stroke-width="1" />
<line x1="246.51" y1="158.8" x2="246.51" y2="165.2" stroke="#444" stroke-width="1" />
<rect x="243.31" y="160.1" width="1.8" height="3.8" rx="0.5" fill="none" stroke="#222" stroke-width="0.9" />
<rect x="251.28" y="154" width="6" height="16" rx="1.8" fill="none" stroke="#111" stroke-width="1.5" />
<line x1="251.88" y1="156.2" x2="256.68" y2="156.2" stroke="#333" stroke-width="1.1" />
<line x1="251.88" y1="167.8" x2="256.68" y2="167.8" stroke="#333" stroke-width="1.1" />
<line x1="251.98" y1="158.8" x2="251.98" y2="165.2" stroke="#444" stroke-width="1" />
<line x1="256.58" y1="158.8" x2="256.58" y2="165.2" stroke="#444" stroke-width="1" />
<rect x="253.38" y="160.1" width="1.8" height="3.8" rx="0.5" fill="none" stroke="#222" stroke-width="0.9" />
<rect x="261.35" y="154" width="6" height="16" rx="1.8" fill="none" stroke="#111" stroke-width="1.5" />
<line x1="261.95" y1="156.2" x2="266.75" y2="156.2" stroke="#333" stroke-width="1.1" />
<line x1="261.95" y1="167.8" x2="266.75" y2="167.8" stroke="#333" stroke-width="1.1" />
<line x1="262.05" y1="158.8" x2="262.05" y2="165.2" stroke="#444" stroke-width="1" />
<line x1="266.65" y1="158.8" x2="266.65" y2="165.2" stroke="#444" stroke-width="1" />
<rect x="263.45" y="160.1" width="1.8" height="3.8" rx="0.5" fill="none" stroke="#222" stroke-width="0.9" />
<rect x="271.42" y="154" width="6" height="16" rx="1.8" fill="none" stroke="#111" stroke-width="1.5" />
<line x1="272.02" y1="156.2" x2="276.82" y2="156.2" stroke="#333" stroke-width="1.1" />
<line x1="272.02" y1="167.8" x2="276.82" y2="167.8" stroke="#333" stroke-width="1.1" />
<line x1="272.12" y1="158.8" x2="272.12" y2="165.2" stroke="#444" stroke-width="1" />
<line x1="276.72" y1="158.8" x2="276.72" y2="165.2" stroke="#444" stroke-width="1" />
<rect x="273.52" y="160.1" width="1.8" height="3.8" rx="0.5" fill="none" stroke="#222" stroke-width="0.9" />
<rect x="281.49" y="154" width="6" height="16" rx="1.8" fill="none" stroke="#111" stroke-width="1.5" />
<line x1="282.09" y1="156.2" x2="286.89" y2="156.2" stroke="#333" stroke-width="1.1" />
<line x1="282.09" y1="167.8" x2="286.89" y2="167.8" stroke="#333" stroke-width="1.1" />
<line x1="282.19" y1="158.8" x2="282.19" y2="165.2" stroke="#444" stroke-width="1" />
<line x1="286.79" y1="158.8" x2="286.79" y2="165.2" stroke="#444" stroke-width="1" />
<rect x="283.59" y="160.1" width="1.8" height="3.8" rx="0.5" fill="none" stroke="#222" stroke-width="0.9" />
<rect x="291.56" y="154" width="6" height="16" rx="1.8" fill="none" stroke="#111" stroke-width="1.5" />
<line x1="292.16" y1="156.2" x2="296.96" y2="156.2" stroke="#333" stroke-width="1.1" />
<line x1="292.16" y1="167.8" x2="296.96" y2="167.8" stroke="#333" stroke-width="1.1" />
<line x1="292.26" y1="158.8" x2="292.26" y2="165.2" stroke="#444" stroke-width="1" />
<line x1="296.86" y1="158.8" x2="296.86" y2="165.2" stroke="#444" stroke-width="1" />
<rect x="293.66" y="160.1" width="1.8" height="3.8" rx="0.5" fill="none" stroke="#222" stroke-width="0.9" />
<rect x="301.63" y="154" width="6" height="16" rx="1.8" fill="none" stroke="#111" stroke-width="1.5" />
<line x1="302.23" y1="156.2" x2="307.03" y2="156.2" stroke="#333" stroke-width="1.1" />
<line x1="302.23" y1="167.8" x2="307.03" y2="167.8" stroke="#333" stroke-width="1.1" />
<line x1="302.33" y1="158.8" x2="302.33" y2="165.2" stroke="#444" stroke-width="1" />
<line x1="306.93" y1="158.8" x2="306.93" y2="165.2" stroke="#444" stroke-width="1" />
<rect x="303.73" y="160.1" width="1.8" height="3.8" rx="0.5" fill="none" stroke="#222" stroke-width="0.9" />
<rect x="311.7" y="154" width="6" height="16" rx="1.8" fill="none" stroke="#111" stroke-width="1.5" />
<line x1="312.3" y1="156.2" x2="317.1" y2="156.2" stroke="#333" stroke-width="1.1" />
<line x1="312.3" y1="167.8" x2="317.1" y2="167.8" stroke="#333" stroke-width="1.1" />
<line x1="312.4" y1="158.8" x2="312.4" y2="165.2" stroke="#444" stroke-width="1" />
<line x1="317" y1="158.8" x2="317" y2="165.2" stroke="#444" stroke-width="1" />
<rect x="313.8" y="160.1" width="1.8" height="3.8" rx="0.5" fill="none" stroke="#222" stroke-width="0.9" />
<rect x="321.77" y="154" width="6" height="16" rx="1.8" fill="none" stroke="#111" stroke-width="1.5" />
<line x1="322.37" y1="156.2" x2="327.17" y2="156.2" stroke="#333" stroke-width="1.1" />
<line x1="322.37" y1="167.8" x2="327.17" y2="167.8" stroke="#333" stroke-width="1.1" />
<line x1="322.47" y1="158.8" x2="322.47" y2="165.2" stroke="#444" stroke-width="1" />
<line x1="327.07" y1="158.8" x2="327.07" y2="165.2" stroke="#444" stroke-width="1" />
<rect x="323.87" y="160.1" width="1.8" height="3.8" rx="0.5" fill="none" stroke="#222" stroke-width="0.9" />
<rect x="331.84" y="154" width="6" height="16" rx="1.8" fill="none" stroke="#111" stroke-width="1.5" />
<line x1="332.44" y1="156.2" x2="337.24" y2="156.2" stroke="#333" stroke-width="1.1" />
<line x1="332.44" y1="167.8" x2="337.24" y2="167.8" stroke="#333" stroke-width="1.1" />
<line x1="332.54" y1="158.8" x2="332.54" y2="165.2" stroke="#444" stroke-width="1" />
<line x1="337.14" y1="158.8" x2="337.14" y2="165.2" stroke="#444" stroke-width="1" />
<rect x="333.94" y="160.1" width="1.8" height="3.8" rx="0.5" fill="none" stroke="#222" stroke-width="0.9" />
<rect x="341.91" y="154" width="6" height="16" rx="1.8" fill="none" stroke="#111" stroke-width="1.5" />
<line x1="342.51" y1="156.2" x2="347.31" y2="156.2" stroke="#333" stroke-width="1.1" />
<line x1="342.51" y1="167.8" x2="347.31" y2="167.8" stroke="#333" stroke-width="1.1" />
<line x1="342.61" y1="158.8" x2="342.61" y2="165.2" stroke="#444" stroke-width="1" />
<line x1="347.21" y1="158.8" x2="347.21" y2="165.2" stroke="#444" stroke-width="1" />
<rect x="344.01" y="160.1" width="1.8" height="3.8" rx="0.5" fill="none" stroke="#222" stroke-width="0.9" />
<rect x="351.98" y="154" width="6" height="16" rx="1.8" fill="none" stroke="#111" stroke-width="1.5" />
<line x1="352.58" y1="156.2" x2="357.38" y2="156.2" stroke="#333" stroke-width="1.1" />
<line x1="352.58" y1="167.8" x2="357.38" y2="167.8" stroke="#333" stroke-width="1.1" />
<line x1="352.68" y1="158.8" x2="352.68" y2="165.2" stroke="#444" stroke-width="1" />
<line x1="357.28" y1="158.8" x2="357.28" y2="165.2" stroke="#444" stroke-width="1" />
<rect x="354.08" y="160.1" width="1.8" height="3.8" rx="0.5" fill="none" stroke="#222" stroke-width="0.9" />
<rect x="212.4" y="174.45" width="7.6" height="5.5" rx="1.2" fill="none" stroke="#111" stroke-width="1.4" />
<line x1="215.14" y1="175.15" x2="215.14" y2="179.25" stroke="#444" stroke-width="0.9" />
<line x1="217.26" y1="175.15" x2="217.26" y2="179.25" stroke="#444" stroke-width="0.9" />
<rect x="220.4" y="174.45" width="7.6" height="5.5" rx="1.2" fill="none" stroke="#111" stroke-width="1.4" />
<line x1="223.14" y1="175.15" x2="223.14" y2="179.25" stroke="#444" stroke-width="0.9" />
<line x1="225.26" y1="175.15" x2="225.26" y2="179.25" stroke="#444" stroke-width="0.9" />
<rect x="232.35" y="174.45" width="7.6" height="5.5" rx="1.2" fill="none" stroke="#111" stroke-width="1.4" />
<line x1="235.09" y1="175.15" x2="235.09" y2="179.25" stroke="#444" stroke-width="0.9" />
<line x1="237.21" y1="175.15" x2="237.21" y2="179.25" stroke="#444" stroke-width="0.9" />
<rect x="240.35" y="174.45" width="7.6" height="5.5" rx="1.2" fill="none" stroke="#111" stroke-width="1.4" />
<line x1="243.09" y1="175.15" x2="243.09" y2="179.25" stroke="#444" stroke-width="0.9" />
<line x1="245.21" y1="175.15" x2="245.21" y2="179.25" stroke="#444" stroke-width="0.9" />
<rect x="252.3" y="174.45" width="7.6" height="5.5" rx="1.2" fill="none" stroke="#111" stroke-width="1.4" />
<line x1="255.04" y1="175.15" x2="255.04" y2="179.25" stroke="#444" stroke-width="0.9" />
<line x1="257.16" y1="175.15" x2="257.16" y2="179.25" stroke="#444" stroke-width="0.9" />
<rect x="260.3" y="174.45" width="7.6" height="5.5" rx="1.2" fill="none" stroke="#111" stroke-width="1.4" />
<line x1="263.04" y1="175.15" x2="263.04" y2="179.25" stroke="#444" stroke-width="0.9" />
<line x1="265.16" y1="175.15" x2="265.16" y2="179.25" stroke="#444" stroke-width="0.9" />
<rect x="272.25" y="174.45" width="7.6" height="5.5" rx="1.2" fill="none" stroke="#111" stroke-width="1.4" />
<line x1="274.99" y1="175.15" x2="274.99" y2="179.25" stroke="#444" stroke-width="0.9" />
<line x1="277.11" y1="175.15" x2="277.11" y2="179.25" stroke="#444" stroke-width="0.9" />
<rect x="280.25" y="174.45" width="7.6" height="5.5" rx="1.2" fill="none" stroke="#111" stroke-width="1.4" />
<line x1="282.99" y1="175.15" x2="282.99" y2="179.25" stroke="#444" stroke-width="0.9" />
<line x1="285.11" y1="175.15" x2="285.11" y2="179.25" stroke="#444" stroke-width="0.9" />
<rect x="292.2" y="174.45" width="7.6" height="5.5" rx="1.2" fill="none" stroke="#111" stroke-width="1.4" />
<line x1="294.94" y1="175.15" x2="294.94" y2="179.25" stroke="#444" stroke-width="0.9" />
<line x1="297.06" y1="175.15" x2="297.06" y2="179.25" stroke="#444" stroke-width="0.9" />
<rect x="300.2" y="174.45" width="7.6" height="5.5" rx="1.2" fill="none" stroke="#111" stroke-width="1.4" />
<line x1="302.94" y1="175.15" x2="302.94" y2="179.25" stroke="#444" stroke-width="0.9" />
<line x1="305.06" y1="175.15" x2="305.06" y2="179.25" stroke="#444" stroke-width="0.9" />
<rect x="312.15" y="174.45" width="7.6" height="5.5" rx="1.2" fill="none" stroke="#111" stroke-width="1.4" />
<line x1="314.89" y1="175.15" x2="314.89" y2="179.25" stroke="#444" stroke-width="0.9" />
<line x1="317.01" y1="175.15" x2="317.01" y2="179.25" stroke="#444" stroke-width="0.9" />
<rect x="320.15" y="174.45" width="7.6" height="5.5" rx="1.2" fill="none" stroke="#111" stroke-width="1.4" />
<line x1="322.89" y1="175.15" x2="322.89" y2="179.25" stroke="#444" stroke-width="0.9" />
<line x1="325.01" y1="175.15" x2="325.01" y2="179.25" stroke="#444" stroke-width="0.9" />
<rect x="332.1" y="174.45" width="7.6" height="5.5" rx="1.2" fill="none" stroke="#111" stroke-width="1.4" />
<line x1="334.84" y1="175.15" x2="334.84" y2="179.25" stroke="#444" stroke-width="0.9" />
<line x1="336.96" y1="175.15" x2="336.96" y2="179.25" stroke="#444" stroke-width="0.9" />
<rect x="340.1" y="174.45" width="7.6" height="5.5" rx="1.2" fill="none" stroke="#111" stroke-width="1.4" />
<line x1="342.84" y1="175.15" x2="342.84" y2="179.25" stroke="#444" stroke-width="0.9" />
<line x1="344.96" y1="175.15" x2="344.96" y2="179.25" stroke="#444" stroke-width="0.9" />
<path d="M184,202.22 L184,204.98 Q184,208.2 187.22,208.2 L191.87,208.2 L193.17,206.9 L199.43,206.9 L200.73,208.2 L205.38,208.2 Q208.6,208.2 208.6,204.98 L208.6,202.22 Q208.6,199 205.38,199 L200.73,199 L199.43,200.3 L193.17,200.3 L191.87,199 L187.22,199 Q184,199 184,202.22 Z" fill="none" stroke="#111" stroke-width="1.4" />
<line x1="188.92" y1="199.7" x2="188.92" y2="207.5" stroke="#222" stroke-width="1.1" />
<line x1="203.68" y1="199.7" x2="203.68" y2="207.5" stroke="#222" stroke-width="1.1" />
<line x1="190.62" y1="199.9" x2="190.62" y2="207.3" stroke="#888" stroke-width="0.9" />
<line x1="201.98" y1="199.9" x2="201.98" y2="207.3" stroke="#888" stroke-width="0.9" />
<line x1="193.47" y1="200.3" x2="199.13" y2="200.3" stroke="#fff" stroke-width="1.7" />
<line x1="192.67" y1="200.3" x2="199.93" y2="200.3" stroke="#666" stroke-width="1" />
<line x1="193.47" y1="206.9" x2="199.13" y2="206.9" stroke="#fff" stroke-width="1.7" />
<line x1="192.67" y1="206.9" x2="199.93" y2="206.9" stroke="#666" stroke-width="1" />
<path d="M187.22,199.9 L191.37,199.9 M187.22,207.3 L191.37,207.3 M205.38,199.9 L201.23,199.9 M205.38,207.3 L201.23,207.3" fill="none" stroke="#333" stroke-width="1" />
<rect x="191.25" y="214" width="5.5" height="7.55" rx="1.2" fill="none" stroke="#111" stroke-width="1.4" />
<line x1="191.95" y1="217.78" x2="196.05" y2="217.78" stroke="#333" stroke-width="1" />
<rect x="191.25" y="221.95" width="5.5" height="7.55" rx="1.2" fill="none" stroke="#111" stroke-width="1.4" />
<line x1="191.95" y1="225.72" x2="196.05" y2="225.72" stroke="#333" stroke-width="1" />
<rect x="201.25" y="214" width="5.5" height="7.55" rx="1.2" fill="none" stroke="#111" stroke-width="1.4" />
<line x1="201.95" y1="217.78" x2="206.05" y2="217.78" stroke="#333" stroke-width="1" />
<rect x="201.25" y="221.95" width="5.5" height="7.55" rx="1.2" fill="none" stroke="#111" stroke-width="1.4" />
<line x1="201.95" y1="225.72" x2="206.05" y2="225.72" stroke="#333" stroke-width="1" />
<path d="M216,203 L216,189.3 Q216,187.3 218,187.3 L225.7,187.3 Q227.7,187.3 227.7,189.3 L227.7,203" fill="none" stroke="#222" stroke-width="1.3" />
<path d="M218,203 L218,190 L225.7,190 L225.7,203" fill="none" stroke="#999" stroke-width="0.9" />
<path d="M229,203 L229,189.3 Q229,187.3 231,187.3 L239.5,187.3 Q241.5,187.3 241.5,189.3 L241.5,203" fill="none" stroke="#222" stroke-width="1.3" />
<path d="M231,203 L231,190 L239.5,190 L239.5,203" fill="none" stroke="#999" stroke-width="0.9" />
<path d="M243.1,203 L243.1,189.3 Q243.1,187.3 245.1,187.3 L253.3,187.3 Q255.3,187.3 255.3,189.3 L255.3,203" fill="none" stroke="#222" stroke-width="1.3" />
<path d="M245.1,203 L245.1,190 L253.3,190 L253.3,203" fill="none" stroke="#999" stroke-width="0.9" />
<path d="M216.4,225 L216.4,237.7 Q216.4,239.7 218.4,239.7 L225.7,239.7 Q227.7,239.7 227.7,237.7 L227.7,225" fill="none" stroke="#222" stroke-width="1.3" />
<path d="M218.4,225 L218.4,237 L225.7,237 L225.7,225" fill="none" stroke="#999" stroke-width="0.9" />
<path d="M243.1,225 L243.1,237.7 Q243.1,239.7 245.1,239.7 L253.3,239.7 Q255.3,239.7 255.3,237.7 L255.3,225" fill="none" stroke="#222" stroke-width="1.3" />
<path d="M245.1,225 L245.1,237 L253.3,237 L253.3,225" fill="none" stroke="#999" stroke-width="0.9" />
<rect x="214.4" y="202.7" width="42.2" height="22.8" rx="0" fill="#fff" stroke="#222" stroke-width="1.1" />
<circle cx="259.4" cy="189" r="3" fill="none" stroke="#333" stroke-width="0.9" />
<rect x="263.95" y="186" width="5.5" height="6.3" rx="1.2" fill="none" stroke="#111" stroke-width="1.4" />
<line x1="264.65" y1="189.15" x2="268.75" y2="189.15" stroke="#333" stroke-width="1" />
<rect x="263.95" y="192.7" width="5.5" height="6.3" rx="1.2" fill="none" stroke="#111" stroke-width="1.4" />
<line x1="264.65" y1="195.85" x2="268.75" y2="195.85" stroke="#333" stroke-width="1" />
<rect x="263.95" y="205.5" width="5.5" height="7.05" rx="1.2" fill="none" stroke="#111" stroke-width="1.4" />
<line x1="264.65" y1="209.03" x2="268.75" y2="209.03" stroke="#333" stroke-width="1" />
<rect x="263.95" y="212.95" width="5.5" height="7.05" rx="1.2" fill="none" stroke="#111" stroke-width="1.4" />
<line x1="264.65" y1="216.47" x2="268.75" y2="216.47" stroke="#333" stroke-width="1" />
<rect x="263.95" y="225" width="5.5" height="7.3" rx="1.2" fill="none" stroke="#111" stroke-width="1.4" />
<line x1="264.65" y1="228.65" x2="268.75" y2="228.65" stroke="#333" stroke-width="1" />
<rect x="263.95" y="232.7" width="5.5" height="7.3" rx="1.2" fill="none" stroke="#111" stroke-width="1.4" />
<line x1="264.65" y1="236.35" x2="268.75" y2="236.35" stroke="#333" stroke-width="1" />
<path d="M36,213.5 L36,220.5 Q36,225 40.5,225 L53.1,225 L53.8,224.3 L56.2,224.3 L56.9,225 L69.5,225 Q74,225 74,220.5 L74,213.5 Q74,209 69.5,209 L56.9,209 L56.2,209.7 L53.8,209.7 L53.1,209 L40.5,209 Q36,209 36,213.5 Z" fill="none" stroke="#111" stroke-width="1.5" />
<line x1="45" y1="209.7" x2="45" y2="224.3" stroke="#222" stroke-width="1.1" />
<line x1="65" y1="209.7" x2="65" y2="224.3" stroke="#222" stroke-width="1.1" />
<line x1="46.7" y1="209.9" x2="46.7" y2="224.1" stroke="#888" stroke-width="0.9" />
<line x1="63.3" y1="209.9" x2="63.3" y2="224.1" stroke="#888" stroke-width="0.9" />
<path d="M40.5,209.9 L52.6,209.9 M40.5,224.1 L52.6,224.1 M69.5,209.9 L57.4,209.9 M69.5,224.1 L57.4,224.1" fill="none" stroke="#333" stroke-width="1" />
<rect x="45.1" y="228" width="5.4" height="12.6" rx="1.3" fill="#fff" stroke="#222" stroke-width="1.4" />
<rect x="46.3" y="229.5" width="3" height="9.1" rx="0.6" fill="#fff" stroke="#666" stroke-width="0.9" />
<rect x="45.1" y="251" width="5.4" height="12" rx="1.3" fill="#fff" stroke="#222" stroke-width="1.4" />
<rect x="46.3" y="253" width="3" height="8.5" rx="0.6" fill="#fff" stroke="#666" stroke-width="0.9" />
<rect x="52.1" y="228" width="5.4" height="12.6" rx="1.3" fill="#fff" stroke="#222" stroke-width="1.4" />
<rect x="53.3" y="229.5" width="3" height="9.1" rx="0.6" fill="#fff" stroke="#666" stroke-width="0.9" />
<rect x="52.1" y="251" width="5.4" height="12" rx="1.3" fill="#fff" stroke="#222" stroke-width="1.4" />
<rect x="53.3" y="253" width="3" height="8.5" rx="0.6" fill="#fff" stroke="#666" stroke-width="0.9" />
<rect x="59.1" y="228" width="5.4" height="12.6" rx="1.3" fill="#fff" stroke="#222" stroke-width="1.4" />
<rect x="60.3" y="229.5" width="3" height="9.1" rx="0.6" fill="#fff" stroke="#666" stroke-width="0.9" />
<rect x="59.1" y="251" width="5.4" height="12" rx="1.3" fill="#fff" stroke="#222" stroke-width="1.4" />
<rect x="60.3" y="253" width="3" height="8.5" rx="0.6" fill="#fff" stroke="#666" stroke-width="0.9" />
<rect x="43" y="237.6" width="23.6" height="16.4" rx="0" fill="#fff" stroke="#222" stroke-width="1.1" />
<circle cx="68" cy="231.5" r="2" fill="none" stroke="#333" stroke-width="0.8" />
<path d="M79,208.5 L79,211.5 Q79,215 82.5,215 L87.19,215 L88.49,213.7 L95.11,213.7 L96.41,215 L101.1,215 Q104.6,215 104.6,211.5 L104.6,208.5 Q104.6,205 101.1,205 L96.41,205 L95.11,206.3 L88.49,206.3 L87.19,205 L82.5,205 Q79,205 79,208.5 Z" fill="none" stroke="#111" stroke-width="1.4" />
<line x1="84.12" y1="205.7" x2="84.12" y2="214.3" stroke="#222" stroke-width="1.1" />
<line x1="99.48" y1="205.7" x2="99.48" y2="214.3" stroke="#222" stroke-width="1.1" />
<line x1="85.82" y1="205.9" x2="85.82" y2="214.1" stroke="#888" stroke-width="0.9" />
<line x1="97.78" y1="205.9" x2="97.78" y2="214.1" stroke="#888" stroke-width="0.9" />
<line x1="88.79" y1="206.3" x2="94.81" y2="206.3" stroke="#fff" stroke-width="1.7" />
<line x1="87.99" y1="206.3" x2="95.61" y2="206.3" stroke="#666" stroke-width="1" />
<line x1="88.79" y1="213.7" x2="94.81" y2="213.7" stroke="#fff" stroke-width="1.7" />
<line x1="87.99" y1="213.7" x2="95.61" y2="213.7" stroke="#666" stroke-width="1" />
<path d="M82.5,205.9 L86.69,205.9 M82.5,214.1 L86.69,214.1 M101.1,205.9 L96.91,205.9 M101.1,214.1 L96.91,214.1" fill="none" stroke="#333" stroke-width="1" />
<path d="M84.5,224 L92.5,224 Q97,224 97,228.5 L97,240.65 L96.3,241.35 L96.3,243.65 L97,244.35 L97,256.5 Q97,261 92.5,261 L84.5,261 Q80,261 80,256.5 L80,244.35 L80.7,243.65 L80.7,241.35 L80,240.65 L80,228.5 Q80,224 84.5,224 Z" fill="none" stroke="#111" stroke-width="1.5" />
<line x1="80.7" y1="230.29" x2="96.3" y2="230.29" stroke="#222" stroke-width="1.1" />
<line x1="80.7" y1="254.71" x2="96.3" y2="254.71" stroke="#222" stroke-width="1.1" />
<line x1="80.9" y1="231.99" x2="96.1" y2="231.99" stroke="#888" stroke-width="0.9" />
<line x1="80.9" y1="253.01" x2="96.1" y2="253.01" stroke="#888" stroke-width="0.9" />
<path d="M80.9,228.5 L80.9,240.15 M96.1,228.5 L96.1,240.15 M80.9,256.5 L80.9,244.85 M96.1,256.5 L96.1,244.85" fill="none" stroke="#333" stroke-width="1" />
<rect x="99.5" y="253" width="5" height="15" rx="1.8" fill="none" stroke="#111" stroke-width="1.5" />
<line x1="100.1" y1="255.2" x2="103.9" y2="255.2" stroke="#333" stroke-width="1.1" />
<line x1="100.1" y1="265.8" x2="103.9" y2="265.8" stroke="#333" stroke-width="1.1" />
<line x1="100.2" y1="257.5" x2="100.2" y2="263.5" stroke="#444" stroke-width="1" />
<line x1="103.8" y1="257.5" x2="103.8" y2="263.5" stroke="#444" stroke-width="1" />
<rect x="101.1" y="258.6" width="1.8" height="3.8" rx="0.5" fill="none" stroke="#222" stroke-width="0.9" />
<rect x="35.8" y="267" width="41.2" height="30.6" rx="4" fill="none" stroke="#1a1a1a" stroke-width="1.6" />
<line x1="45.28" y1="267.8" x2="45.28" y2="296.8" stroke="#333" stroke-width="1" />
<line x1="46.78" y1="267.8" x2="46.78" y2="296.8" stroke="#aaa" stroke-width="0.8" />
<line x1="67.52" y1="267.8" x2="67.52" y2="296.8" stroke="#333" stroke-width="1" />
<line x1="66.02" y1="267.8" x2="66.02" y2="296.8" stroke="#aaa" stroke-width="0.8" />
<path d="M85.5,274 L88.5,274 Q92,274 92,277.5 L92,281.36 L90.7,282.66 L90.7,288.34 L92,289.64 L92,293.5 Q92,297 88.5,297 L85.5,297 Q82,297 82,293.5 L82,289.64 L83.3,288.34 L83.3,282.66 L82,281.36 L82,277.5 Q82,274 85.5,274 Z" fill="none" stroke="#111" stroke-width="1.4" />
<line x1="82.7" y1="278.6" x2="91.3" y2="278.6" stroke="#222" stroke-width="1.1" />
<line x1="82.7" y1="292.4" x2="91.3" y2="292.4" stroke="#222" stroke-width="1.1" />
<line x1="82.9" y1="280.3" x2="91.1" y2="280.3" stroke="#888" stroke-width="0.9" />
<line x1="82.9" y1="290.7" x2="91.1" y2="290.7" stroke="#888" stroke-width="0.9" />
<line x1="83.3" y1="282.96" x2="83.3" y2="288.04" stroke="#fff" stroke-width="1.7" />
<line x1="83.3" y1="282.16" x2="83.3" y2="288.84" stroke="#666" stroke-width="1" />
<line x1="90.7" y1="282.96" x2="90.7" y2="288.04" stroke="#fff" stroke-width="1.7" />
<line x1="90.7" y1="282.16" x2="90.7" y2="288.84" stroke="#666" stroke-width="1" />
<path d="M82.9,277.5 L82.9,280.86 M91.1,277.5 L91.1,280.86 M82.9,293.5 L82.9,290.14 M91.1,293.5 L91.1,290.14" fill="none" stroke="#333" stroke-width="1" />
<path d="M97.9,274 L100.9,274 Q104.4,274 104.4,277.5 L104.4,281.36 L103.1,282.66 L103.1,288.34 L104.4,289.64 L104.4,293.5 Q104.4,297 100.9,297 L97.9,297 Q94.4,297 94.4,293.5 L94.4,289.64 L95.7,288.34 L95.7,282.66 L94.4,281.36 L94.4,277.5 Q94.4,274 97.9,274 Z" fill="none" stroke="#111" stroke-width="1.4" />
<line x1="95.1" y1="278.6" x2="103.7" y2="278.6" stroke="#222" stroke-width="1.1" />
<line x1="95.1" y1="292.4" x2="103.7" y2="292.4" stroke="#222" stroke-width="1.1" />
<line x1="95.3" y1="280.3" x2="103.5" y2="280.3" stroke="#888" stroke-width="0.9" />
<line x1="95.3" y1="290.7" x2="103.5" y2="290.7" stroke="#888" stroke-width="0.9" />
<line x1="95.7" y1="282.96" x2="95.7" y2="288.04" stroke="#fff" stroke-width="1.7" />
<line x1="95.7" y1="282.16" x2="95.7" y2="288.84" stroke="#666" stroke-width="1" />
<line x1="103.1" y1="282.96" x2="103.1" y2="288.04" stroke="#fff" stroke-width="1.7" />
<line x1="103.1" y1="282.16" x2="103.1" y2="288.84" stroke="#666" stroke-width="1" />
<path d="M95.3,277.5 L95.3,280.86 M103.5,277.5 L103.5,280.86 M95.3,293.5 L95.3,290.14 M103.5,293.5 L103.5,290.14" fill="none" stroke="#333" stroke-width="1" />
<rect x="107.8" y="283" width="5.6" height="15.4" rx="1.8" fill="none" stroke="#111" stroke-width="1.5" />
<line x1="108.4" y1="285.2" x2="112.8" y2="285.2" stroke="#333" stroke-width="1.1" />
<line x1="108.4" y1="296.2" x2="112.8" y2="296.2" stroke="#333" stroke-width="1.1" />
<line x1="108.5" y1="287.62" x2="108.5" y2="293.78" stroke="#444" stroke-width="1" />
<line x1="112.7" y1="287.62" x2="112.7" y2="293.78" stroke="#444" stroke-width="1" />
<rect x="109.7" y="288.8" width="1.8" height="3.8" rx="0.5" fill="none" stroke="#222" stroke-width="0.9" />
<rect x="118.2" y="283" width="5.6" height="15.4" rx="1.8" fill="none" stroke="#111" stroke-width="1.5" />
<line x1="118.8" y1="285.2" x2="123.2" y2="285.2" stroke="#333" stroke-width="1.1" />
<line x1="118.8" y1="296.2" x2="123.2" y2="296.2" stroke="#333" stroke-width="1.1" />
<line x1="118.9" y1="287.62" x2="118.9" y2="293.78" stroke="#444" stroke-width="1" />
<line x1="123.1" y1="287.62" x2="123.1" y2="293.78" stroke="#444" stroke-width="1" />
<rect x="120.1" y="288.8" width="1.8" height="3.8" rx="0.5" fill="none" stroke="#222" stroke-width="0.9" />
<rect x="128.7" y="283" width="5.6" height="15.4" rx="1.8" fill="none" stroke="#111" stroke-width="1.5" />
<line x1="129.3" y1="285.2" x2="133.7" y2="285.2" stroke="#333" stroke-width="1.1" />
<line x1="129.3" y1="296.2" x2="133.7" y2="296.2" stroke="#333" stroke-width="1.1" />
<line x1="129.4" y1="287.62" x2="129.4" y2="293.78" stroke="#444" stroke-width="1" />
<line x1="133.6" y1="287.62" x2="133.6" y2="293.78" stroke="#444" stroke-width="1" />
<rect x="130.6" y="288.8" width="1.8" height="3.8" rx="0.5" fill="none" stroke="#222" stroke-width="0.9" />
<rect x="138.7" y="283" width="5.6" height="15.4" rx="1.8" fill="none" stroke="#111" stroke-width="1.5" />
<line x1="139.3" y1="285.2" x2="143.7" y2="285.2" stroke="#333" stroke-width="1.1" />
<line x1="139.3" y1="296.2" x2="143.7" y2="296.2" stroke="#333" stroke-width="1.1" />
<line x1="139.4" y1="287.62" x2="139.4" y2="293.78" stroke="#444" stroke-width="1" />
<line x1="143.6" y1="287.62" x2="143.6" y2="293.78" stroke="#444" stroke-width="1" />
<rect x="140.6" y="288.8" width="1.8" height="3.8" rx="0.5" fill="none" stroke="#222" stroke-width="0.9" />
<rect x="149.2" y="283" width="5.6" height="15.4" rx="1.8" fill="none" stroke="#111" stroke-width="1.5" />
<line x1="149.8" y1="285.2" x2="154.2" y2="285.2" stroke="#333" stroke-width="1.1" />
<line x1="149.8" y1="296.2" x2="154.2" y2="296.2" stroke="#333" stroke-width="1.1" />
<line x1="149.9" y1="287.62" x2="149.9" y2="293.78" stroke="#444" stroke-width="1" />
<line x1="154.1" y1="287.62" x2="154.1" y2="293.78" stroke="#444" stroke-width="1" />
<rect x="151.1" y="288.8" width="1.8" height="3.8" rx="0.5" fill="none" stroke="#222" stroke-width="0.9" />
<rect x="159.6" y="283" width="5.6" height="15.4" rx="1.8" fill="none" stroke="#111" stroke-width="1.5" />
<line x1="160.2" y1="285.2" x2="164.6" y2="285.2" stroke="#333" stroke-width="1.1" />
<line x1="160.2" y1="296.2" x2="164.6" y2="296.2" stroke="#333" stroke-width="1.1" />
<line x1="160.3" y1="287.62" x2="160.3" y2="293.78" stroke="#444" stroke-width="1" />
<line x1="164.5" y1="287.62" x2="164.5" y2="293.78" stroke="#444" stroke-width="1" />
<rect x="161.5" y="288.8" width="1.8" height="3.8" rx="0.5" fill="none" stroke="#222" stroke-width="0.9" />
<rect x="170.2" y="283" width="5.6" height="15.4" rx="1.8" fill="none" stroke="#111" stroke-width="1.5" />
<line x1="170.8" y1="285.2" x2="175.2" y2="285.2" stroke="#333" stroke-width="1.1" />
<line x1="170.8" y1="296.2" x2="175.2" y2="296.2" stroke="#333" stroke-width="1.1" />
<line x1="170.9" y1="287.62" x2="170.9" y2="293.78" stroke="#444" stroke-width="1" />
<line x1="175.1" y1="287.62" x2="175.1" y2="293.78" stroke="#444" stroke-width="1" />
<rect x="172.1" y="288.8" width="1.8" height="3.8" rx="0.5" fill="none" stroke="#222" stroke-width="0.9" />
<path d="M84,304.15 L84,306.85 Q84,310 87.15,310 L91.49,310 L92.79,308.7 L98.61,308.7 L99.91,310 L104.25,310 Q107.4,310 107.4,306.85 L107.4,304.15 Q107.4,301 104.25,301 L99.91,301 L98.61,302.3 L92.79,302.3 L91.49,301 L87.15,301 Q84,301 84,304.15 Z" fill="none" stroke="#111" stroke-width="1.4" />
<line x1="88.68" y1="301.7" x2="88.68" y2="309.3" stroke="#222" stroke-width="1.1" />
<line x1="102.72" y1="301.7" x2="102.72" y2="309.3" stroke="#222" stroke-width="1.1" />
<line x1="90.38" y1="301.9" x2="90.38" y2="309.1" stroke="#888" stroke-width="0.9" />
<line x1="101.02" y1="301.9" x2="101.02" y2="309.1" stroke="#888" stroke-width="0.9" />
<line x1="93.09" y1="302.3" x2="98.31" y2="302.3" stroke="#fff" stroke-width="1.7" />
<line x1="92.29" y1="302.3" x2="99.11" y2="302.3" stroke="#666" stroke-width="1" />
<line x1="93.09" y1="308.7" x2="98.31" y2="308.7" stroke="#fff" stroke-width="1.7" />
<line x1="92.29" y1="308.7" x2="99.11" y2="308.7" stroke="#666" stroke-width="1" />
<path d="M87.15,301.9 L90.99,301.9 M87.15,309.1 L90.99,309.1 M104.25,301.9 L100.41,301.9 M104.25,309.1 L100.41,309.1" fill="none" stroke="#333" stroke-width="1" />
<rect x="112" y="303" width="7.8" height="5" rx="1.2" fill="none" stroke="#111" stroke-width="1.4" />
<line x1="114.81" y1="303.7" x2="114.81" y2="307.3" stroke="#444" stroke-width="0.9" />
<line x1="116.99" y1="303.7" x2="116.99" y2="307.3" stroke="#444" stroke-width="0.9" />
<rect x="120.2" y="303" width="7.8" height="5" rx="1.2" fill="none" stroke="#111" stroke-width="1.4" />
<line x1="123.01" y1="303.7" x2="123.01" y2="307.3" stroke="#444" stroke-width="0.9" />
<line x1="125.19" y1="303.7" x2="125.19" y2="307.3" stroke="#444" stroke-width="0.9" />
<rect x="112" y="311.5" width="7.8" height="5" rx="1.2" fill="none" stroke="#111" stroke-width="1.4" />
<line x1="114.81" y1="312.2" x2="114.81" y2="315.8" stroke="#444" stroke-width="0.9" />
<line x1="116.99" y1="312.2" x2="116.99" y2="315.8" stroke="#444" stroke-width="0.9" />
<rect x="120.2" y="311.5" width="7.8" height="5" rx="1.2" fill="none" stroke="#111" stroke-width="1.4" />
<line x1="123.01" y1="312.2" x2="123.01" y2="315.8" stroke="#444" stroke-width="0.9" />
<line x1="125.19" y1="312.2" x2="125.19" y2="315.8" stroke="#444" stroke-width="0.9" />
<rect x="131.5" y="302" width="5" height="15" rx="1.8" fill="none" stroke="#111" stroke-width="1.5" />
<line x1="132.1" y1="304.2" x2="135.9" y2="304.2" stroke="#333" stroke-width="1.1" />
<line x1="132.1" y1="314.8" x2="135.9" y2="314.8" stroke="#333" stroke-width="1.1" />
<line x1="132.2" y1="306.5" x2="132.2" y2="312.5" stroke="#444" stroke-width="1" />
<line x1="135.8" y1="306.5" x2="135.8" y2="312.5" stroke="#444" stroke-width="1" />
<rect x="133.1" y="307.6" width="1.8" height="3.8" rx="0.5" fill="none" stroke="#222" stroke-width="0.9" />
<path d="M141.9,306 L144.9,306 Q148.4,306 148.4,309.5 L148.4,313.36 L147.1,314.66 L147.1,320.34 L148.4,321.64 L148.4,325.5 Q148.4,329 144.9,329 L141.9,329 Q138.4,329 138.4,325.5 L138.4,321.64 L139.7,320.34 L139.7,314.66 L138.4,313.36 L138.4,309.5 Q138.4,306 141.9,306 Z" fill="none" stroke="#111" stroke-width="1.4" />
<line x1="139.1" y1="310.6" x2="147.7" y2="310.6" stroke="#222" stroke-width="1.1" />
<line x1="139.1" y1="324.4" x2="147.7" y2="324.4" stroke="#222" stroke-width="1.1" />
<line x1="139.3" y1="312.3" x2="147.5" y2="312.3" stroke="#888" stroke-width="0.9" />
<line x1="139.3" y1="322.7" x2="147.5" y2="322.7" stroke="#888" stroke-width="0.9" />
<line x1="139.7" y1="314.96" x2="139.7" y2="320.04" stroke="#fff" stroke-width="1.7" />
<line x1="139.7" y1="314.16" x2="139.7" y2="320.84" stroke="#666" stroke-width="1" />
<line x1="147.1" y1="314.96" x2="147.1" y2="320.04" stroke="#fff" stroke-width="1.7" />
<line x1="147.1" y1="314.16" x2="147.1" y2="320.84" stroke="#666" stroke-width="1" />
<path d="M139.3,309.5 L139.3,312.86 M147.5,309.5 L147.5,312.86 M139.3,325.5 L139.3,322.14 M147.5,325.5 L147.5,322.14" fill="none" stroke="#333" stroke-width="1" />
<path d="M101.5,314 L104.5,314 Q108,314 108,317.5 L108,321.36 L106.7,322.66 L106.7,328.34 L108,329.64 L108,333.5 Q108,337 104.5,337 L101.5,337 Q98,337 98,333.5 L98,329.64 L99.3,328.34 L99.3,322.66 L98,321.36 L98,317.5 Q98,314 101.5,314 Z" fill="none" stroke="#111" stroke-width="1.4" />
<line x1="98.7" y1="318.6" x2="107.3" y2="318.6" stroke="#222" stroke-width="1.1" />
<line x1="98.7" y1="332.4" x2="107.3" y2="332.4" stroke="#222" stroke-width="1.1" />
<line x1="98.9" y1="320.3" x2="107.1" y2="320.3" stroke="#888" stroke-width="0.9" />
<line x1="98.9" y1="330.7" x2="107.1" y2="330.7" stroke="#888" stroke-width="0.9" />
<line x1="99.3" y1="322.96" x2="99.3" y2="328.04" stroke="#fff" stroke-width="1.7" />
<line x1="99.3" y1="322.16" x2="99.3" y2="328.84" stroke="#666" stroke-width="1" />
<line x1="106.7" y1="322.96" x2="106.7" y2="328.04" stroke="#fff" stroke-width="1.7" />
<line x1="106.7" y1="322.16" x2="106.7" y2="328.84" stroke="#666" stroke-width="1" />
<path d="M98.9,317.5 L98.9,320.86 M107.1,317.5 L107.1,320.86 M98.9,333.5 L98.9,330.14 M107.1,333.5 L107.1,330.14" fill="none" stroke="#333" stroke-width="1" />
<path d="M112,323.5 L112,326.5 Q112,330 115.5,330 L119.68,330 L120.98,328.7 L127.02,328.7 L128.32,330 L132.5,330 Q136,330 136,326.5 L136,323.5 Q136,320 132.5,320 L128.32,320 L127.02,321.3 L120.98,321.3 L119.68,320 L115.5,320 Q112,320 112,323.5 Z" fill="none" stroke="#111" stroke-width="1.4" />
<line x1="116.8" y1="320.7" x2="116.8" y2="329.3" stroke="#222" stroke-width="1.1" />
<line x1="131.2" y1="320.7" x2="131.2" y2="329.3" stroke="#222" stroke-width="1.1" />
<line x1="118.5" y1="320.9" x2="118.5" y2="329.1" stroke="#888" stroke-width="0.9" />
<line x1="129.5" y1="320.9" x2="129.5" y2="329.1" stroke="#888" stroke-width="0.9" />
<line x1="121.28" y1="321.3" x2="126.72" y2="321.3" stroke="#fff" stroke-width="1.7" />
<line x1="120.48" y1="321.3" x2="127.52" y2="321.3" stroke="#666" stroke-width="1" />
<line x1="121.28" y1="328.7" x2="126.72" y2="328.7" stroke="#fff" stroke-width="1.7" />
<line x1="120.48" y1="328.7" x2="127.52" y2="328.7" stroke="#666" stroke-width="1" />
<path d="M115.5,320.9 L119.18,320.9 M115.5,329.1 L119.18,329.1 M132.5,320.9 L128.82,320.9 M132.5,329.1 L128.82,329.1" fill="none" stroke="#333" stroke-width="1" />
<rect x="112.4" y="336.6" width="12.6" height="6.8" rx="2.5" fill="#fff" stroke="#333" stroke-width="1.6" />
<rect x="112.4" y="355.6" width="12.6" height="6.8" rx="2.5" fill="#fff" stroke="#333" stroke-width="1.6" />
<rect x="138" y="337.4" width="11.6" height="5.2" rx="2" fill="#fff" stroke="#333" stroke-width="1.6" />
<rect x="138" y="343.7" width="11.6" height="5.2" rx="2" fill="#fff" stroke="#333" stroke-width="1.6" />
<rect x="138" y="350" width="11.6" height="5.2" rx="2" fill="#fff" stroke="#333" stroke-width="1.6" />
<rect x="138" y="356.4" width="11.6" height="5.2" rx="2" fill="#fff" stroke="#333" stroke-width="1.6" />
<rect x="123" y="335" width="17" height="29" rx="1.5" fill="#fff" stroke="#333" stroke-width="1.4" />
<circle cx="145" cy="368" r="2.5" fill="none" stroke="#333" stroke-width="0.8" />
<path d="M195.5,236 L201.9,236 Q206.4,236 206.4,240.5 L206.4,252.65 L205.7,253.35 L205.7,255.65 L206.4,256.35 L206.4,268.5 Q206.4,273 201.9,273 L195.5,273 Q191,273 191,268.5 L191,256.35 L191.7,255.65 L191.7,253.35 L191,252.65 L191,240.5 Q191,236 195.5,236 Z" fill="none" stroke="#111" stroke-width="1.5" />
<line x1="191.7" y1="242.29" x2="205.7" y2="242.29" stroke="#222" stroke-width="1.1" />
<line x1="191.7" y1="266.71" x2="205.7" y2="266.71" stroke="#222" stroke-width="1.1" />
<line x1="191.9" y1="243.99" x2="205.5" y2="243.99" stroke="#888" stroke-width="0.9" />
<line x1="191.9" y1="265.01" x2="205.5" y2="265.01" stroke="#888" stroke-width="0.9" />
<path d="M191.9,240.5 L191.9,252.15 M205.5,240.5 L205.5,252.15 M191.9,268.5 L191.9,256.85 M205.5,268.5 L205.5,256.85" fill="none" stroke="#333" stroke-width="1" />
<rect x="213" y="244.5" width="7.3" height="5" rx="1.2" fill="none" stroke="#111" stroke-width="1.4" />
<line x1="215.63" y1="245.2" x2="215.63" y2="248.8" stroke="#444" stroke-width="0.9" />
<line x1="217.67" y1="245.2" x2="217.67" y2="248.8" stroke="#444" stroke-width="0.9" />
<rect x="220.7" y="244.5" width="7.3" height="5" rx="1.2" fill="none" stroke="#111" stroke-width="1.4" />
<line x1="223.33" y1="245.2" x2="223.33" y2="248.8" stroke="#444" stroke-width="0.9" />
<line x1="225.37" y1="245.2" x2="225.37" y2="248.8" stroke="#444" stroke-width="0.9" />
<rect x="233.6" y="244.5" width="7.5" height="5" rx="1.2" fill="none" stroke="#111" stroke-width="1.4" />
<line x1="236.3" y1="245.2" x2="236.3" y2="248.8" stroke="#444" stroke-width="0.9" />
<line x1="238.4" y1="245.2" x2="238.4" y2="248.8" stroke="#444" stroke-width="0.9" />
<rect x="241.5" y="244.5" width="7.5" height="5" rx="1.2" fill="none" stroke="#111" stroke-width="1.4" />
<line x1="244.2" y1="245.2" x2="244.2" y2="248.8" stroke="#444" stroke-width="0.9" />
<line x1="246.3" y1="245.2" x2="246.3" y2="248.8" stroke="#444" stroke-width="0.9" />
<rect x="254.4" y="244.5" width="7.4" height="5" rx="1.2" fill="none" stroke="#111" stroke-width="1.4" />
<line x1="257.06" y1="245.2" x2="257.06" y2="248.8" stroke="#444" stroke-width="0.9" />
<line x1="259.14" y1="245.2" x2="259.14" y2="248.8" stroke="#444" stroke-width="0.9" />
<rect x="262.2" y="244.5" width="7.4" height="5" rx="1.2" fill="none" stroke="#111" stroke-width="1.4" />
<line x1="264.86" y1="245.2" x2="264.86" y2="248.8" stroke="#444" stroke-width="0.9" />
<line x1="266.94" y1="245.2" x2="266.94" y2="248.8" stroke="#444" stroke-width="0.9" />
<path d="M211.6,258.5 L211.6,261.5 Q211.6,265 215.1,265 L219.41,265 L220.71,263.7 L226.89,263.7 L228.19,265 L232.5,265 Q236,265 236,261.5 L236,258.5 Q236,255 232.5,255 L228.19,255 L226.89,256.3 L220.71,256.3 L219.41,255 L215.1,255 Q211.6,255 211.6,258.5 Z" fill="none" stroke="#111" stroke-width="1.4" />
<line x1="216.48" y1="255.7" x2="216.48" y2="264.3" stroke="#222" stroke-width="1.1" />
<line x1="231.12" y1="255.7" x2="231.12" y2="264.3" stroke="#222" stroke-width="1.1" />
<line x1="218.18" y1="255.9" x2="218.18" y2="264.1" stroke="#888" stroke-width="0.9" />
<line x1="229.42" y1="255.9" x2="229.42" y2="264.1" stroke="#888" stroke-width="0.9" />
<line x1="221.01" y1="256.3" x2="226.59" y2="256.3" stroke="#fff" stroke-width="1.7" />
<line x1="220.21" y1="256.3" x2="227.39" y2="256.3" stroke="#666" stroke-width="1" />
<line x1="221.01" y1="263.7" x2="226.59" y2="263.7" stroke="#fff" stroke-width="1.7" />
<line x1="220.21" y1="263.7" x2="227.39" y2="263.7" stroke="#666" stroke-width="1" />
<path d="M215.1,255.9 L218.91,255.9 M215.1,264.1 L218.91,264.1 M232.5,255.9 L228.69,255.9 M232.5,264.1 L228.69,264.1" fill="none" stroke="#333" stroke-width="1" />
<path d="M245.6,258.5 L245.6,261.5 Q245.6,265 249.1,265 L253.41,265 L254.71,263.7 L260.89,263.7 L262.19,265 L266.5,265 Q270,265 270,261.5 L270,258.5 Q270,255 266.5,255 L262.19,255 L260.89,256.3 L254.71,256.3 L253.41,255 L249.1,255 Q245.6,255 245.6,258.5 Z" fill="none" stroke="#111" stroke-width="1.4" />
<line x1="250.48" y1="255.7" x2="250.48" y2="264.3" stroke="#222" stroke-width="1.1" />
<line x1="265.12" y1="255.7" x2="265.12" y2="264.3" stroke="#222" stroke-width="1.1" />
<line x1="252.18" y1="255.9" x2="252.18" y2="264.1" stroke="#888" stroke-width="0.9" />
<line x1="263.42" y1="255.9" x2="263.42" y2="264.1" stroke="#888" stroke-width="0.9" />
<line x1="255.01" y1="256.3" x2="260.59" y2="256.3" stroke="#fff" stroke-width="1.7" />
<line x1="254.21" y1="256.3" x2="261.39" y2="256.3" stroke="#666" stroke-width="1" />
<line x1="255.01" y1="263.7" x2="260.59" y2="263.7" stroke="#fff" stroke-width="1.7" />
<line x1="254.21" y1="263.7" x2="261.39" y2="263.7" stroke="#666" stroke-width="1" />
<path d="M249.1,255.9 L252.91,255.9 M249.1,264.1 L252.91,264.1 M266.5,255.9 L262.69,255.9 M266.5,264.1 L262.69,264.1" fill="none" stroke="#333" stroke-width="1" />
<path d="M215.32,272.6 L218.18,272.6 Q221.5,272.6 221.5,275.93 L221.5,280.41 L220.2,281.71 L220.2,287.89 L221.5,289.19 L221.5,293.68 Q221.5,297 218.18,297 L215.32,297 Q212,297 212,293.68 L212,289.19 L213.3,287.89 L213.3,281.71 L212,280.41 L212,275.93 Q212,272.6 215.32,272.6 Z" fill="none" stroke="#111" stroke-width="1.4" />
<line x1="212.7" y1="277.48" x2="220.8" y2="277.48" stroke="#222" stroke-width="1.1" />
<line x1="212.7" y1="292.12" x2="220.8" y2="292.12" stroke="#222" stroke-width="1.1" />
<line x1="212.9" y1="279.18" x2="220.6" y2="279.18" stroke="#888" stroke-width="0.9" />
<line x1="212.9" y1="290.42" x2="220.6" y2="290.42" stroke="#888" stroke-width="0.9" />
<line x1="213.3" y1="282.01" x2="213.3" y2="287.59" stroke="#fff" stroke-width="1.7" />
<line x1="213.3" y1="281.21" x2="213.3" y2="288.39" stroke="#666" stroke-width="1" />
<line x1="220.2" y1="282.01" x2="220.2" y2="287.59" stroke="#fff" stroke-width="1.7" />
<line x1="220.2" y1="281.21" x2="220.2" y2="288.39" stroke="#666" stroke-width="1" />
<path d="M212.9,275.93 L212.9,279.91 M220.6,275.93 L220.6,279.91 M212.9,293.68 L212.9,289.69 M220.6,293.68 L220.6,289.69" fill="none" stroke="#333" stroke-width="1" />
<path d="M228.89,272.6 L231.71,272.6 Q235,272.6 235,275.89 L235,280.41 L233.7,281.71 L233.7,287.89 L235,289.19 L235,293.71 Q235,297 231.71,297 L228.89,297 Q225.6,297 225.6,293.71 L225.6,289.19 L226.9,287.89 L226.9,281.71 L225.6,280.41 L225.6,275.89 Q225.6,272.6 228.89,272.6 Z" fill="none" stroke="#111" stroke-width="1.4" />
<line x1="226.3" y1="277.48" x2="234.3" y2="277.48" stroke="#222" stroke-width="1.1" />
<line x1="226.3" y1="292.12" x2="234.3" y2="292.12" stroke="#222" stroke-width="1.1" />
<line x1="226.5" y1="279.18" x2="234.1" y2="279.18" stroke="#888" stroke-width="0.9" />
<line x1="226.5" y1="290.42" x2="234.1" y2="290.42" stroke="#888" stroke-width="0.9" />
<line x1="226.9" y1="282.01" x2="226.9" y2="287.59" stroke="#fff" stroke-width="1.7" />
<line x1="226.9" y1="281.21" x2="226.9" y2="288.39" stroke="#666" stroke-width="1" />
<line x1="233.7" y1="282.01" x2="233.7" y2="287.59" stroke="#fff" stroke-width="1.7" />
<line x1="233.7" y1="281.21" x2="233.7" y2="288.39" stroke="#666" stroke-width="1" />
<path d="M226.5,275.89 L226.5,279.91 M234.1,275.89 L234.1,279.91 M226.5,293.71 L226.5,289.69 M234.1,293.71 L234.1,289.69" fill="none" stroke="#333" stroke-width="1" />
<path d="M243.5,272.6 L246.5,272.6 Q250,272.6 250,276.1 L250,280.41 L248.7,281.71 L248.7,287.89 L250,289.19 L250,293.5 Q250,297 246.5,297 L243.5,297 Q240,297 240,293.5 L240,289.19 L241.3,287.89 L241.3,281.71 L240,280.41 L240,276.1 Q240,272.6 243.5,272.6 Z" fill="none" stroke="#111" stroke-width="1.4" />
<line x1="240.7" y1="277.48" x2="249.3" y2="277.48" stroke="#222" stroke-width="1.1" />
<line x1="240.7" y1="292.12" x2="249.3" y2="292.12" stroke="#222" stroke-width="1.1" />
<line x1="240.9" y1="279.18" x2="249.1" y2="279.18" stroke="#888" stroke-width="0.9" />
<line x1="240.9" y1="290.42" x2="249.1" y2="290.42" stroke="#888" stroke-width="0.9" />
<line x1="241.3" y1="282.01" x2="241.3" y2="287.59" stroke="#fff" stroke-width="1.7" />
<line x1="241.3" y1="281.21" x2="241.3" y2="288.39" stroke="#666" stroke-width="1" />
<line x1="248.7" y1="282.01" x2="248.7" y2="287.59" stroke="#fff" stroke-width="1.7" />
<line x1="248.7" y1="281.21" x2="248.7" y2="288.39" stroke="#666" stroke-width="1" />
<path d="M240.9,276.1 L240.9,279.91 M249.1,276.1 L249.1,279.91 M240.9,293.5 L240.9,289.69 M249.1,293.5 L249.1,289.69" fill="none" stroke="#333" stroke-width="1" />
<path d="M257.76,272.6 L260.64,272.6 Q264,272.6 264,275.96 L264,280.41 L262.7,281.71 L262.7,287.89 L264,289.19 L264,293.64 Q264,297 260.64,297 L257.76,297 Q254.4,297 254.4,293.64 L254.4,289.19 L255.7,287.89 L255.7,281.71 L254.4,280.41 L254.4,275.96 Q254.4,272.6 257.76,272.6 Z" fill="none" stroke="#111" stroke-width="1.4" />
<line x1="255.1" y1="277.48" x2="263.3" y2="277.48" stroke="#222" stroke-width="1.1" />
<line x1="255.1" y1="292.12" x2="263.3" y2="292.12" stroke="#222" stroke-width="1.1" />
<line x1="255.3" y1="279.18" x2="263.1" y2="279.18" stroke="#888" stroke-width="0.9" />
<line x1="255.3" y1="290.42" x2="263.1" y2="290.42" stroke="#888" stroke-width="0.9" />
<line x1="255.7" y1="282.01" x2="255.7" y2="287.59" stroke="#fff" stroke-width="1.7" />
<line x1="255.7" y1="281.21" x2="255.7" y2="288.39" stroke="#666" stroke-width="1" />
<line x1="262.7" y1="282.01" x2="262.7" y2="287.59" stroke="#fff" stroke-width="1.7" />
<line x1="262.7" y1="281.21" x2="262.7" y2="288.39" stroke="#666" stroke-width="1" />
<path d="M255.3,275.96 L255.3,279.91 M263.1,275.96 L263.1,279.91 M255.3,293.64 L255.3,289.69 M263.1,293.64 L263.1,289.69" fill="none" stroke="#333" stroke-width="1" />
<path d="M272.29,272.6 L275.11,272.6 Q278.4,272.6 278.4,275.89 L278.4,280.41 L277.1,281.71 L277.1,287.89 L278.4,289.19 L278.4,293.71 Q278.4,297 275.11,297 L272.29,297 Q269,297 269,293.71 L269,289.19 L270.3,287.89 L270.3,281.71 L269,280.41 L269,275.89 Q269,272.6 272.29,272.6 Z" fill="none" stroke="#111" stroke-width="1.4" />
<line x1="269.7" y1="277.48" x2="277.7" y2="277.48" stroke="#222" stroke-width="1.1" />
<line x1="269.7" y1="292.12" x2="277.7" y2="292.12" stroke="#222" stroke-width="1.1" />
<line x1="269.9" y1="279.18" x2="277.5" y2="279.18" stroke="#888" stroke-width="0.9" />
<line x1="269.9" y1="290.42" x2="277.5" y2="290.42" stroke="#888" stroke-width="0.9" />
<line x1="270.3" y1="282.01" x2="270.3" y2="287.59" stroke="#fff" stroke-width="1.7" />
<line x1="270.3" y1="281.21" x2="270.3" y2="288.39" stroke="#666" stroke-width="1" />
<line x1="277.1" y1="282.01" x2="277.1" y2="287.59" stroke="#fff" stroke-width="1.7" />
<line x1="277.1" y1="281.21" x2="277.1" y2="288.39" stroke="#666" stroke-width="1" />
<path d="M269.9,275.89 L269.9,279.91 M277.5,275.89 L277.5,279.91 M269.9,293.71 L269.9,289.69 M277.5,293.71 L277.5,289.69" fill="none" stroke="#333" stroke-width="1" />
<path d="M181,286.5 L181,289.5 Q181,293 184.5,293 L188.87,293 L190.17,291.7 L196.43,291.7 L197.73,293 L202.1,293 Q205.6,293 205.6,289.5 L205.6,286.5 Q205.6,283 202.1,283 L197.73,283 L196.43,284.3 L190.17,284.3 L188.87,283 L184.5,283 Q181,283 181,286.5 Z" fill="none" stroke="#111" stroke-width="1.4" />
<line x1="185.92" y1="283.7" x2="185.92" y2="292.3" stroke="#222" stroke-width="1.1" />
<line x1="200.68" y1="283.7" x2="200.68" y2="292.3" stroke="#222" stroke-width="1.1" />
<line x1="187.62" y1="283.9" x2="187.62" y2="292.1" stroke="#888" stroke-width="0.9" />
<line x1="198.98" y1="283.9" x2="198.98" y2="292.1" stroke="#888" stroke-width="0.9" />
<line x1="190.47" y1="284.3" x2="196.13" y2="284.3" stroke="#fff" stroke-width="1.7" />
<line x1="189.67" y1="284.3" x2="196.93" y2="284.3" stroke="#666" stroke-width="1" />
<line x1="190.47" y1="291.7" x2="196.13" y2="291.7" stroke="#fff" stroke-width="1.7" />
<line x1="189.67" y1="291.7" x2="196.93" y2="291.7" stroke="#666" stroke-width="1" />
<path d="M184.5,283.9 L188.37,283.9 M184.5,292.1 L188.37,292.1 M202.1,283.9 L198.23,283.9 M202.1,292.1 L198.23,292.1" fill="none" stroke="#333" stroke-width="1" />
<rect x="283.5" y="275" width="5" height="7.3" rx="1.2" fill="none" stroke="#111" stroke-width="1.4" />
<line x1="284.2" y1="278.65" x2="287.8" y2="278.65" stroke="#333" stroke-width="1" />
<rect x="283.5" y="282.7" width="5" height="7.3" rx="1.2" fill="none" stroke="#111" stroke-width="1.4" />
<line x1="284.2" y1="286.35" x2="287.8" y2="286.35" stroke="#333" stroke-width="1" />
<path d="M296.68,273 L299.32,273 Q302.4,273 302.4,276.08 L302.4,280.68 L301.1,281.98 L301.1,288.02 L302.4,289.32 L302.4,293.92 Q302.4,297 299.32,297 L296.68,297 Q293.6,297 293.6,293.92 L293.6,289.32 L294.9,288.02 L294.9,281.98 L293.6,280.68 L293.6,276.08 Q293.6,273 296.68,273 Z" fill="none" stroke="#111" stroke-width="1.4" />
<line x1="294.3" y1="277.8" x2="301.7" y2="277.8" stroke="#222" stroke-width="1.1" />
<line x1="294.3" y1="292.2" x2="301.7" y2="292.2" stroke="#222" stroke-width="1.1" />
<line x1="294.5" y1="279.5" x2="301.5" y2="279.5" stroke="#888" stroke-width="0.9" />
<line x1="294.5" y1="290.5" x2="301.5" y2="290.5" stroke="#888" stroke-width="0.9" />
<line x1="294.9" y1="282.28" x2="294.9" y2="287.72" stroke="#fff" stroke-width="1.7" />
<line x1="294.9" y1="281.48" x2="294.9" y2="288.52" stroke="#666" stroke-width="1" />
<line x1="301.1" y1="282.28" x2="301.1" y2="287.72" stroke="#fff" stroke-width="1.7" />
<line x1="301.1" y1="281.48" x2="301.1" y2="288.52" stroke="#666" stroke-width="1" />
<path d="M294.5,276.08 L294.5,280.18 M301.5,276.08 L301.5,280.18 M294.5,293.92 L294.5,289.82 M301.5,293.92 L301.5,289.82" fill="none" stroke="#333" stroke-width="1" />
<rect x="307.5" y="275" width="5" height="7.3" rx="1.2" fill="none" stroke="#111" stroke-width="1.4" />
<line x1="308.2" y1="278.65" x2="311.8" y2="278.65" stroke="#333" stroke-width="1" />
<rect x="307.5" y="282.7" width="5" height="7.3" rx="1.2" fill="none" stroke="#111" stroke-width="1.4" />
<line x1="308.2" y1="286.35" x2="311.8" y2="286.35" stroke="#333" stroke-width="1" />
<path d="M322.29,273 L325.11,273 Q328.4,273 328.4,276.29 L328.4,280.68 L327.1,281.98 L327.1,288.02 L328.4,289.32 L328.4,293.71 Q328.4,297 325.11,297 L322.29,297 Q319,297 319,293.71 L319,289.32 L320.3,288.02 L320.3,281.98 L319,280.68 L319,276.29 Q319,273 322.29,273 Z" fill="none" stroke="#111" stroke-width="1.4" />
<line x1="319.7" y1="277.8" x2="327.7" y2="277.8" stroke="#222" stroke-width="1.1" />
<line x1="319.7" y1="292.2" x2="327.7" y2="292.2" stroke="#222" stroke-width="1.1" />
<line x1="319.9" y1="279.5" x2="327.5" y2="279.5" stroke="#888" stroke-width="0.9" />
<line x1="319.9" y1="290.5" x2="327.5" y2="290.5" stroke="#888" stroke-width="0.9" />
<line x1="320.3" y1="282.28" x2="320.3" y2="287.72" stroke="#fff" stroke-width="1.7" />
<line x1="320.3" y1="281.48" x2="320.3" y2="288.52" stroke="#666" stroke-width="1" />
<line x1="327.1" y1="282.28" x2="327.1" y2="287.72" stroke="#fff" stroke-width="1.7" />
<line x1="327.1" y1="281.48" x2="327.1" y2="288.52" stroke="#666" stroke-width="1" />
<path d="M319.9,276.29 L319.9,280.18 M327.5,276.29 L327.5,280.18 M319.9,293.71 L319.9,289.82 M327.5,293.71 L327.5,289.82" fill="none" stroke="#333" stroke-width="1" />
<rect x="334.5" y="275" width="5" height="7.3" rx="1.2" fill="none" stroke="#111" stroke-width="1.4" />
<line x1="335.2" y1="278.65" x2="338.8" y2="278.65" stroke="#333" stroke-width="1" />
<rect x="334.5" y="282.7" width="5" height="7.3" rx="1.2" fill="none" stroke="#111" stroke-width="1.4" />
<line x1="335.2" y1="286.35" x2="338.8" y2="286.35" stroke="#333" stroke-width="1" />
<rect x="344.5" y="274" width="5" height="7.3" rx="1.2" fill="none" stroke="#111" stroke-width="1.4" />
<line x1="345.2" y1="277.65" x2="348.8" y2="277.65" stroke="#333" stroke-width="1" />
<rect x="344.5" y="281.7" width="5" height="7.3" rx="1.2" fill="none" stroke="#111" stroke-width="1.4" />
<line x1="345.2" y1="285.35" x2="348.8" y2="285.35" stroke="#333" stroke-width="1" />
<rect x="354.5" y="274" width="5" height="7.3" rx="1.2" fill="none" stroke="#111" stroke-width="1.4" />
<line x1="355.2" y1="277.65" x2="358.8" y2="277.65" stroke="#333" stroke-width="1" />
<rect x="354.5" y="281.7" width="5" height="7.3" rx="1.2" fill="none" stroke="#111" stroke-width="1.4" />
<line x1="355.2" y1="285.35" x2="358.8" y2="285.35" stroke="#333" stroke-width="1" />
<path d="M280.1,185 L287.1,185 Q291.6,185 291.6,189.5 L291.6,201.65 L290.9,202.35 L290.9,204.65 L291.6,205.35 L291.6,217.5 Q291.6,222 287.1,222 L280.1,222 Q275.6,222 275.6,217.5 L275.6,205.35 L276.3,204.65 L276.3,202.35 L275.6,201.65 L275.6,189.5 Q275.6,185 280.1,185 Z" fill="none" stroke="#111" stroke-width="1.5" />
<line x1="276.3" y1="191.29" x2="290.9" y2="191.29" stroke="#222" stroke-width="1.1" />
<line x1="276.3" y1="215.71" x2="290.9" y2="215.71" stroke="#222" stroke-width="1.1" />
<line x1="276.5" y1="192.99" x2="290.7" y2="192.99" stroke="#888" stroke-width="0.9" />
<line x1="276.5" y1="214.01" x2="290.7" y2="214.01" stroke="#888" stroke-width="0.9" />
<path d="M276.5,189.5 L276.5,201.15 M290.7,189.5 L290.7,201.15 M276.5,217.5 L276.5,205.85 M290.7,217.5 L290.7,205.85" fill="none" stroke="#333" stroke-width="1" />
<path d="M302.1,185 L308.5,185 Q313,185 313,189.5 L313,201.65 L312.3,202.35 L312.3,204.65 L313,205.35 L313,217.5 Q313,222 308.5,222 L302.1,222 Q297.6,222 297.6,217.5 L297.6,205.35 L298.3,204.65 L298.3,202.35 L297.6,201.65 L297.6,189.5 Q297.6,185 302.1,185 Z" fill="none" stroke="#111" stroke-width="1.5" />
<line x1="298.3" y1="191.29" x2="312.3" y2="191.29" stroke="#222" stroke-width="1.1" />
<line x1="298.3" y1="215.71" x2="312.3" y2="215.71" stroke="#222" stroke-width="1.1" />
<line x1="298.5" y1="192.99" x2="312.1" y2="192.99" stroke="#888" stroke-width="0.9" />
<line x1="298.5" y1="214.01" x2="312.1" y2="214.01" stroke="#888" stroke-width="0.9" />
<path d="M298.5,189.5 L298.5,201.15 M312.1,189.5 L312.1,201.15 M298.5,217.5 L298.5,205.85 M312.1,217.5 L312.1,205.85" fill="none" stroke="#333" stroke-width="1" />
<path d="M322.5,185 L325.5,185 Q329,185 329,188.5 L329,192.36 L327.7,193.66 L327.7,199.34 L329,200.64 L329,204.5 Q329,208 325.5,208 L322.5,208 Q319,208 319,204.5 L319,200.64 L320.3,199.34 L320.3,193.66 L319,192.36 L319,188.5 Q319,185 322.5,185 Z" fill="none" stroke="#111" stroke-width="1.4" />
<line x1="319.7" y1="189.6" x2="328.3" y2="189.6" stroke="#222" stroke-width="1.1" />
<line x1="319.7" y1="203.4" x2="328.3" y2="203.4" stroke="#222" stroke-width="1.1" />
<line x1="319.9" y1="191.3" x2="328.1" y2="191.3" stroke="#888" stroke-width="0.9" />
<line x1="319.9" y1="201.7" x2="328.1" y2="201.7" stroke="#888" stroke-width="0.9" />
<line x1="320.3" y1="193.96" x2="320.3" y2="199.04" stroke="#fff" stroke-width="1.7" />
<line x1="320.3" y1="193.16" x2="320.3" y2="199.84" stroke="#666" stroke-width="1" />
<line x1="327.7" y1="193.96" x2="327.7" y2="199.04" stroke="#fff" stroke-width="1.7" />
<line x1="327.7" y1="193.16" x2="327.7" y2="199.84" stroke="#666" stroke-width="1" />
<path d="M319.9,188.5 L319.9,191.86 M328.1,188.5 L328.1,191.86 M319.9,204.5 L319.9,201.14 M328.1,204.5 L328.1,201.14" fill="none" stroke="#333" stroke-width="1" />
<path d="M337.1,185 L340.1,185 Q343.6,185 343.6,188.5 L343.6,192.36 L342.3,193.66 L342.3,199.34 L343.6,200.64 L343.6,204.5 Q343.6,208 340.1,208 L337.1,208 Q333.6,208 333.6,204.5 L333.6,200.64 L334.9,199.34 L334.9,193.66 L333.6,192.36 L333.6,188.5 Q333.6,185 337.1,185 Z" fill="none" stroke="#111" stroke-width="1.4" />
<line x1="334.3" y1="189.6" x2="342.9" y2="189.6" stroke="#222" stroke-width="1.1" />
<line x1="334.3" y1="203.4" x2="342.9" y2="203.4" stroke="#222" stroke-width="1.1" />
<line x1="334.5" y1="191.3" x2="342.7" y2="191.3" stroke="#888" stroke-width="0.9" />
<line x1="334.5" y1="201.7" x2="342.7" y2="201.7" stroke="#888" stroke-width="0.9" />
<line x1="334.9" y1="193.96" x2="334.9" y2="199.04" stroke="#fff" stroke-width="1.7" />
<line x1="334.9" y1="193.16" x2="334.9" y2="199.84" stroke="#666" stroke-width="1" />
<line x1="342.3" y1="193.96" x2="342.3" y2="199.04" stroke="#fff" stroke-width="1.7" />
<line x1="342.3" y1="193.16" x2="342.3" y2="199.84" stroke="#666" stroke-width="1" />
<path d="M334.5,188.5 L334.5,191.86 M342.7,188.5 L342.7,191.86 M334.5,204.5 L334.5,201.14 M342.7,204.5 L342.7,201.14" fill="none" stroke="#333" stroke-width="1" />
<path d="M351.1,185 L354.1,185 Q357.6,185 357.6,188.5 L357.6,192.36 L356.3,193.66 L356.3,199.34 L357.6,200.64 L357.6,204.5 Q357.6,208 354.1,208 L351.1,208 Q347.6,208 347.6,204.5 L347.6,200.64 L348.9,199.34 L348.9,193.66 L347.6,192.36 L347.6,188.5 Q347.6,185 351.1,185 Z" fill="none" stroke="#111" stroke-width="1.4" />
<line x1="348.3" y1="189.6" x2="356.9" y2="189.6" stroke="#222" stroke-width="1.1" />
<line x1="348.3" y1="203.4" x2="356.9" y2="203.4" stroke="#222" stroke-width="1.1" />
<line x1="348.5" y1="191.3" x2="356.7" y2="191.3" stroke="#888" stroke-width="0.9" />
<line x1="348.5" y1="201.7" x2="356.7" y2="201.7" stroke="#888" stroke-width="0.9" />
<line x1="348.9" y1="193.96" x2="348.9" y2="199.04" stroke="#fff" stroke-width="1.7" />
<line x1="348.9" y1="193.16" x2="348.9" y2="199.84" stroke="#666" stroke-width="1" />
<line x1="356.3" y1="193.96" x2="356.3" y2="199.04" stroke="#fff" stroke-width="1.7" />
<line x1="356.3" y1="193.16" x2="356.3" y2="199.84" stroke="#666" stroke-width="1" />
<path d="M348.5,188.5 L348.5,191.86 M356.7,188.5 L356.7,191.86 M348.5,204.5 L348.5,201.14 M356.7,204.5 L356.7,201.14" fill="none" stroke="#333" stroke-width="1" />
<path d="M319,217.15 L319,219.85 Q319,223 322.15,223 L326.68,223 L327.98,221.7 L334.02,221.7 L335.32,223 L339.85,223 Q343,223 343,219.85 L343,217.15 Q343,214 339.85,214 L335.32,214 L334.02,215.3 L327.98,215.3 L326.68,214 L322.15,214 Q319,214 319,217.15 Z" fill="none" stroke="#111" stroke-width="1.4" />
<line x1="323.8" y1="214.7" x2="323.8" y2="222.3" stroke="#222" stroke-width="1.1" />
<line x1="338.2" y1="214.7" x2="338.2" y2="222.3" stroke="#222" stroke-width="1.1" />
<line x1="325.5" y1="214.9" x2="325.5" y2="222.1" stroke="#888" stroke-width="0.9" />
<line x1="336.5" y1="214.9" x2="336.5" y2="222.1" stroke="#888" stroke-width="0.9" />
<line x1="328.28" y1="215.3" x2="333.72" y2="215.3" stroke="#fff" stroke-width="1.7" />
<line x1="327.48" y1="215.3" x2="334.52" y2="215.3" stroke="#666" stroke-width="1" />
<line x1="328.28" y1="221.7" x2="333.72" y2="221.7" stroke="#fff" stroke-width="1.7" />
<line x1="327.48" y1="221.7" x2="334.52" y2="221.7" stroke="#666" stroke-width="1" />
<path d="M322.15,214.9 L326.18,214.9 M322.15,222.1 L326.18,222.1 M339.85,214.9 L335.82,214.9 M339.85,222.1 L335.82,222.1" fill="none" stroke="#333" stroke-width="1" />
<path d="M351.29,214 L354.11,214 Q357.4,214 357.4,217.29 L357.4,221.68 L356.1,222.98 L356.1,229.02 L357.4,230.32 L357.4,234.71 Q357.4,238 354.11,238 L351.29,238 Q348,238 348,234.71 L348,230.32 L349.3,229.02 L349.3,222.98 L348,221.68 L348,217.29 Q348,214 351.29,214 Z" fill="none" stroke="#111" stroke-width="1.4" />
<line x1="348.7" y1="218.8" x2="356.7" y2="218.8" stroke="#222" stroke-width="1.1" />
<line x1="348.7" y1="233.2" x2="356.7" y2="233.2" stroke="#222" stroke-width="1.1" />
<line x1="348.9" y1="220.5" x2="356.5" y2="220.5" stroke="#888" stroke-width="0.9" />
<line x1="348.9" y1="231.5" x2="356.5" y2="231.5" stroke="#888" stroke-width="0.9" />
<line x1="349.3" y1="223.28" x2="349.3" y2="228.72" stroke="#fff" stroke-width="1.7" />
<line x1="349.3" y1="222.48" x2="349.3" y2="229.52" stroke="#666" stroke-width="1" />
<line x1="356.1" y1="223.28" x2="356.1" y2="228.72" stroke="#fff" stroke-width="1.7" />
<line x1="356.1" y1="222.48" x2="356.1" y2="229.52" stroke="#666" stroke-width="1" />
<path d="M348.9,217.29 L348.9,221.18 M356.5,217.29 L356.5,221.18 M348.9,234.71 L348.9,230.82 M356.5,234.71 L356.5,230.82" fill="none" stroke="#333" stroke-width="1" />
<rect x="365.1" y="175" width="5" height="7.3" rx="1.2" fill="none" stroke="#111" stroke-width="1.4" />
<line x1="365.8" y1="178.65" x2="369.4" y2="178.65" stroke="#333" stroke-width="1" />
<rect x="365.1" y="182.7" width="5" height="7.3" rx="1.2" fill="none" stroke="#111" stroke-width="1.4" />
<line x1="365.8" y1="186.35" x2="369.4" y2="186.35" stroke="#333" stroke-width="1" />
<rect x="365.1" y="195" width="5" height="7.3" rx="1.2" fill="none" stroke="#111" stroke-width="1.4" />
<line x1="365.8" y1="198.65" x2="369.4" y2="198.65" stroke="#333" stroke-width="1" />
<rect x="365.1" y="202.7" width="5" height="7.3" rx="1.2" fill="none" stroke="#111" stroke-width="1.4" />
<line x1="365.8" y1="206.35" x2="369.4" y2="206.35" stroke="#333" stroke-width="1" />
<rect x="365.1" y="215" width="5" height="7.3" rx="1.2" fill="none" stroke="#111" stroke-width="1.4" />
<line x1="365.8" y1="218.65" x2="369.4" y2="218.65" stroke="#333" stroke-width="1" />
<rect x="365.1" y="222.7" width="5" height="7.3" rx="1.2" fill="none" stroke="#111" stroke-width="1.4" />
<line x1="365.8" y1="226.35" x2="369.4" y2="226.35" stroke="#333" stroke-width="1" />
<rect x="365.1" y="235" width="5" height="7.3" rx="1.2" fill="none" stroke="#111" stroke-width="1.4" />
<line x1="365.8" y1="238.65" x2="369.4" y2="238.65" stroke="#333" stroke-width="1" />
<rect x="365.1" y="242.7" width="5" height="7.3" rx="1.2" fill="none" stroke="#111" stroke-width="1.4" />
<line x1="365.8" y1="246.35" x2="369.4" y2="246.35" stroke="#333" stroke-width="1" />
<rect x="380.5" y="165" width="5.4" height="12" rx="1.3" fill="#fff" stroke="#222" stroke-width="1.4" />
<rect x="381.7" y="166.5" width="3" height="8.5" rx="0.6" fill="#fff" stroke="#666" stroke-width="0.9" />
<rect x="380.5" y="188" width="5.4" height="11.5" rx="1.3" fill="#fff" stroke="#222" stroke-width="1.4" />
<rect x="381.7" y="190" width="3" height="8" rx="0.6" fill="#fff" stroke="#666" stroke-width="0.9" />
<rect x="387.7" y="165" width="5.4" height="12" rx="1.3" fill="#fff" stroke="#222" stroke-width="1.4" />
<rect x="388.9" y="166.5" width="3" height="8.5" rx="0.6" fill="#fff" stroke="#666" stroke-width="0.9" />
<rect x="387.7" y="188" width="5.4" height="11.5" rx="1.3" fill="#fff" stroke="#222" stroke-width="1.4" />
<rect x="388.9" y="190" width="3" height="8" rx="0.6" fill="#fff" stroke="#666" stroke-width="0.9" />
<rect x="394.9" y="165" width="5.4" height="12" rx="1.3" fill="#fff" stroke="#222" stroke-width="1.4" />
<rect x="396.1" y="166.5" width="3" height="8.5" rx="0.6" fill="#fff" stroke="#666" stroke-width="0.9" />
<rect x="394.9" y="188" width="5.4" height="11.5" rx="1.3" fill="#fff" stroke="#222" stroke-width="1.4" />
<rect x="396.1" y="190" width="3" height="8" rx="0.6" fill="#fff" stroke="#666" stroke-width="0.9" />
<rect x="378.4" y="174" width="23.6" height="17" rx="0" fill="#fff" stroke="#222" stroke-width="1.1" />
<circle cx="403" cy="167.6" r="2.5" fill="none" stroke="#333" stroke-width="0.8" />
<path d="M412.1,159 L419.5,159 Q424,159 424,163.5 L424,175.65 L423.3,176.35 L423.3,178.65 L424,179.35 L424,191.5 Q424,196 419.5,196 L412.1,196 Q407.6,196 407.6,191.5 L407.6,179.35 L408.3,178.65 L408.3,176.35 L407.6,175.65 L407.6,163.5 Q407.6,159 412.1,159 Z" fill="none" stroke="#111" stroke-width="1.5" />
<line x1="408.3" y1="165.29" x2="423.3" y2="165.29" stroke="#222" stroke-width="1.1" />
<line x1="408.3" y1="189.71" x2="423.3" y2="189.71" stroke="#222" stroke-width="1.1" />
<line x1="408.5" y1="166.99" x2="423.1" y2="166.99" stroke="#888" stroke-width="0.9" />
<line x1="408.5" y1="188.01" x2="423.1" y2="188.01" stroke="#888" stroke-width="0.9" />
<path d="M408.5,163.5 L408.5,175.15 M423.1,163.5 L423.1,175.15 M408.5,191.5 L408.5,179.85 M423.1,191.5 L423.1,179.85" fill="none" stroke="#333" stroke-width="1" />
<rect x="380" y="204" width="42" height="30" rx="4" fill="none" stroke="#1a1a1a" stroke-width="1.6" />
<line x1="390.08" y1="204.8" x2="390.08" y2="233.2" stroke="#333" stroke-width="1" />
<line x1="391.58" y1="204.8" x2="391.58" y2="233.2" stroke="#aaa" stroke-width="0.8" />
<line x1="411.92" y1="204.8" x2="411.92" y2="233.2" stroke="#333" stroke-width="1" />
<line x1="410.42" y1="204.8" x2="410.42" y2="233.2" stroke="#aaa" stroke-width="0.8" />
<path d="M280.1,230 L287.1,230 Q291.6,230 291.6,234.5 L291.6,247.1 L290.9,247.8 L290.9,250.2 L291.6,250.9 L291.6,263.5 Q291.6,268 287.1,268 L280.1,268 Q275.6,268 275.6,263.5 L275.6,250.9 L276.3,250.2 L276.3,247.8 L275.6,247.1 L275.6,234.5 Q275.6,230 280.1,230 Z" fill="none" stroke="#111" stroke-width="1.5" />
<line x1="276.3" y1="236.46" x2="290.9" y2="236.46" stroke="#222" stroke-width="1.1" />
<line x1="276.3" y1="261.54" x2="290.9" y2="261.54" stroke="#222" stroke-width="1.1" />
<line x1="276.5" y1="238.16" x2="290.7" y2="238.16" stroke="#888" stroke-width="0.9" />
<line x1="276.5" y1="259.84" x2="290.7" y2="259.84" stroke="#888" stroke-width="0.9" />
<path d="M276.5,234.5 L276.5,246.6 M290.7,234.5 L290.7,246.6 M276.5,263.5 L276.5,251.4 M290.7,263.5 L290.7,251.4" fill="none" stroke="#333" stroke-width="1" />
<path d="M302.1,230 L308.5,230 Q313,230 313,234.5 L313,247.1 L312.3,247.8 L312.3,250.2 L313,250.9 L313,263.5 Q313,268 308.5,268 L302.1,268 Q297.6,268 297.6,263.5 L297.6,250.9 L298.3,250.2 L298.3,247.8 L297.6,247.1 L297.6,234.5 Q297.6,230 302.1,230 Z" fill="none" stroke="#111" stroke-width="1.5" />
<line x1="298.3" y1="236.46" x2="312.3" y2="236.46" stroke="#222" stroke-width="1.1" />
<line x1="298.3" y1="261.54" x2="312.3" y2="261.54" stroke="#222" stroke-width="1.1" />
<line x1="298.5" y1="238.16" x2="312.1" y2="238.16" stroke="#888" stroke-width="0.9" />
<line x1="298.5" y1="259.84" x2="312.1" y2="259.84" stroke="#888" stroke-width="0.9" />
<path d="M298.5,234.5 L298.5,246.6 M312.1,234.5 L312.1,246.6 M298.5,263.5 L298.5,251.4 M312.1,263.5 L312.1,251.4" fill="none" stroke="#333" stroke-width="1" />
<path d="M326.9,230 L333.5,230 Q338,230 338,234.5 L338,247.1 L337.3,247.8 L337.3,250.2 L338,250.9 L338,263.5 Q338,268 333.5,268 L326.9,268 Q322.4,268 322.4,263.5 L322.4,250.9 L323.1,250.2 L323.1,247.8 L322.4,247.1 L322.4,234.5 Q322.4,230 326.9,230 Z" fill="none" stroke="#111" stroke-width="1.5" />
<line x1="323.1" y1="236.46" x2="337.3" y2="236.46" stroke="#222" stroke-width="1.1" />
<line x1="323.1" y1="261.54" x2="337.3" y2="261.54" stroke="#222" stroke-width="1.1" />
<line x1="323.3" y1="238.16" x2="337.1" y2="238.16" stroke="#888" stroke-width="0.9" />
<line x1="323.3" y1="259.84" x2="337.1" y2="259.84" stroke="#888" stroke-width="0.9" />
<path d="M323.3,234.5 L323.3,246.6 M337.1,234.5 L337.1,246.6 M323.3,263.5 L323.3,251.4 M337.1,263.5 L337.1,251.4" fill="none" stroke="#333" stroke-width="1" />
<rect x="345" y="243.5" width="7.3" height="5" rx="1.2" fill="none" stroke="#111" stroke-width="1.4" />
<line x1="347.63" y1="244.2" x2="347.63" y2="247.8" stroke="#444" stroke-width="0.9" />
<line x1="349.67" y1="244.2" x2="349.67" y2="247.8" stroke="#444" stroke-width="0.9" />
<rect x="352.7" y="243.5" width="7.3" height="5" rx="1.2" fill="none" stroke="#111" stroke-width="1.4" />
<line x1="355.33" y1="244.2" x2="355.33" y2="247.8" stroke="#444" stroke-width="0.9" />
<line x1="357.37" y1="244.2" x2="357.37" y2="247.8" stroke="#444" stroke-width="0.9" />
<path d="M375,244.24 L375,247.36 Q375,251 378.64,251 L382.68,251 L383.98,249.7 L390.02,249.7 L391.32,251 L395.36,251 Q399,251 399,247.36 L399,244.24 Q399,240.6 395.36,240.6 L391.32,240.6 L390.02,241.9 L383.98,241.9 L382.68,240.6 L378.64,240.6 Q375,240.6 375,244.24 Z" fill="none" stroke="#111" stroke-width="1.4" />
<line x1="379.8" y1="241.3" x2="379.8" y2="250.3" stroke="#222" stroke-width="1.1" />
<line x1="394.2" y1="241.3" x2="394.2" y2="250.3" stroke="#222" stroke-width="1.1" />
<line x1="381.5" y1="241.5" x2="381.5" y2="250.1" stroke="#888" stroke-width="0.9" />
<line x1="392.5" y1="241.5" x2="392.5" y2="250.1" stroke="#888" stroke-width="0.9" />
<line x1="384.28" y1="241.9" x2="389.72" y2="241.9" stroke="#fff" stroke-width="1.7" />
<line x1="383.48" y1="241.9" x2="390.52" y2="241.9" stroke="#666" stroke-width="1" />
<line x1="384.28" y1="249.7" x2="389.72" y2="249.7" stroke="#fff" stroke-width="1.7" />
<line x1="383.48" y1="249.7" x2="390.52" y2="249.7" stroke="#666" stroke-width="1" />
<path d="M378.64,241.5 L382.18,241.5 M378.64,250.1 L382.18,250.1 M395.36,241.5 L391.82,241.5 M395.36,250.1 L391.82,250.1" fill="none" stroke="#333" stroke-width="1" />
<rect x="405.6" y="244.5" width="7.2" height="5" rx="1.2" fill="none" stroke="#111" stroke-width="1.4" />
<line x1="408.19" y1="245.2" x2="408.19" y2="248.8" stroke="#444" stroke-width="0.9" />
<line x1="410.21" y1="245.2" x2="410.21" y2="248.8" stroke="#444" stroke-width="0.9" />
<rect x="413.2" y="244.5" width="7.2" height="5" rx="1.2" fill="none" stroke="#111" stroke-width="1.4" />
<line x1="415.79" y1="245.2" x2="415.79" y2="248.8" stroke="#444" stroke-width="0.9" />
<line x1="417.81" y1="245.2" x2="417.81" y2="248.8" stroke="#444" stroke-width="0.9" />
<rect x="344.5" y="254" width="5" height="7.3" rx="1.2" fill="none" stroke="#111" stroke-width="1.4" />
<line x1="345.2" y1="257.65" x2="348.8" y2="257.65" stroke="#333" stroke-width="1" />
<rect x="344.5" y="261.7" width="5" height="7.3" rx="1.2" fill="none" stroke="#111" stroke-width="1.4" />
<line x1="345.2" y1="265.35" x2="348.8" y2="265.35" stroke="#333" stroke-width="1" />
<rect x="354.5" y="254" width="5" height="7.3" rx="1.2" fill="none" stroke="#111" stroke-width="1.4" />
<line x1="355.2" y1="257.65" x2="358.8" y2="257.65" stroke="#333" stroke-width="1" />
<rect x="354.5" y="261.7" width="5" height="7.3" rx="1.2" fill="none" stroke="#111" stroke-width="1.4" />
<line x1="355.2" y1="265.35" x2="358.8" y2="265.35" stroke="#333" stroke-width="1" />
<rect x="368" y="258.9" width="5.5" height="4.2" rx="2" fill="#fff" stroke="#222" stroke-width="1.2" />
<rect x="413.5" y="258.9" width="5.5" height="4.2" rx="2" fill="#fff" stroke="#222" stroke-width="1.2" />
<rect x="368" y="265.9" width="5.5" height="4.2" rx="2" fill="#fff" stroke="#222" stroke-width="1.2" />
<rect x="413.5" y="265.9" width="5.5" height="4.2" rx="2" fill="#fff" stroke="#222" stroke-width="1.2" />
<rect x="368" y="272.9" width="5.5" height="4.2" rx="2" fill="#fff" stroke="#222" stroke-width="1.2" />
<rect x="413.5" y="272.9" width="5.5" height="4.2" rx="2" fill="#fff" stroke="#222" stroke-width="1.2" />
<rect x="368" y="280.5" width="5.5" height="4.2" rx="2" fill="#fff" stroke="#222" stroke-width="1.2" />
<rect x="413.5" y="280.5" width="5.5" height="4.2" rx="2" fill="#fff" stroke="#222" stroke-width="1.2" />
<rect x="372" y="257" width="43" height="29" rx="0" fill="#fff" stroke="#222" stroke-width="1.1" />
<circle cx="373" cy="253" r="2.8" fill="#fff" stroke="#333" stroke-width="0.8" />
<rect x="348" y="293.5" width="7.3" height="5" rx="1.2" fill="none" stroke="#111" stroke-width="1.4" />
<line x1="350.63" y1="294.2" x2="350.63" y2="297.8" stroke="#444" stroke-width="0.9" />
<line x1="352.67" y1="294.2" x2="352.67" y2="297.8" stroke="#444" stroke-width="0.9" />
<rect x="355.7" y="293.5" width="7.3" height="5" rx="1.2" fill="none" stroke="#111" stroke-width="1.4" />
<line x1="358.33" y1="294.2" x2="358.33" y2="297.8" stroke="#444" stroke-width="0.9" />
<line x1="360.37" y1="294.2" x2="360.37" y2="297.8" stroke="#444" stroke-width="0.9" />
<rect x="368" y="293.5" width="7.6" height="5" rx="1.2" fill="none" stroke="#111" stroke-width="1.4" />
<line x1="370.74" y1="294.2" x2="370.74" y2="297.8" stroke="#444" stroke-width="0.9" />
<line x1="372.86" y1="294.2" x2="372.86" y2="297.8" stroke="#444" stroke-width="0.9" />
<rect x="376" y="293.5" width="7.6" height="5" rx="1.2" fill="none" stroke="#111" stroke-width="1.4" />
<line x1="378.74" y1="294.2" x2="378.74" y2="297.8" stroke="#444" stroke-width="0.9" />
<line x1="380.86" y1="294.2" x2="380.86" y2="297.8" stroke="#444" stroke-width="0.9" />
<rect x="388" y="293.5" width="7.6" height="5" rx="1.2" fill="none" stroke="#111" stroke-width="1.4" />
<line x1="390.74" y1="294.2" x2="390.74" y2="297.8" stroke="#444" stroke-width="0.9" />
<line x1="392.86" y1="294.2" x2="392.86" y2="297.8" stroke="#444" stroke-width="0.9" />
<rect x="396" y="293.5" width="7.6" height="5" rx="1.2" fill="none" stroke="#111" stroke-width="1.4" />
<line x1="398.74" y1="294.2" x2="398.74" y2="297.8" stroke="#444" stroke-width="0.9" />
<line x1="400.86" y1="294.2" x2="400.86" y2="297.8" stroke="#444" stroke-width="0.9" />
<rect x="407" y="293.5" width="7.8" height="5" rx="1.2" fill="none" stroke="#111" stroke-width="1.4" />
<line x1="409.81" y1="294.2" x2="409.81" y2="297.8" stroke="#444" stroke-width="0.9" />
<line x1="411.99" y1="294.2" x2="411.99" y2="297.8" stroke="#444" stroke-width="0.9" />
<rect x="415.2" y="293.5" width="7.8" height="5" rx="1.2" fill="none" stroke="#111" stroke-width="1.4" />
<line x1="418.01" y1="294.2" x2="418.01" y2="297.8" stroke="#444" stroke-width="0.9" />
<line x1="420.19" y1="294.2" x2="420.19" y2="297.8" stroke="#444" stroke-width="0.9" />
<line x1="50" y1="73.8" x2="45.2" y2="97.6" stroke="#222" stroke-width="1.1" />
<line x1="45.8" y1="119" x2="45.8" y2="155" stroke="#222" stroke-width="1.1" />
<path d="M62.8,96.9 L53.5,96.9 A11.5,11.5 0 0 0 53.5,119.9 L62.8,119.9" fill="none" stroke="#222" stroke-width="1.3" />
<line x1="53.5" y1="96.9" x2="62.8" y2="96.9" stroke="#999" stroke-width="1.2" />
<line x1="53.5" y1="119.9" x2="62.8" y2="119.9" stroke="#999" stroke-width="1.2" />
<path d="M61.2,96.9 A11.5,11.5 0 0 0 61.2,119.9" fill="none" stroke="#888" stroke-width="1" />
<circle cx="62.8" cy="108.4" r="11.5" fill="#fff" stroke="#1a1a1a" stroke-width="1.4" />
<path d="M62.8,154.8 L53.5,154.8 A11.5,11.5 0 0 0 53.5,177.8 L62.8,177.8" fill="none" stroke="#222" stroke-width="1.3" />
<line x1="53.5" y1="154.8" x2="62.8" y2="154.8" stroke="#999" stroke-width="1.2" />
<line x1="53.5" y1="177.8" x2="62.8" y2="177.8" stroke="#999" stroke-width="1.2" />
<path d="M61.2,154.8 A11.5,11.5 0 0 0 61.2,177.8" fill="none" stroke="#888" stroke-width="1" />
<circle cx="62.8" cy="166.3" r="11.5" fill="#fff" stroke="#1a1a1a" stroke-width="1.4" />
<path d="M32.2,102.7 L35.6,102.7 L35.6,107.2 L40,107.2 L40,110.6 L35.6,110.6 L35.6,115 L32.2,115 L32.2,110.6 L27.8,110.6 L27.8,107.2 L32.2,107.2 Z" fill="none" stroke="#333" stroke-width="1" />
<rect x="32.6" y="163.6" width="4" height="8.4" rx="1" fill="none" stroke="#333" stroke-width="1" />
<path d="M25.3,121.3 L57.5,138.9 L25.3,156.9 Z" fill="none" stroke="#333" stroke-width="1.1" />
<path d="M28.5,125.8 L52.5,138.9 L28.5,152.4 Z" fill="none" stroke="#444" stroke-width="0.9" />
<path d="M30.5,140 L35.5,139.6 L38.2,135.8 L39.5,141.8 L42,138.2 L47,138" fill="none" stroke="#333" stroke-width="1.1" />
<path d="M466.3,154.1 L475.6,154.1 A11,11 0 0 1 475.6,176.1 L466.3,176.1" fill="none" stroke="#222" stroke-width="1.3" />
<line x1="475.6" y1="154.1" x2="466.3" y2="154.1" stroke="#999" stroke-width="1.2" />
<line x1="475.6" y1="176.1" x2="466.3" y2="176.1" stroke="#999" stroke-width="1.2" />
<path d="M467.9,154.1 A11,11 0 0 1 467.9,176.1" fill="none" stroke="#888" stroke-width="1" />
<circle cx="466.3" cy="165.1" r="11" fill="#fff" stroke="#1a1a1a" stroke-width="1.4" />
<path d="M466.3,211.5 L475.6,211.5 A11,11 0 0 1 475.6,233.5 L466.3,233.5" fill="none" stroke="#222" stroke-width="1.3" />
<line x1="475.6" y1="211.5" x2="466.3" y2="211.5" stroke="#999" stroke-width="1.2" />
<line x1="475.6" y1="233.5" x2="466.3" y2="233.5" stroke="#999" stroke-width="1.2" />
<path d="M467.9,211.5 A11,11 0 0 1 467.9,233.5" fill="none" stroke="#888" stroke-width="1" />
<circle cx="466.3" cy="222.5" r="11" fill="#fff" stroke="#1a1a1a" stroke-width="1.4" />
<path d="M466.3,269.2 L475.6,269.2 A11,11 0 0 1 475.6,291.2 L466.3,291.2" fill="none" stroke="#222" stroke-width="1.3" />
<line x1="475.6" y1="269.2" x2="466.3" y2="269.2" stroke="#999" stroke-width="1.2" />
<line x1="475.6" y1="291.2" x2="466.3" y2="291.2" stroke="#999" stroke-width="1.2" />
<path d="M467.9,269.2 A11,11 0 0 1 467.9,291.2" fill="none" stroke="#888" stroke-width="1" />
<circle cx="466.3" cy="280.2" r="11" fill="#fff" stroke="#1a1a1a" stroke-width="1.4" />
<path d="M476.2,240.5 L507.5,223.3 L507.5,259.4 Z" fill="none" stroke="#333" stroke-width="1.1" />
<path d="M481.3,240.5 L504.5,227.8 L504.5,255.2 Z" fill="none" stroke="#444" stroke-width="0.9" />
<path d="M486,241 L491,240.6 L493.7,236.8 L495,242.8 L497.5,239.2 L502.5,239" fill="none" stroke="#333" stroke-width="1.1" />
<path d="M477,182.6 L490,177 L490,190 Z" fill="none" stroke="#444" stroke-width="1" />
<path d="M493,173.5 L506,167.5 L497,183 Z" fill="none" stroke="#444" stroke-width="1" />
<path d="M506,168.5 L506,201 L492,193" fill="none" stroke="#444" stroke-width="1" />
<path d="M496,189 Q500,184 504,188 Q500,191 496,189 Z" fill="#333" stroke="#333" stroke-width="0.8" />
<circle cx="82.3" cy="72.1" r="9.2" fill="none" stroke="#333" stroke-width="1.3" />
<line x1="78.27" y1="68.07" x2="86.33" y2="76.13" stroke="#444" stroke-width="1.4" />
<line x1="82.51" y1="68.64" x2="79.4" y2="69.2" stroke="#777" stroke-width="1.4" />
<line x1="78.84" y1="72.31" x2="79.4" y2="69.2" stroke="#777" stroke-width="1.4" />
<line x1="81.21" y1="67.33" x2="78.1" y2="67.9" stroke="#777" stroke-width="1.4" />
<line x1="77.53" y1="71.01" x2="78.1" y2="67.9" stroke="#777" stroke-width="1.4" />
<line x1="80.11" y1="66.23" x2="76.99" y2="66.79" stroke="#777" stroke-width="1.4" />
<line x1="76.43" y1="69.91" x2="76.99" y2="66.79" stroke="#777" stroke-width="1.4" />
<circle cx="433.6" cy="20.9" r="9.3" fill="none" stroke="#333" stroke-width="1.3" />
<line x1="437.68" y1="16.82" x2="429.52" y2="24.98" stroke="#444" stroke-width="1.4" />
<line x1="437.08" y1="21.09" x2="436.52" y2="17.98" stroke="#777" stroke-width="1.4" />
<line x1="433.41" y1="17.42" x2="436.52" y2="17.98" stroke="#777" stroke-width="1.4" />
<line x1="438.4" y1="19.78" x2="437.83" y2="16.67" stroke="#777" stroke-width="1.4" />
<line x1="434.72" y1="16.1" x2="437.83" y2="16.67" stroke="#777" stroke-width="1.4" />
<line x1="439.52" y1="18.66" x2="438.95" y2="15.55" stroke="#777" stroke-width="1.4" />
<line x1="435.84" y1="14.98" x2="438.95" y2="15.55" stroke="#777" stroke-width="1.4" />
<circle cx="94.7" cy="367.4" r="9.4" fill="none" stroke="#333" stroke-width="1.3" />
<line x1="90.58" y1="371.52" x2="98.82" y2="363.28" stroke="#444" stroke-width="1.4" />
<line x1="91.2" y1="367.22" x2="91.77" y2="370.33" stroke="#777" stroke-width="1.4" />
<line x1="94.88" y1="370.9" x2="91.77" y2="370.33" stroke="#777" stroke-width="1.4" />
<line x1="89.87" y1="368.55" x2="90.44" y2="371.66" stroke="#777" stroke-width="1.4" />
<line x1="93.55" y1="372.23" x2="90.44" y2="371.66" stroke="#777" stroke-width="1.4" />
<line x1="88.74" y1="369.68" x2="89.31" y2="372.79" stroke="#777" stroke-width="1.4" />
<line x1="92.42" y1="373.36" x2="89.31" y2="372.79" stroke="#777" stroke-width="1.4" />
<circle cx="433.5" cy="366.7" r="9" fill="none" stroke="#333" stroke-width="1.3" />
<line x1="437.45" y1="370.65" x2="429.55" y2="362.75" stroke="#444" stroke-width="1.4" />
<line x1="433.25" y1="370.13" x2="436.36" y2="369.56" stroke="#777" stroke-width="1.4" />
<line x1="436.93" y1="366.45" x2="436.36" y2="369.56" stroke="#777" stroke-width="1.4" />
<line x1="434.53" y1="371.4" x2="437.64" y2="370.84" stroke="#777" stroke-width="1.4" />
<line x1="438.2" y1="367.73" x2="437.64" y2="370.84" stroke="#777" stroke-width="1.4" />
<line x1="435.61" y1="372.48" x2="438.72" y2="371.92" stroke="#777" stroke-width="1.4" />
<line x1="439.28" y1="368.81" x2="438.72" y2="371.92" stroke="#777" stroke-width="1.4" />
<circle cx="438" cy="308" r="7.3" fill="none" stroke="#444" stroke-width="1.2" />
<circle cx="438" cy="308" r="5.6" fill="none" stroke="#999" stroke-width="0.8" />
<path d="M433.5,307.5 L437,312 L445,301" fill="none" stroke="#333" stroke-width="1.3" />
<text x="0" y="0" textLength="104.5" lengthAdjust="spacingAndGlyphs" font-family="Liberation Sans, sans-serif" font-weight="bold" font-size="26.6" fill="#fff" stroke="#333" stroke-width="1" transform="matrix(0 1 -1 0 83.0 88.8)" >INGENIA</text>
<text x="0" y="0" font-family="Liberation Sans, sans-serif" font-weight="bold" font-size="22.5" fill="#fff" stroke="#333" stroke-width="1" transform="matrix(0 -1 1 0 500.8 157.6)" >C</text>
<text x="0" y="0" textLength="13.6" lengthAdjust="spacingAndGlyphs" font-family="Liberation Sans, sans-serif" font-weight="bold" font-size="21.7" fill="#fff" stroke="#333" stroke-width="1" transform="matrix(0 -1 1 0 500.8 213.3)" >B</text>
<text x="0" y="0" textLength="16.2" lengthAdjust="spacingAndGlyphs" font-family="Liberation Sans, sans-serif" font-weight="bold" font-size="21.7" fill="#fff" stroke="#333" stroke-width="1" transform="matrix(0 -1 1 0 500.8 275)" >A</text>
<circle cx="571.6" cy="45.9" r="29.6" fill="#fff" stroke="#000" stroke-width="3.2" />
<circle cx="949.5" cy="45.9" r="29.6" fill="#fff" stroke="#000" stroke-width="3.2" />
<circle cx="571.6" cy="339.1" r="29.6" fill="url(#gg)" stroke="#000" stroke-width="3.2" />
<circle cx="951.5" cy="339.6" r="29.6" fill="#fff" stroke="#000" stroke-width="3.2" />
<g font-family="Liberation Sans, sans-serif" font-size="38.5" fill="#000" stroke="#000" stroke-width="1.1" text-anchor="middle">
<text x="0" y="63.6" transform="translate(571,0) scale(1.02,1)">2</text>
<text x="0" y="63.4" transform="translate(948.5,0) scale(0.905,1)">80</text>
<text x="0" y="356.6" transform="translate(950.4,0) scale(0.905,1)">79</text>
</g>
<path d="M563.5,330.6 L573.3,329.8 L573.3,356.1 L569,356.1 L569,334.6 L563.5,334.6 Z" fill="#000" stroke="none" stroke-width="1" />
<line x1="571.2" y1="77" x2="571.2" y2="130" stroke="#000" stroke-width="3" />
<path d="M563.7,128.9 L578.7,128.9 L571.2,143 Z" fill="#000" stroke="none" stroke-width="1" />
<line x1="948.8" y1="77" x2="948.8" y2="130" stroke="#000" stroke-width="3" />
<path d="M941.3,128.9 L956.6,128.9 L948.9,143 Z" fill="#000" stroke="none" stroke-width="1" />
<line x1="571" y1="255" x2="571" y2="308" stroke="#000" stroke-width="3" />
<path d="M563.7,256.6 L578.2,256.6 L571,242.9 Z" fill="#000" stroke="none" stroke-width="1" />
<line x1="949.5" y1="255" x2="951" y2="308" stroke="#000" stroke-width="3" />
<path d="M942.2,256.6 L956.7,256.6 L949.5,242.9 Z" fill="#000" stroke="none" stroke-width="1" />
<path d="M568.4,156.25 L568.4,150.4 Q568.4,148.9 569.9,148.9 L572.1,148.9 Q573.6,148.9 573.6,150.4 L573.6,156.25" fill="none" stroke="#2a2a2a" stroke-width="1.15" />
<path d="M568.4,229.75 L568.4,236.2 Q568.4,237.7 569.9,237.7 L572.1,237.7 Q573.6,237.7 573.6,236.2 L573.6,229.75" fill="none" stroke="#2a2a2a" stroke-width="1.15" />
<path d="M578.09,156.25 L578.09,150.4 Q578.09,148.9 579.59,148.9 L581.79,148.9 Q583.29,148.9 583.29,150.4 L583.29,156.25" fill="none" stroke="#2a2a2a" stroke-width="1.15" />
<path d="M578.09,229.75 L578.09,236.2 Q578.09,237.7 579.59,237.7 L581.79,237.7 Q583.29,237.7 583.29,236.2 L583.29,229.75" fill="none" stroke="#2a2a2a" stroke-width="1.15" />
<path d="M587.78,156.25 L587.78,150.4 Q587.78,148.9 589.28,148.9 L591.48,148.9 Q592.98,148.9 592.98,150.4 L592.98,156.25" fill="none" stroke="#2a2a2a" stroke-width="1.15" />
<path d="M587.78,229.75 L587.78,236.2 Q587.78,237.7 589.28,237.7 L591.48,237.7 Q592.98,237.7 592.98,236.2 L592.98,229.75" fill="none" stroke="#2a2a2a" stroke-width="1.15" />
<path d="M597.47,156.25 L597.47,150.4 Q597.47,148.9 598.97,148.9 L601.17,148.9 Q602.67,148.9 602.67,150.4 L602.67,156.25" fill="none" stroke="#2a2a2a" stroke-width="1.15" />
<path d="M597.47,229.75 L597.47,236.2 Q597.47,237.7 598.97,237.7 L601.17,237.7 Q602.67,237.7 602.67,236.2 L602.67,229.75" fill="none" stroke="#2a2a2a" stroke-width="1.15" />
<path d="M607.16,156.25 L607.16,150.4 Q607.16,148.9 608.66,148.9 L610.86,148.9 Q612.36,148.9 612.36,150.4 L612.36,156.25" fill="none" stroke="#2a2a2a" stroke-width="1.15" />
<path d="M607.16,229.75 L607.16,236.2 Q607.16,237.7 608.66,237.7 L610.86,237.7 Q612.36,237.7 612.36,236.2 L612.36,229.75" fill="none" stroke="#2a2a2a" stroke-width="1.15" />
<path d="M616.85,156.25 L616.85,150.4 Q616.85,148.9 618.35,148.9 L620.55,148.9 Q622.05,148.9 622.05,150.4 L622.05,156.25" fill="none" stroke="#2a2a2a" stroke-width="1.15" />
<path d="M616.85,229.75 L616.85,236.2 Q616.85,237.7 618.35,237.7 L620.55,237.7 Q622.05,237.7 622.05,236.2 L622.05,229.75" fill="none" stroke="#2a2a2a" stroke-width="1.15" />
<path d="M626.54,156.25 L626.54,150.4 Q626.54,148.9 628.04,148.9 L630.24,148.9 Q631.74,148.9 631.74,150.4 L631.74,156.25" fill="none" stroke="#2a2a2a" stroke-width="1.15" />
<path d="M626.54,229.75 L626.54,236.2 Q626.54,237.7 628.04,237.7 L630.24,237.7 Q631.74,237.7 631.74,236.2 L631.74,229.75" fill="none" stroke="#2a2a2a" stroke-width="1.15" />
<path d="M636.23,156.25 L636.23,150.4 Q636.23,148.9 637.73,148.9 L639.93,148.9 Q641.43,148.9 641.43,150.4 L641.43,156.25" fill="none" stroke="#2a2a2a" stroke-width="1.15" />
<path d="M636.23,229.75 L636.23,236.2 Q636.23,237.7 637.73,237.7 L639.93,237.7 Q641.43,237.7 641.43,236.2 L641.43,229.75" fill="none" stroke="#2a2a2a" stroke-width="1.15" />
<path d="M645.92,156.25 L645.92,150.4 Q645.92,148.9 647.42,148.9 L649.62,148.9 Q651.12,148.9 651.12,150.4 L651.12,156.25" fill="none" stroke="#2a2a2a" stroke-width="1.15" />
<path d="M645.92,229.75 L645.92,236.2 Q645.92,237.7 647.42,237.7 L649.62,237.7 Q651.12,237.7 651.12,236.2 L651.12,229.75" fill="none" stroke="#2a2a2a" stroke-width="1.15" />
<path d="M655.61,156.25 L655.61,150.4 Q655.61,148.9 657.11,148.9 L659.31,148.9 Q660.81,148.9 660.81,150.4 L660.81,156.25" fill="none" stroke="#2a2a2a" stroke-width="1.15" />
<path d="M655.61,229.75 L655.61,236.2 Q655.61,237.7 657.11,237.7 L659.31,237.7 Q660.81,237.7 660.81,236.2 L660.81,229.75" fill="none" stroke="#2a2a2a" stroke-width="1.15" />
<path d="M665.3,156.25 L665.3,150.4 Q665.3,148.9 666.8,148.9 L669,148.9 Q670.5,148.9 670.5,150.4 L670.5,156.25" fill="none" stroke="#2a2a2a" stroke-width="1.15" />
<path d="M665.3,229.75 L665.3,236.2 Q665.3,237.7 666.8,237.7 L669,237.7 Q670.5,237.7 670.5,236.2 L670.5,229.75" fill="none" stroke="#2a2a2a" stroke-width="1.15" />
<path d="M674.99,156.25 L674.99,150.4 Q674.99,148.9 676.49,148.9 L678.69,148.9 Q680.19,148.9 680.19,150.4 L680.19,156.25" fill="none" stroke="#2a2a2a" stroke-width="1.15" />
<path d="M674.99,229.75 L674.99,236.2 Q674.99,237.7 676.49,237.7 L678.69,237.7 Q680.19,237.7 680.19,236.2 L680.19,229.75" fill="none" stroke="#2a2a2a" stroke-width="1.15" />
<path d="M684.68,156.25 L684.68,150.4 Q684.68,148.9 686.18,148.9 L688.38,148.9 Q689.88,148.9 689.88,150.4 L689.88,156.25" fill="none" stroke="#2a2a2a" stroke-width="1.15" />
<path d="M684.68,229.75 L684.68,236.2 Q684.68,237.7 686.18,237.7 L688.38,237.7 Q689.88,237.7 689.88,236.2 L689.88,229.75" fill="none" stroke="#2a2a2a" stroke-width="1.15" />
<path d="M694.37,156.25 L694.37,150.4 Q694.37,148.9 695.87,148.9 L698.07,148.9 Q699.57,148.9 699.57,150.4 L699.57,156.25" fill="none" stroke="#2a2a2a" stroke-width="1.15" />
<path d="M694.37,229.75 L694.37,236.2 Q694.37,237.7 695.87,237.7 L698.07,237.7 Q699.57,237.7 699.57,236.2 L699.57,229.75" fill="none" stroke="#2a2a2a" stroke-width="1.15" />
<path d="M704.06,156.25 L704.06,150.4 Q704.06,148.9 705.56,148.9 L707.76,148.9 Q709.26,148.9 709.26,150.4 L709.26,156.25" fill="none" stroke="#2a2a2a" stroke-width="1.15" />
<path d="M704.06,229.75 L704.06,236.2 Q704.06,237.7 705.56,237.7 L707.76,237.7 Q709.26,237.7 709.26,236.2 L709.26,229.75" fill="none" stroke="#2a2a2a" stroke-width="1.15" />
<path d="M713.75,156.25 L713.75,150.4 Q713.75,148.9 715.25,148.9 L717.45,148.9 Q718.95,148.9 718.95,150.4 L718.95,156.25" fill="none" stroke="#2a2a2a" stroke-width="1.15" />
<path d="M713.75,229.75 L713.75,236.2 Q713.75,237.7 715.25,237.7 L717.45,237.7 Q718.95,237.7 718.95,236.2 L718.95,229.75" fill="none" stroke="#2a2a2a" stroke-width="1.15" />
<path d="M723.44,156.25 L723.44,150.4 Q723.44,148.9 724.94,148.9 L727.14,148.9 Q728.64,148.9 728.64,150.4 L728.64,156.25" fill="none" stroke="#2a2a2a" stroke-width="1.15" />
<path d="M723.44,229.75 L723.44,236.2 Q723.44,237.7 724.94,237.7 L727.14,237.7 Q728.64,237.7 728.64,236.2 L728.64,229.75" fill="none" stroke="#2a2a2a" stroke-width="1.15" />
<path d="M733.13,156.25 L733.13,150.4 Q733.13,148.9 734.63,148.9 L736.83,148.9 Q738.33,148.9 738.33,150.4 L738.33,156.25" fill="none" stroke="#2a2a2a" stroke-width="1.15" />
<path d="M733.13,229.75 L733.13,236.2 Q733.13,237.7 734.63,237.7 L736.83,237.7 Q738.33,237.7 738.33,236.2 L738.33,229.75" fill="none" stroke="#2a2a2a" stroke-width="1.15" />
<path d="M742.82,156.25 L742.82,150.4 Q742.82,148.9 744.32,148.9 L746.52,148.9 Q748.02,148.9 748.02,150.4 L748.02,156.25" fill="none" stroke="#2a2a2a" stroke-width="1.15" />
<path d="M742.82,229.75 L742.82,236.2 Q742.82,237.7 744.32,237.7 L746.52,237.7 Q748.02,237.7 748.02,236.2 L748.02,229.75" fill="none" stroke="#2a2a2a" stroke-width="1.15" />
<path d="M752.51,156.25 L752.51,150.4 Q752.51,148.9 754.01,148.9 L756.21,148.9 Q757.71,148.9 757.71,150.4 L757.71,156.25" fill="none" stroke="#2a2a2a" stroke-width="1.15" />
<path d="M752.51,229.75 L752.51,236.2 Q752.51,237.7 754.01,237.7 L756.21,237.7 Q757.71,237.7 757.71,236.2 L757.71,229.75" fill="none" stroke="#2a2a2a" stroke-width="1.15" />
<path d="M762.19,156.25 L762.19,150.4 Q762.19,148.9 763.69,148.9 L765.89,148.9 Q767.39,148.9 767.39,150.4 L767.39,156.25" fill="none" stroke="#2a2a2a" stroke-width="1.15" />
<path d="M762.19,229.75 L762.19,236.2 Q762.19,237.7 763.69,237.7 L765.89,237.7 Q767.39,237.7 767.39,236.2 L767.39,229.75" fill="none" stroke="#2a2a2a" stroke-width="1.15" />
<path d="M771.88,156.25 L771.88,150.4 Q771.88,148.9 773.38,148.9 L775.58,148.9 Q777.08,148.9 777.08,150.4 L777.08,156.25" fill="none" stroke="#2a2a2a" stroke-width="1.15" />
<path d="M771.88,229.75 L771.88,236.2 Q771.88,237.7 773.38,237.7 L775.58,237.7 Q777.08,237.7 777.08,236.2 L777.08,229.75" fill="none" stroke="#2a2a2a" stroke-width="1.15" />
<path d="M781.57,156.25 L781.57,150.4 Q781.57,148.9 783.07,148.9 L785.27,148.9 Q786.77,148.9 786.77,150.4 L786.77,156.25" fill="none" stroke="#2a2a2a" stroke-width="1.15" />
<path d="M781.57,229.75 L781.57,236.2 Q781.57,237.7 783.07,237.7 L785.27,237.7 Q786.77,237.7 786.77,236.2 L786.77,229.75" fill="none" stroke="#2a2a2a" stroke-width="1.15" />
<path d="M791.26,156.25 L791.26,150.4 Q791.26,148.9 792.76,148.9 L794.96,148.9 Q796.46,148.9 796.46,150.4 L796.46,156.25" fill="none" stroke="#2a2a2a" stroke-width="1.15" />
<path d="M791.26,229.75 L791.26,236.2 Q791.26,237.7 792.76,237.7 L794.96,237.7 Q796.46,237.7 796.46,236.2 L796.46,229.75" fill="none" stroke="#2a2a2a" stroke-width="1.15" />
<path d="M800.95,156.25 L800.95,150.4 Q800.95,148.9 802.45,148.9 L804.65,148.9 Q806.15,148.9 806.15,150.4 L806.15,156.25" fill="none" stroke="#2a2a2a" stroke-width="1.15" />
<path d="M800.95,229.75 L800.95,236.2 Q800.95,237.7 802.45,237.7 L804.65,237.7 Q806.15,237.7 806.15,236.2 L806.15,229.75" fill="none" stroke="#2a2a2a" stroke-width="1.15" />
<path d="M810.64,156.25 L810.64,150.4 Q810.64,148.9 812.14,148.9 L814.34,148.9 Q815.84,148.9 815.84,150.4 L815.84,156.25" fill="none" stroke="#2a2a2a" stroke-width="1.15" />
<path d="M810.64,229.75 L810.64,236.2 Q810.64,237.7 812.14,237.7 L814.34,237.7 Q815.84,237.7 815.84,236.2 L815.84,229.75" fill="none" stroke="#2a2a2a" stroke-width="1.15" />
<path d="M820.33,156.25 L820.33,150.4 Q820.33,148.9 821.83,148.9 L824.03,148.9 Q825.53,148.9 825.53,150.4 L825.53,156.25" fill="none" stroke="#2a2a2a" stroke-width="1.15" />
<path d="M820.33,229.75 L820.33,236.2 Q820.33,237.7 821.83,237.7 L824.03,237.7 Q825.53,237.7 825.53,236.2 L825.53,229.75" fill="none" stroke="#2a2a2a" stroke-width="1.15" />
<path d="M830.02,156.25 L830.02,150.4 Q830.02,148.9 831.52,148.9 L833.72,148.9 Q835.22,148.9 835.22,150.4 L835.22,156.25" fill="none" stroke="#2a2a2a" stroke-width="1.15" />
<path d="M830.02,229.75 L830.02,236.2 Q830.02,237.7 831.52,237.7 L833.72,237.7 Q835.22,237.7 835.22,236.2 L835.22,229.75" fill="none" stroke="#2a2a2a" stroke-width="1.15" />
<path d="M839.71,156.25 L839.71,150.4 Q839.71,148.9 841.21,148.9 L843.41,148.9 Q844.91,148.9 844.91,150.4 L844.91,156.25" fill="none" stroke="#2a2a2a" stroke-width="1.15" />
<path d="M839.71,229.75 L839.71,236.2 Q839.71,237.7 841.21,237.7 L843.41,237.7 Q844.91,237.7 844.91,236.2 L844.91,229.75" fill="none" stroke="#2a2a2a" stroke-width="1.15" />
<path d="M849.4,156.25 L849.4,150.4 Q849.4,148.9 850.9,148.9 L853.1,148.9 Q854.6,148.9 854.6,150.4 L854.6,156.25" fill="none" stroke="#2a2a2a" stroke-width="1.15" />
<path d="M849.4,229.75 L849.4,236.2 Q849.4,237.7 850.9,237.7 L853.1,237.7 Q854.6,237.7 854.6,236.2 L854.6,229.75" fill="none" stroke="#2a2a2a" stroke-width="1.15" />
<path d="M859.09,156.25 L859.09,150.4 Q859.09,148.9 860.59,148.9 L862.79,148.9 Q864.29,148.9 864.29,150.4 L864.29,156.25" fill="none" stroke="#2a2a2a" stroke-width="1.15" />
<path d="M859.09,229.75 L859.09,236.2 Q859.09,237.7 860.59,237.7 L862.79,237.7 Q864.29,237.7 864.29,236.2 L864.29,229.75" fill="none" stroke="#2a2a2a" stroke-width="1.15" />
<path d="M868.78,156.25 L868.78,150.4 Q868.78,148.9 870.28,148.9 L872.48,148.9 Q873.98,148.9 873.98,150.4 L873.98,156.25" fill="none" stroke="#2a2a2a" stroke-width="1.15" />
<path d="M868.78,229.75 L868.78,236.2 Q868.78,237.7 870.28,237.7 L872.48,237.7 Q873.98,237.7 873.98,236.2 L873.98,229.75" fill="none" stroke="#2a2a2a" stroke-width="1.15" />
<path d="M878.47,156.25 L878.47,150.4 Q878.47,148.9 879.97,148.9 L882.17,148.9 Q883.67,148.9 883.67,150.4 L883.67,156.25" fill="none" stroke="#2a2a2a" stroke-width="1.15" />
<path d="M878.47,229.75 L878.47,236.2 Q878.47,237.7 879.97,237.7 L882.17,237.7 Q883.67,237.7 883.67,236.2 L883.67,229.75" fill="none" stroke="#2a2a2a" stroke-width="1.15" />
<path d="M888.16,156.25 L888.16,150.4 Q888.16,148.9 889.66,148.9 L891.86,148.9 Q893.36,148.9 893.36,150.4 L893.36,156.25" fill="none" stroke="#2a2a2a" stroke-width="1.15" />
<path d="M888.16,229.75 L888.16,236.2 Q888.16,237.7 889.66,237.7 L891.86,237.7 Q893.36,237.7 893.36,236.2 L893.36,229.75" fill="none" stroke="#2a2a2a" stroke-width="1.15" />
<path d="M897.85,156.25 L897.85,150.4 Q897.85,148.9 899.35,148.9 L901.55,148.9 Q903.05,148.9 903.05,150.4 L903.05,156.25" fill="none" stroke="#2a2a2a" stroke-width="1.15" />
<path d="M897.85,229.75 L897.85,236.2 Q897.85,237.7 899.35,237.7 L901.55,237.7 Q903.05,237.7 903.05,236.2 L903.05,229.75" fill="none" stroke="#2a2a2a" stroke-width="1.15" />
<path d="M907.54,156.25 L907.54,150.4 Q907.54,148.9 909.04,148.9 L911.24,148.9 Q912.74,148.9 912.74,150.4 L912.74,156.25" fill="none" stroke="#2a2a2a" stroke-width="1.15" />
<path d="M907.54,229.75 L907.54,236.2 Q907.54,237.7 909.04,237.7 L911.24,237.7 Q912.74,237.7 912.74,236.2 L912.74,229.75" fill="none" stroke="#2a2a2a" stroke-width="1.15" />
<path d="M917.23,156.25 L917.23,150.4 Q917.23,148.9 918.73,148.9 L920.93,148.9 Q922.43,148.9 922.43,150.4 L922.43,156.25" fill="none" stroke="#2a2a2a" stroke-width="1.15" />
<path d="M917.23,229.75 L917.23,236.2 Q917.23,237.7 918.73,237.7 L920.93,237.7 Q922.43,237.7 922.43,236.2 L922.43,229.75" fill="none" stroke="#2a2a2a" stroke-width="1.15" />
<path d="M926.92,156.25 L926.92,150.4 Q926.92,148.9 928.42,148.9 L930.62,148.9 Q932.12,148.9 932.12,150.4 L932.12,156.25" fill="none" stroke="#2a2a2a" stroke-width="1.15" />
<path d="M926.92,229.75 L926.92,236.2 Q926.92,237.7 928.42,237.7 L930.62,237.7 Q932.12,237.7 932.12,236.2 L932.12,229.75" fill="none" stroke="#2a2a2a" stroke-width="1.15" />
<path d="M936.61,156.25 L936.61,150.4 Q936.61,148.9 938.11,148.9 L940.31,148.9 Q941.81,148.9 941.81,150.4 L941.81,156.25" fill="none" stroke="#2a2a2a" stroke-width="1.15" />
<path d="M936.61,229.75 L936.61,236.2 Q936.61,237.7 938.11,237.7 L940.31,237.7 Q941.81,237.7 941.81,236.2 L941.81,229.75" fill="none" stroke="#2a2a2a" stroke-width="1.15" />
<path d="M946.3,156.25 L946.3,150.4 Q946.3,148.9 947.8,148.9 L950,148.9 Q951.5,148.9 951.5,150.4 L951.5,156.25" fill="none" stroke="#2a2a2a" stroke-width="1.15" />
<path d="M946.3,229.75 L946.3,236.2 Q946.3,237.7 947.8,237.7 L950,237.7 Q951.5,237.7 951.5,236.2 L951.5,229.75" fill="none" stroke="#2a2a2a" stroke-width="1.15" />
<rect x="544.4" y="156.25" width="431" height="73.5" rx="0" fill="none" stroke="#111" stroke-width="1.3" />
<path d="M557,180 L557,167.3 L962,167.3 L962,181" fill="none" stroke="#333" stroke-width="1.1" />
<line x1="557.5" y1="168" x2="557.5" y2="180" stroke="#666" stroke-width="1.8" />
<line x1="961.5" y1="168" x2="961.5" y2="181" stroke="#666" stroke-width="1.8" />
<line x1="557.5" y1="205" x2="557.5" y2="218" stroke="#666" stroke-width="1.8" />
<line x1="961.5" y1="206" x2="961.5" y2="218" stroke="#666" stroke-width="1.8" />
<path d="M559,180 L559,169.5 L960,169.5 L960,181" fill="none" stroke="#777" stroke-width="1" />
<path d="M557,205 L557,218.8 L962,218.8 L962,206" fill="none" stroke="#222" stroke-width="1.1" />
<path d="M559,205 L559,216.0 L960,216.0 L960,206" fill="none" stroke="#777" stroke-width="1" />
<path d="M544.4,180 L562,180 L562,205 L544.4,205" fill="none" stroke="#666" stroke-width="2.2" />
<path d="M975.4,181 L957.5,181 L957.5,206 L975.4,206" fill="none" stroke="#666" stroke-width="2.2" />
<path d="M544.4,178 L535.5,178 L535.5,193 L538,193 L538,197 L535.5,197 L535.5,208 L544.4,208" fill="none" stroke="#444" stroke-width="1" />
<line x1="538" y1="179" x2="538" y2="192" stroke="#888" stroke-width="1" />
<line x1="540.5" y1="179" x2="540.5" y2="192" stroke="#888" stroke-width="1" />
<path d="M975.4,178.5 L984.5,178.5 L984.5,193 L982,193 L982,197 L984.5,197 L984.5,208 L975.4,208" fill="none" stroke="#444" stroke-width="1" />
<line x1="982" y1="179" x2="982" y2="192" stroke="#888" stroke-width="1" />
<line x1="979.5" y1="179" x2="979.5" y2="192" stroke="#888" stroke-width="1" />
<rect x="568.4" y="164.4" width="5.2" height="7.6" rx="1" fill="#fff" stroke="#111" stroke-width="1.4" />
<rect x="568.4" y="214.6" width="5.2" height="7.6" rx="1" fill="#fff" stroke="#111" stroke-width="1.4" />
<rect x="568.5" y="181.5" width="5" height="4.5" rx="1.2" fill="#222" stroke="#111" stroke-width="0.8" />
<line x1="569.5" y1="184.6" x2="572.5" y2="184.6" stroke="#fff" stroke-width="1.1" />
<rect x="568.5" y="200.8" width="5" height="4.5" rx="1.2" fill="#222" stroke="#111" stroke-width="0.8" />
<line x1="569.5" y1="203.9" x2="572.5" y2="203.9" stroke="#fff" stroke-width="1.1" />
<rect x="578.09" y="164.4" width="5.2" height="7.6" rx="1" fill="#fff" stroke="#111" stroke-width="1.4" />
<rect x="578.09" y="214.6" width="5.2" height="7.6" rx="1" fill="#fff" stroke="#111" stroke-width="1.4" />
<rect x="578.19" y="181.5" width="5" height="4.5" rx="1.2" fill="#222" stroke="#111" stroke-width="0.8" />
<line x1="579.19" y1="184.6" x2="582.19" y2="184.6" stroke="#fff" stroke-width="1.1" />
<rect x="578.19" y="200.8" width="5" height="4.5" rx="1.2" fill="#222" stroke="#111" stroke-width="0.8" />
<line x1="579.19" y1="203.9" x2="582.19" y2="203.9" stroke="#fff" stroke-width="1.1" />
<rect x="587.78" y="164.4" width="5.2" height="7.6" rx="1" fill="#fff" stroke="#111" stroke-width="1.4" />
<rect x="587.78" y="214.6" width="5.2" height="7.6" rx="1" fill="#fff" stroke="#111" stroke-width="1.4" />
<rect x="587.88" y="181.5" width="5" height="4.5" rx="1.2" fill="#222" stroke="#111" stroke-width="0.8" />
<line x1="588.88" y1="184.6" x2="591.88" y2="184.6" stroke="#fff" stroke-width="1.1" />
<rect x="587.88" y="200.8" width="5" height="4.5" rx="1.2" fill="#222" stroke="#111" stroke-width="0.8" />
<line x1="588.88" y1="203.9" x2="591.88" y2="203.9" stroke="#fff" stroke-width="1.1" />
<rect x="597.47" y="164.4" width="5.2" height="7.6" rx="1" fill="#fff" stroke="#111" stroke-width="1.4" />
<rect x="597.47" y="214.6" width="5.2" height="7.6" rx="1" fill="#fff" stroke="#111" stroke-width="1.4" />
<rect x="597.57" y="181.5" width="5" height="4.5" rx="1.2" fill="#222" stroke="#111" stroke-width="0.8" />
<line x1="598.57" y1="184.6" x2="601.57" y2="184.6" stroke="#fff" stroke-width="1.1" />
<rect x="597.57" y="200.8" width="5" height="4.5" rx="1.2" fill="#222" stroke="#111" stroke-width="0.8" />
<line x1="598.57" y1="203.9" x2="601.57" y2="203.9" stroke="#fff" stroke-width="1.1" />
<rect x="607.16" y="164.4" width="5.2" height="7.6" rx="1" fill="#fff" stroke="#111" stroke-width="1.4" />
<rect x="607.16" y="214.6" width="5.2" height="7.6" rx="1" fill="#fff" stroke="#111" stroke-width="1.4" />
<rect x="607.26" y="181.5" width="5" height="4.5" rx="1.2" fill="#222" stroke="#111" stroke-width="0.8" />
<line x1="608.26" y1="184.6" x2="611.26" y2="184.6" stroke="#fff" stroke-width="1.1" />
<rect x="607.26" y="200.8" width="5" height="4.5" rx="1.2" fill="#222" stroke="#111" stroke-width="0.8" />
<line x1="608.26" y1="203.9" x2="611.26" y2="203.9" stroke="#fff" stroke-width="1.1" />
<rect x="616.85" y="164.4" width="5.2" height="7.6" rx="1" fill="#fff" stroke="#111" stroke-width="1.4" />
<rect x="616.85" y="214.6" width="5.2" height="7.6" rx="1" fill="#fff" stroke="#111" stroke-width="1.4" />
<rect x="616.95" y="181.5" width="5" height="4.5" rx="1.2" fill="#222" stroke="#111" stroke-width="0.8" />
<line x1="617.95" y1="184.6" x2="620.95" y2="184.6" stroke="#fff" stroke-width="1.1" />
<rect x="616.95" y="200.8" width="5" height="4.5" rx="1.2" fill="#222" stroke="#111" stroke-width="0.8" />
<line x1="617.95" y1="203.9" x2="620.95" y2="203.9" stroke="#fff" stroke-width="1.1" />
<rect x="626.54" y="164.4" width="5.2" height="7.6" rx="1" fill="#fff" stroke="#111" stroke-width="1.4" />
<rect x="626.54" y="214.6" width="5.2" height="7.6" rx="1" fill="#fff" stroke="#111" stroke-width="1.4" />
<rect x="626.64" y="181.5" width="5" height="4.5" rx="1.2" fill="#222" stroke="#111" stroke-width="0.8" />
<line x1="627.64" y1="184.6" x2="630.64" y2="184.6" stroke="#fff" stroke-width="1.1" />
<rect x="626.64" y="200.8" width="5" height="4.5" rx="1.2" fill="#222" stroke="#111" stroke-width="0.8" />
<line x1="627.64" y1="203.9" x2="630.64" y2="203.9" stroke="#fff" stroke-width="1.1" />
<rect x="636.23" y="164.4" width="5.2" height="7.6" rx="1" fill="#fff" stroke="#111" stroke-width="1.4" />
<rect x="636.23" y="214.6" width="5.2" height="7.6" rx="1" fill="#fff" stroke="#111" stroke-width="1.4" />
<rect x="636.33" y="181.5" width="5" height="4.5" rx="1.2" fill="#222" stroke="#111" stroke-width="0.8" />
<line x1="637.33" y1="184.6" x2="640.33" y2="184.6" stroke="#fff" stroke-width="1.1" />
<rect x="636.33" y="200.8" width="5" height="4.5" rx="1.2" fill="#222" stroke="#111" stroke-width="0.8" />
<line x1="637.33" y1="203.9" x2="640.33" y2="203.9" stroke="#fff" stroke-width="1.1" />
<rect x="645.92" y="164.4" width="5.2" height="7.6" rx="1" fill="#fff" stroke="#111" stroke-width="1.4" />
<rect x="645.92" y="214.6" width="5.2" height="7.6" rx="1" fill="#fff" stroke="#111" stroke-width="1.4" />
<rect x="646.02" y="181.5" width="5" height="4.5" rx="1.2" fill="#222" stroke="#111" stroke-width="0.8" />
<line x1="647.02" y1="184.6" x2="650.02" y2="184.6" stroke="#fff" stroke-width="1.1" />
<rect x="646.02" y="200.8" width="5" height="4.5" rx="1.2" fill="#222" stroke="#111" stroke-width="0.8" />
<line x1="647.02" y1="203.9" x2="650.02" y2="203.9" stroke="#fff" stroke-width="1.1" />
<rect x="655.61" y="164.4" width="5.2" height="7.6" rx="1" fill="#fff" stroke="#111" stroke-width="1.4" />
<rect x="655.61" y="214.6" width="5.2" height="7.6" rx="1" fill="#fff" stroke="#111" stroke-width="1.4" />
<rect x="655.71" y="181.5" width="5" height="4.5" rx="1.2" fill="#222" stroke="#111" stroke-width="0.8" />
<line x1="656.71" y1="184.6" x2="659.71" y2="184.6" stroke="#fff" stroke-width="1.1" />
<rect x="655.71" y="200.8" width="5" height="4.5" rx="1.2" fill="#222" stroke="#111" stroke-width="0.8" />
<line x1="656.71" y1="203.9" x2="659.71" y2="203.9" stroke="#fff" stroke-width="1.1" />
<rect x="665.3" y="164.4" width="5.2" height="7.6" rx="1" fill="#fff" stroke="#111" stroke-width="1.4" />
<rect x="665.3" y="214.6" width="5.2" height="7.6" rx="1" fill="#fff" stroke="#111" stroke-width="1.4" />
<rect x="665.4" y="181.5" width="5" height="4.5" rx="1.2" fill="#222" stroke="#111" stroke-width="0.8" />
<line x1="666.4" y1="184.6" x2="669.4" y2="184.6" stroke="#fff" stroke-width="1.1" />
<rect x="665.4" y="200.8" width="5" height="4.5" rx="1.2" fill="#222" stroke="#111" stroke-width="0.8" />
<line x1="666.4" y1="203.9" x2="669.4" y2="203.9" stroke="#fff" stroke-width="1.1" />
<rect x="674.99" y="164.4" width="5.2" height="7.6" rx="1" fill="#fff" stroke="#111" stroke-width="1.4" />
<rect x="674.99" y="214.6" width="5.2" height="7.6" rx="1" fill="#fff" stroke="#111" stroke-width="1.4" />
<rect x="675.09" y="181.5" width="5" height="4.5" rx="1.2" fill="#222" stroke="#111" stroke-width="0.8" />
<line x1="676.09" y1="184.6" x2="679.09" y2="184.6" stroke="#fff" stroke-width="1.1" />
<rect x="675.09" y="200.8" width="5" height="4.5" rx="1.2" fill="#222" stroke="#111" stroke-width="0.8" />
<line x1="676.09" y1="203.9" x2="679.09" y2="203.9" stroke="#fff" stroke-width="1.1" />
<rect x="684.68" y="164.4" width="5.2" height="7.6" rx="1" fill="#fff" stroke="#111" stroke-width="1.4" />
<rect x="684.68" y="214.6" width="5.2" height="7.6" rx="1" fill="#fff" stroke="#111" stroke-width="1.4" />
<rect x="684.78" y="181.5" width="5" height="4.5" rx="1.2" fill="#222" stroke="#111" stroke-width="0.8" />
<line x1="685.78" y1="184.6" x2="688.78" y2="184.6" stroke="#fff" stroke-width="1.1" />
<rect x="684.78" y="200.8" width="5" height="4.5" rx="1.2" fill="#222" stroke="#111" stroke-width="0.8" />
<line x1="685.78" y1="203.9" x2="688.78" y2="203.9" stroke="#fff" stroke-width="1.1" />
<rect x="694.37" y="164.4" width="5.2" height="7.6" rx="1" fill="#fff" stroke="#111" stroke-width="1.4" />
<rect x="694.37" y="214.6" width="5.2" height="7.6" rx="1" fill="#fff" stroke="#111" stroke-width="1.4" />
<rect x="694.47" y="181.5" width="5" height="4.5" rx="1.2" fill="#222" stroke="#111" stroke-width="0.8" />
<line x1="695.47" y1="184.6" x2="698.47" y2="184.6" stroke="#fff" stroke-width="1.1" />
<rect x="694.47" y="200.8" width="5" height="4.5" rx="1.2" fill="#222" stroke="#111" stroke-width="0.8" />
<line x1="695.47" y1="203.9" x2="698.47" y2="203.9" stroke="#fff" stroke-width="1.1" />
<rect x="704.06" y="164.4" width="5.2" height="7.6" rx="1" fill="#fff" stroke="#111" stroke-width="1.4" />
<rect x="704.06" y="214.6" width="5.2" height="7.6" rx="1" fill="#fff" stroke="#111" stroke-width="1.4" />
<rect x="704.16" y="181.5" width="5" height="4.5" rx="1.2" fill="#222" stroke="#111" stroke-width="0.8" />
<line x1="705.16" y1="184.6" x2="708.16" y2="184.6" stroke="#fff" stroke-width="1.1" />
<rect x="704.16" y="200.8" width="5" height="4.5" rx="1.2" fill="#222" stroke="#111" stroke-width="0.8" />
<line x1="705.16" y1="203.9" x2="708.16" y2="203.9" stroke="#fff" stroke-width="1.1" />
<rect x="713.75" y="164.4" width="5.2" height="7.6" rx="1" fill="#fff" stroke="#111" stroke-width="1.4" />
<rect x="713.75" y="214.6" width="5.2" height="7.6" rx="1" fill="#fff" stroke="#111" stroke-width="1.4" />
<rect x="713.85" y="181.5" width="5" height="4.5" rx="1.2" fill="#222" stroke="#111" stroke-width="0.8" />
<line x1="714.85" y1="184.6" x2="717.85" y2="184.6" stroke="#fff" stroke-width="1.1" />
<rect x="713.85" y="200.8" width="5" height="4.5" rx="1.2" fill="#222" stroke="#111" stroke-width="0.8" />
<line x1="714.85" y1="203.9" x2="717.85" y2="203.9" stroke="#fff" stroke-width="1.1" />
<rect x="723.44" y="164.4" width="5.2" height="7.6" rx="1" fill="#fff" stroke="#111" stroke-width="1.4" />
<rect x="723.44" y="214.6" width="5.2" height="7.6" rx="1" fill="#fff" stroke="#111" stroke-width="1.4" />
<rect x="723.54" y="181.5" width="5" height="4.5" rx="1.2" fill="#222" stroke="#111" stroke-width="0.8" />
<line x1="724.54" y1="184.6" x2="727.54" y2="184.6" stroke="#fff" stroke-width="1.1" />
<rect x="723.54" y="200.8" width="5" height="4.5" rx="1.2" fill="#222" stroke="#111" stroke-width="0.8" />
<line x1="724.54" y1="203.9" x2="727.54" y2="203.9" stroke="#fff" stroke-width="1.1" />
<rect x="733.13" y="164.4" width="5.2" height="7.6" rx="1" fill="#fff" stroke="#111" stroke-width="1.4" />
<rect x="733.13" y="214.6" width="5.2" height="7.6" rx="1" fill="#fff" stroke="#111" stroke-width="1.4" />
<rect x="733.23" y="181.5" width="5" height="4.5" rx="1.2" fill="#222" stroke="#111" stroke-width="0.8" />
<line x1="734.23" y1="184.6" x2="737.23" y2="184.6" stroke="#fff" stroke-width="1.1" />
<rect x="733.23" y="200.8" width="5" height="4.5" rx="1.2" fill="#222" stroke="#111" stroke-width="0.8" />
<line x1="734.23" y1="203.9" x2="737.23" y2="203.9" stroke="#fff" stroke-width="1.1" />
<rect x="742.82" y="164.4" width="5.2" height="7.6" rx="1" fill="#fff" stroke="#111" stroke-width="1.4" />
<rect x="742.82" y="214.6" width="5.2" height="7.6" rx="1" fill="#fff" stroke="#111" stroke-width="1.4" />
<rect x="742.92" y="181.5" width="5" height="4.5" rx="1.2" fill="#222" stroke="#111" stroke-width="0.8" />
<line x1="743.92" y1="184.6" x2="746.92" y2="184.6" stroke="#fff" stroke-width="1.1" />
<rect x="742.92" y="200.8" width="5" height="4.5" rx="1.2" fill="#222" stroke="#111" stroke-width="0.8" />
<line x1="743.92" y1="203.9" x2="746.92" y2="203.9" stroke="#fff" stroke-width="1.1" />
<rect x="752.51" y="164.4" width="5.2" height="7.6" rx="1" fill="#fff" stroke="#111" stroke-width="1.4" />
<rect x="752.51" y="214.6" width="5.2" height="7.6" rx="1" fill="#fff" stroke="#111" stroke-width="1.4" />
<rect x="752.61" y="181.5" width="5" height="4.5" rx="1.2" fill="#222" stroke="#111" stroke-width="0.8" />
<line x1="753.61" y1="184.6" x2="756.61" y2="184.6" stroke="#fff" stroke-width="1.1" />
<rect x="752.61" y="200.8" width="5" height="4.5" rx="1.2" fill="#222" stroke="#111" stroke-width="0.8" />
<line x1="753.61" y1="203.9" x2="756.61" y2="203.9" stroke="#fff" stroke-width="1.1" />
<rect x="762.19" y="164.4" width="5.2" height="7.6" rx="1" fill="#fff" stroke="#111" stroke-width="1.4" />
<rect x="762.19" y="214.6" width="5.2" height="7.6" rx="1" fill="#fff" stroke="#111" stroke-width="1.4" />
<rect x="762.29" y="181.5" width="5" height="4.5" rx="1.2" fill="#222" stroke="#111" stroke-width="0.8" />
<line x1="763.29" y1="184.6" x2="766.29" y2="184.6" stroke="#fff" stroke-width="1.1" />
<rect x="762.29" y="200.8" width="5" height="4.5" rx="1.2" fill="#222" stroke="#111" stroke-width="0.8" />
<line x1="763.29" y1="203.9" x2="766.29" y2="203.9" stroke="#fff" stroke-width="1.1" />
<rect x="771.88" y="164.4" width="5.2" height="7.6" rx="1" fill="#fff" stroke="#111" stroke-width="1.4" />
<rect x="771.88" y="214.6" width="5.2" height="7.6" rx="1" fill="#fff" stroke="#111" stroke-width="1.4" />
<rect x="771.98" y="181.5" width="5" height="4.5" rx="1.2" fill="#222" stroke="#111" stroke-width="0.8" />
<line x1="772.98" y1="184.6" x2="775.98" y2="184.6" stroke="#fff" stroke-width="1.1" />
<rect x="771.98" y="200.8" width="5" height="4.5" rx="1.2" fill="#222" stroke="#111" stroke-width="0.8" />
<line x1="772.98" y1="203.9" x2="775.98" y2="203.9" stroke="#fff" stroke-width="1.1" />
<rect x="781.57" y="164.4" width="5.2" height="7.6" rx="1" fill="#fff" stroke="#111" stroke-width="1.4" />
<rect x="781.57" y="214.6" width="5.2" height="7.6" rx="1" fill="#fff" stroke="#111" stroke-width="1.4" />
<rect x="781.67" y="181.5" width="5" height="4.5" rx="1.2" fill="#222" stroke="#111" stroke-width="0.8" />
<line x1="782.67" y1="184.6" x2="785.67" y2="184.6" stroke="#fff" stroke-width="1.1" />
<rect x="781.67" y="200.8" width="5" height="4.5" rx="1.2" fill="#222" stroke="#111" stroke-width="0.8" />
<line x1="782.67" y1="203.9" x2="785.67" y2="203.9" stroke="#fff" stroke-width="1.1" />
<rect x="791.26" y="164.4" width="5.2" height="7.6" rx="1" fill="#fff" stroke="#111" stroke-width="1.4" />
<rect x="791.26" y="214.6" width="5.2" height="7.6" rx="1" fill="#fff" stroke="#111" stroke-width="1.4" />
<rect x="791.36" y="181.5" width="5" height="4.5" rx="1.2" fill="#222" stroke="#111" stroke-width="0.8" />
<line x1="792.36" y1="184.6" x2="795.36" y2="184.6" stroke="#fff" stroke-width="1.1" />
<rect x="791.36" y="200.8" width="5" height="4.5" rx="1.2" fill="#222" stroke="#111" stroke-width="0.8" />
<line x1="792.36" y1="203.9" x2="795.36" y2="203.9" stroke="#fff" stroke-width="1.1" />
<rect x="800.95" y="164.4" width="5.2" height="7.6" rx="1" fill="#fff" stroke="#111" stroke-width="1.4" />
<rect x="800.95" y="214.6" width="5.2" height="7.6" rx="1" fill="#fff" stroke="#111" stroke-width="1.4" />
<rect x="801.05" y="181.5" width="5" height="4.5" rx="1.2" fill="#222" stroke="#111" stroke-width="0.8" />
<line x1="802.05" y1="184.6" x2="805.05" y2="184.6" stroke="#fff" stroke-width="1.1" />
<rect x="801.05" y="200.8" width="5" height="4.5" rx="1.2" fill="#222" stroke="#111" stroke-width="0.8" />
<line x1="802.05" y1="203.9" x2="805.05" y2="203.9" stroke="#fff" stroke-width="1.1" />
<rect x="810.64" y="164.4" width="5.2" height="7.6" rx="1" fill="#fff" stroke="#111" stroke-width="1.4" />
<rect x="810.64" y="214.6" width="5.2" height="7.6" rx="1" fill="#fff" stroke="#111" stroke-width="1.4" />
<rect x="810.74" y="181.5" width="5" height="4.5" rx="1.2" fill="#222" stroke="#111" stroke-width="0.8" />
<line x1="811.74" y1="184.6" x2="814.74" y2="184.6" stroke="#fff" stroke-width="1.1" />
<rect x="810.74" y="200.8" width="5" height="4.5" rx="1.2" fill="#222" stroke="#111" stroke-width="0.8" />
<line x1="811.74" y1="203.9" x2="814.74" y2="203.9" stroke="#fff" stroke-width="1.1" />
<rect x="820.33" y="164.4" width="5.2" height="7.6" rx="1" fill="#fff" stroke="#111" stroke-width="1.4" />
<rect x="820.33" y="214.6" width="5.2" height="7.6" rx="1" fill="#fff" stroke="#111" stroke-width="1.4" />
<rect x="820.43" y="181.5" width="5" height="4.5" rx="1.2" fill="#222" stroke="#111" stroke-width="0.8" />
<line x1="821.43" y1="184.6" x2="824.43" y2="184.6" stroke="#fff" stroke-width="1.1" />
<rect x="820.43" y="200.8" width="5" height="4.5" rx="1.2" fill="#222" stroke="#111" stroke-width="0.8" />
<line x1="821.43" y1="203.9" x2="824.43" y2="203.9" stroke="#fff" stroke-width="1.1" />
<rect x="830.02" y="164.4" width="5.2" height="7.6" rx="1" fill="#fff" stroke="#111" stroke-width="1.4" />
<rect x="830.02" y="214.6" width="5.2" height="7.6" rx="1" fill="#fff" stroke="#111" stroke-width="1.4" />
<rect x="830.12" y="181.5" width="5" height="4.5" rx="1.2" fill="#222" stroke="#111" stroke-width="0.8" />
<line x1="831.12" y1="184.6" x2="834.12" y2="184.6" stroke="#fff" stroke-width="1.1" />
<rect x="830.12" y="200.8" width="5" height="4.5" rx="1.2" fill="#222" stroke="#111" stroke-width="0.8" />
<line x1="831.12" y1="203.9" x2="834.12" y2="203.9" stroke="#fff" stroke-width="1.1" />
<rect x="839.71" y="164.4" width="5.2" height="7.6" rx="1" fill="#fff" stroke="#111" stroke-width="1.4" />
<rect x="839.71" y="214.6" width="5.2" height="7.6" rx="1" fill="#fff" stroke="#111" stroke-width="1.4" />
<rect x="839.81" y="181.5" width="5" height="4.5" rx="1.2" fill="#222" stroke="#111" stroke-width="0.8" />
<line x1="840.81" y1="184.6" x2="843.81" y2="184.6" stroke="#fff" stroke-width="1.1" />
<rect x="839.81" y="200.8" width="5" height="4.5" rx="1.2" fill="#222" stroke="#111" stroke-width="0.8" />
<line x1="840.81" y1="203.9" x2="843.81" y2="203.9" stroke="#fff" stroke-width="1.1" />
<rect x="849.4" y="164.4" width="5.2" height="7.6" rx="1" fill="#fff" stroke="#111" stroke-width="1.4" />
<rect x="849.4" y="214.6" width="5.2" height="7.6" rx="1" fill="#fff" stroke="#111" stroke-width="1.4" />
<rect x="849.5" y="181.5" width="5" height="4.5" rx="1.2" fill="#222" stroke="#111" stroke-width="0.8" />
<line x1="850.5" y1="184.6" x2="853.5" y2="184.6" stroke="#fff" stroke-width="1.1" />
<rect x="849.5" y="200.8" width="5" height="4.5" rx="1.2" fill="#222" stroke="#111" stroke-width="0.8" />
<line x1="850.5" y1="203.9" x2="853.5" y2="203.9" stroke="#fff" stroke-width="1.1" />
<rect x="859.09" y="164.4" width="5.2" height="7.6" rx="1" fill="#fff" stroke="#111" stroke-width="1.4" />
<rect x="859.09" y="214.6" width="5.2" height="7.6" rx="1" fill="#fff" stroke="#111" stroke-width="1.4" />
<rect x="859.19" y="181.5" width="5" height="4.5" rx="1.2" fill="#222" stroke="#111" stroke-width="0.8" />
<line x1="860.19" y1="184.6" x2="863.19" y2="184.6" stroke="#fff" stroke-width="1.1" />
<rect x="859.19" y="200.8" width="5" height="4.5" rx="1.2" fill="#222" stroke="#111" stroke-width="0.8" />
<line x1="860.19" y1="203.9" x2="863.19" y2="203.9" stroke="#fff" stroke-width="1.1" />
<rect x="868.78" y="164.4" width="5.2" height="7.6" rx="1" fill="#fff" stroke="#111" stroke-width="1.4" />
<rect x="868.78" y="214.6" width="5.2" height="7.6" rx="1" fill="#fff" stroke="#111" stroke-width="1.4" />
<rect x="868.88" y="181.5" width="5" height="4.5" rx="1.2" fill="#222" stroke="#111" stroke-width="0.8" />
<line x1="869.88" y1="184.6" x2="872.88" y2="184.6" stroke="#fff" stroke-width="1.1" />
<rect x="868.88" y="200.8" width="5" height="4.5" rx="1.2" fill="#222" stroke="#111" stroke-width="0.8" />
<line x1="869.88" y1="203.9" x2="872.88" y2="203.9" stroke="#fff" stroke-width="1.1" />
<rect x="878.47" y="164.4" width="5.2" height="7.6" rx="1" fill="#fff" stroke="#111" stroke-width="1.4" />
<rect x="878.47" y="214.6" width="5.2" height="7.6" rx="1" fill="#fff" stroke="#111" stroke-width="1.4" />
<rect x="878.57" y="181.5" width="5" height="4.5" rx="1.2" fill="#222" stroke="#111" stroke-width="0.8" />
<line x1="879.57" y1="184.6" x2="882.57" y2="184.6" stroke="#fff" stroke-width="1.1" />
<rect x="878.57" y="200.8" width="5" height="4.5" rx="1.2" fill="#222" stroke="#111" stroke-width="0.8" />
<line x1="879.57" y1="203.9" x2="882.57" y2="203.9" stroke="#fff" stroke-width="1.1" />
<rect x="888.16" y="164.4" width="5.2" height="7.6" rx="1" fill="#fff" stroke="#111" stroke-width="1.4" />
<rect x="888.16" y="214.6" width="5.2" height="7.6" rx="1" fill="#fff" stroke="#111" stroke-width="1.4" />
<rect x="888.26" y="181.5" width="5" height="4.5" rx="1.2" fill="#222" stroke="#111" stroke-width="0.8" />
<line x1="889.26" y1="184.6" x2="892.26" y2="184.6" stroke="#fff" stroke-width="1.1" />
<rect x="888.26" y="200.8" width="5" height="4.5" rx="1.2" fill="#222" stroke="#111" stroke-width="0.8" />
<line x1="889.26" y1="203.9" x2="892.26" y2="203.9" stroke="#fff" stroke-width="1.1" />
<rect x="897.85" y="164.4" width="5.2" height="7.6" rx="1" fill="#fff" stroke="#111" stroke-width="1.4" />
<rect x="897.85" y="214.6" width="5.2" height="7.6" rx="1" fill="#fff" stroke="#111" stroke-width="1.4" />
<rect x="897.95" y="181.5" width="5" height="4.5" rx="1.2" fill="#222" stroke="#111" stroke-width="0.8" />
<line x1="898.95" y1="184.6" x2="901.95" y2="184.6" stroke="#fff" stroke-width="1.1" />
<rect x="897.95" y="200.8" width="5" height="4.5" rx="1.2" fill="#222" stroke="#111" stroke-width="0.8" />
<line x1="898.95" y1="203.9" x2="901.95" y2="203.9" stroke="#fff" stroke-width="1.1" />
<rect x="907.54" y="164.4" width="5.2" height="7.6" rx="1" fill="#fff" stroke="#111" stroke-width="1.4" />
<rect x="907.54" y="214.6" width="5.2" height="7.6" rx="1" fill="#fff" stroke="#111" stroke-width="1.4" />
<rect x="907.64" y="181.5" width="5" height="4.5" rx="1.2" fill="#222" stroke="#111" stroke-width="0.8" />
<line x1="908.64" y1="184.6" x2="911.64" y2="184.6" stroke="#fff" stroke-width="1.1" />
<rect x="907.64" y="200.8" width="5" height="4.5" rx="1.2" fill="#222" stroke="#111" stroke-width="0.8" />
<line x1="908.64" y1="203.9" x2="911.64" y2="203.9" stroke="#fff" stroke-width="1.1" />
<rect x="917.23" y="164.4" width="5.2" height="7.6" rx="1" fill="#fff" stroke="#111" stroke-width="1.4" />
<rect x="917.23" y="214.6" width="5.2" height="7.6" rx="1" fill="#fff" stroke="#111" stroke-width="1.4" />
<rect x="917.33" y="181.5" width="5" height="4.5" rx="1.2" fill="#222" stroke="#111" stroke-width="0.8" />
<line x1="918.33" y1="184.6" x2="921.33" y2="184.6" stroke="#fff" stroke-width="1.1" />
<rect x="917.33" y="200.8" width="5" height="4.5" rx="1.2" fill="#222" stroke="#111" stroke-width="0.8" />
<line x1="918.33" y1="203.9" x2="921.33" y2="203.9" stroke="#fff" stroke-width="1.1" />
<rect x="926.92" y="164.4" width="5.2" height="7.6" rx="1" fill="#fff" stroke="#111" stroke-width="1.4" />
<rect x="926.92" y="214.6" width="5.2" height="7.6" rx="1" fill="#fff" stroke="#111" stroke-width="1.4" />
<rect x="927.02" y="181.5" width="5" height="4.5" rx="1.2" fill="#222" stroke="#111" stroke-width="0.8" />
<line x1="928.02" y1="184.6" x2="931.02" y2="184.6" stroke="#fff" stroke-width="1.1" />
<rect x="927.02" y="200.8" width="5" height="4.5" rx="1.2" fill="#222" stroke="#111" stroke-width="0.8" />
<line x1="928.02" y1="203.9" x2="931.02" y2="203.9" stroke="#fff" stroke-width="1.1" />
<rect x="936.61" y="164.4" width="5.2" height="7.6" rx="1" fill="#fff" stroke="#111" stroke-width="1.4" />
<rect x="936.61" y="214.6" width="5.2" height="7.6" rx="1" fill="#fff" stroke="#111" stroke-width="1.4" />
<rect x="936.71" y="181.5" width="5" height="4.5" rx="1.2" fill="#222" stroke="#111" stroke-width="0.8" />
<line x1="937.71" y1="184.6" x2="940.71" y2="184.6" stroke="#fff" stroke-width="1.1" />
<rect x="936.71" y="200.8" width="5" height="4.5" rx="1.2" fill="#222" stroke="#111" stroke-width="0.8" />
<line x1="937.71" y1="203.9" x2="940.71" y2="203.9" stroke="#fff" stroke-width="1.1" />
<rect x="946.3" y="164.4" width="5.2" height="7.6" rx="1" fill="#fff" stroke="#111" stroke-width="1.4" />
<rect x="946.3" y="214.6" width="5.2" height="7.6" rx="1" fill="#fff" stroke="#111" stroke-width="1.4" />
<rect x="946.4" y="181.5" width="5" height="4.5" rx="1.2" fill="#222" stroke="#111" stroke-width="0.8" />
<line x1="947.4" y1="184.6" x2="950.4" y2="184.6" stroke="#fff" stroke-width="1.1" />
<rect x="946.4" y="200.8" width="5" height="4.5" rx="1.2" fill="#222" stroke="#111" stroke-width="0.8" />
<line x1="947.4" y1="203.9" x2="950.4" y2="203.9" stroke="#fff" stroke-width="1.1" />
<line x1="559" y1="169.5" x2="960" y2="169.5" stroke="#666" stroke-width="0.9" />
<line x1="559" y1="216" x2="960" y2="216" stroke="#666" stroke-width="0.9" />
</svg></body></html>
